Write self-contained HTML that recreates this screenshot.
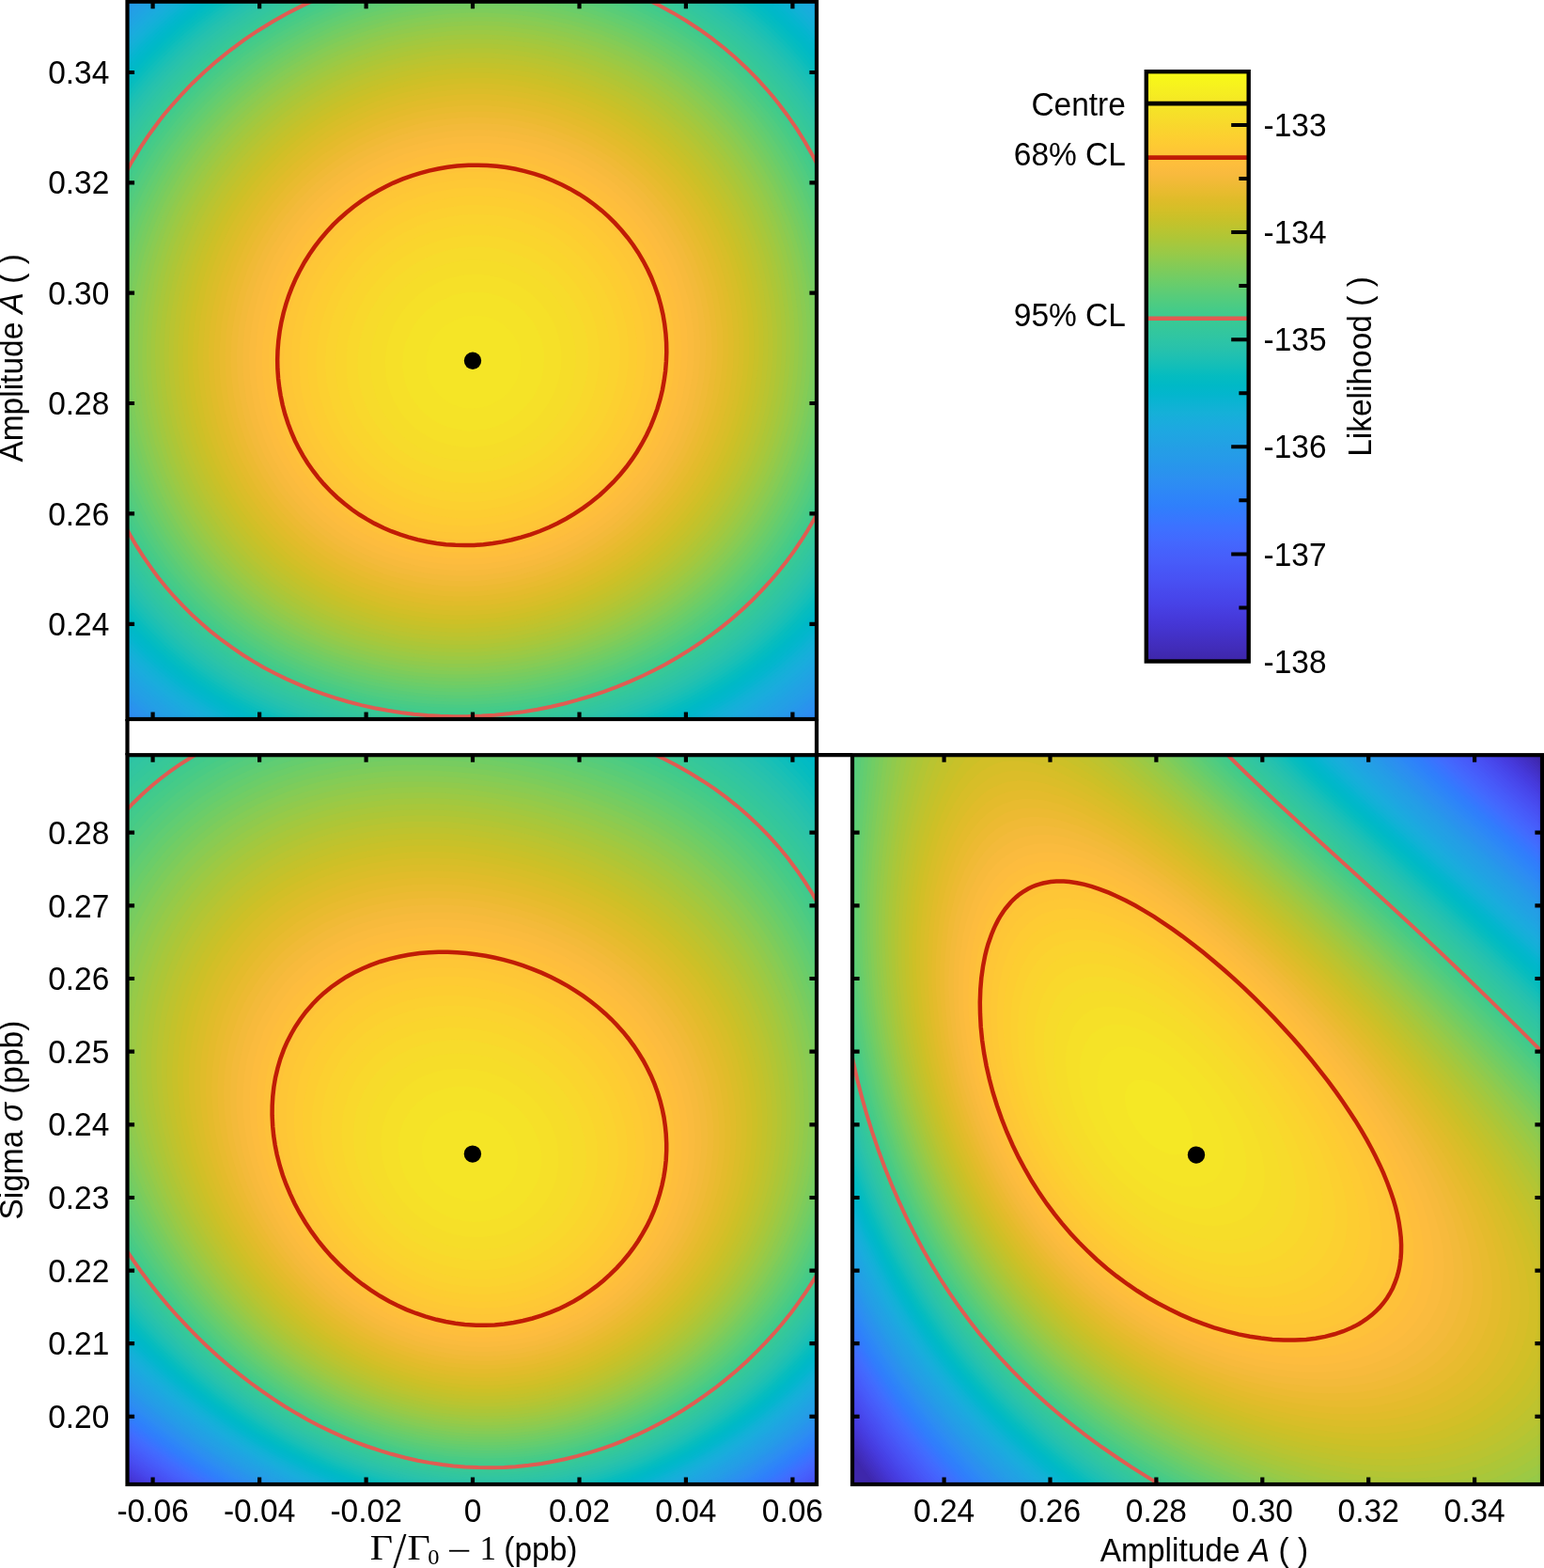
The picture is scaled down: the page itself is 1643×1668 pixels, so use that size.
<!DOCTYPE html>
<html lang="en"><head><meta charset="utf-8"><title>Likelihood contours</title>
<style>html,body{margin:0;padding:0;background:#fff}body{width:1643px;height:1668px;overflow:hidden}svg{display:block}text{font-family:"Liberation Sans",Arial,sans-serif;font-size:33.5px;fill:#000}.m{font-family:"Liberation Serif","DejaVu Serif",serif}.i{font-style:italic}</style></head><body>
<svg width="1643" height="1668" viewBox="0 0 1643 1668">
<rect width="1643" height="1668" fill="#fff"/>
<defs><clipPath id="c1"><rect x="135.5" y="1.7" width="733.5" height="763.3"/></clipPath><clipPath id="c2"><rect x="135.5" y="803.2" width="733.5" height="775.8"/></clipPath><clipPath id="c3"><rect x="907" y="803.2" width="734" height="775.8"/></clipPath><linearGradient id="cb" x1="0" y1="0" x2="0" y2="1"><stop offset="0.0000" stop-color="#f9fb15"/><stop offset="0.0156" stop-color="#f7f51b"/><stop offset="0.0312" stop-color="#f6ef20"/><stop offset="0.0469" stop-color="#f5e924"/><stop offset="0.0625" stop-color="#f5e327"/><stop offset="0.0781" stop-color="#f7dd2a"/><stop offset="0.0938" stop-color="#f9d62d"/><stop offset="0.1094" stop-color="#fcd030"/><stop offset="0.1250" stop-color="#feca33"/><stop offset="0.1406" stop-color="#fec437"/><stop offset="0.1562" stop-color="#febe3c"/><stop offset="0.1719" stop-color="#f9ba3e"/><stop offset="0.1875" stop-color="#f1ba37"/><stop offset="0.2031" stop-color="#e8bb2f"/><stop offset="0.2188" stop-color="#debc29"/><stop offset="0.2344" stop-color="#d4bf27"/><stop offset="0.2500" stop-color="#c8c129"/><stop offset="0.2656" stop-color="#bcc42f"/><stop offset="0.2812" stop-color="#afc636"/><stop offset="0.2969" stop-color="#a2c840"/><stop offset="0.3125" stop-color="#94ca4a"/><stop offset="0.3281" stop-color="#85cb55"/><stop offset="0.3438" stop-color="#77cc60"/><stop offset="0.3594" stop-color="#69cd6b"/><stop offset="0.3750" stop-color="#5ccc76"/><stop offset="0.3906" stop-color="#4fcc80"/><stop offset="0.4062" stop-color="#43cb8a"/><stop offset="0.4219" stop-color="#3ac993"/><stop offset="0.4375" stop-color="#34c79c"/><stop offset="0.4531" stop-color="#2ec5a4"/><stop offset="0.4688" stop-color="#28c2ab"/><stop offset="0.4844" stop-color="#1ec0b2"/><stop offset="0.5000" stop-color="#12beb9"/><stop offset="0.5156" stop-color="#05bcc0"/><stop offset="0.5312" stop-color="#00b9c6"/><stop offset="0.5469" stop-color="#03b6cd"/><stop offset="0.5625" stop-color="#0cb3d3"/><stop offset="0.5781" stop-color="#15b0d8"/><stop offset="0.5938" stop-color="#1aacdd"/><stop offset="0.6094" stop-color="#1ea7e1"/><stop offset="0.6250" stop-color="#21a3e3"/><stop offset="0.6406" stop-color="#249ee6"/><stop offset="0.6562" stop-color="#269ae9"/><stop offset="0.6719" stop-color="#2895ec"/><stop offset="0.6875" stop-color="#2c90f0"/><stop offset="0.7031" stop-color="#2d8bf4"/><stop offset="0.7188" stop-color="#2e85f8"/><stop offset="0.7344" stop-color="#2f80fb"/><stop offset="0.7500" stop-color="#347afd"/><stop offset="0.7656" stop-color="#3a74ff"/><stop offset="0.7812" stop-color="#3f6eff"/><stop offset="0.7969" stop-color="#4368fe"/><stop offset="0.8125" stop-color="#4562fc"/><stop offset="0.8281" stop-color="#475dfa"/><stop offset="0.8438" stop-color="#4757f7"/><stop offset="0.8594" stop-color="#4852f4"/><stop offset="0.8750" stop-color="#484cef"/><stop offset="0.8906" stop-color="#4746eb"/><stop offset="0.9062" stop-color="#4741e5"/><stop offset="0.9219" stop-color="#463bdd"/><stop offset="0.9375" stop-color="#4536d5"/><stop offset="0.9531" stop-color="#4332ca"/><stop offset="0.9688" stop-color="#422ebf"/><stop offset="0.9844" stop-color="#402ab4"/><stop offset="1.0000" stop-color="#3e26a8"/></linearGradient></defs>
<g clip-path="url(#c1)">
<g shape-rendering="geometricPrecision"><rect x="132.5" y="-1.3" width="740" height="770" fill="#2f81fa"/>
<path fill="#2e84f9" d="M132.5-1.5l740 0 0 770-0.5 0-739 0-0.5 0z"/>
<path fill="#2e86f7" d="M132.5-1.5l740 0 0 766.5-5.5 3.5-730 0-4.5-3.5z"/>
<path fill="#2d88f6" d="M132.5-1.5l740 0 0 762.5-10 7.5-721.5 0-8.5-6.5z"/>
<path fill="#2d8bf4" d="M132.5-1.5l740 0 0 759-15 11-712.5 0-12.5-9.5z"/>
<path fill="#2d8df2" d="M132.5-1.5l740 0 0 755.5-19.5 14.5-704 0-16.5-13z"/>
<path fill="#2c8ff0" d="M132.5-1.5l740 0 0 752-12 9-12.5 9-695 0-20.5-16z"/>
<path fill="#2b91ef" d="M132.5-1.5l740 0 0 748-14 11-15.5 11-686 0-12.5-9.5-12-10z"/>
<path fill="#2a93ed" d="M133.5-1.5l739 0 0 744.5-17.5 13.5-17 12-676.5 0-15-11-14-12 0-746z"/>
<path fill="#2895ec" d="M135 0.5l2-2 735.5 0 0 740.5-20 15.5-19.5 14-667.5 0-17-13-16-13 0-739.5z"/>
<path fill="#2798ea" d="M138.5 0.5l2-2 732 0 0 737-22 17-23 16-657.5 0-19.5-14.5-18-15 0-733z"/>
<path fill="#269ae9" d="M142 0.5l2-2 728.5 0 0 733-12 10-12 9-14 10-12 8-648 0-21.5-16-20.5-17 0-726z"/>
<path fill="#259ce7" d="M145.5 0.5l2-2 725 0 0 729-13.5 11-13 10-14 10-14.5 10-638.5 0-12.5-8.5-12-9.5-12-9.5-10-9 0-719.5z"/>
<path fill="#249ee6" d="M149 0.5l2.5-2 721 0 0 725.5-14 11.5-14.5 11-15.5 11.5-16.5 10.5-628.5 0-14-10-13-9.5-12.5-10.5-11.5-10 0-712.5z"/>
<path fill="#23a0e5" d="M153 0.5l2-2 717.5 0 0 721.5-15.5 12.5-16.5 13-16 11.5-18 11.5-618.5 0-15.5-10.5-14-11-12.5-10.5-13.5-11.5 0-705.5z"/>
<path fill="#22a1e4" d="M156.5 0.5l2.5-2 713.5 0 0 717.5-16 13.5-18 14-18.5 13-19 12-608.5 0-16-11-14.5-11-14.5-12-15-13 0-698.5 12-11.5z"/>
<path fill="#21a3e3" d="M160.5 0.5l2-2 710 0 0 0.5 0 713-17.5 14.5-18.5 15-20 14-21 13-598 0-17-11.5-16.5-12.5-15.5-12.5-16-14.5 0-691 14-13.5z"/>
<path fill="#1fa5e2" d="M164 0.5l2.5-2 701.5 0 0.5 0.5 4 4 0 704.5-19.5 17-20.5 16-20 14-22.5 14-587.5 0-18-12-19-14-17-14-16-14.5 0-684 16-15.5z"/>
<path fill="#1ea7e1" d="M168 0.5l2.5-2 693 0 3 3 6 6 0 696-20 17.5-22 17.5-22 15-24 15-577 0-21-13.5-18-13.5-18-15-18-16.5 0-676 17.5-17.5z"/>
<path fill="#1ca9df" d="M172 0.5l2.5-2 684.5 0 5.5 5.5 8 8 0 687.5-10.5 9-11.5 10-10 8.5-12 9-12 8.5-12 8.5-12.5 7.5-13.5 8-566 0-21.5-14-20.5-15-20-16.5-18-17 0-668.5 19.5-19z"/>
<path fill="#1babde" d="M176.5 0.5l2-2 676.5 0 7.5 7.5 10 10.5 0 678.5-10.5 9.5-11.5 10.5-12 9.5-13 10-13 9.5-13.5 8.5-12.5 8-14 8-555 0-11-7-12-7.5-10-7.5-12-9-10-8-10.5-9-9.5-8.5-9.5-9.5-0.5 0 0-661 10.5-11 10.5-10 11-10z"/>
<path fill="#19addc" d="M180.5 0.5l2.5-2 667 0 10.5 10 12 12.5 0 669.5-12 11.5-12 10.5-12.5 10-13 10-12.5 9-14 9.5-14 8.5-15.5 9-544 0-12.5-7.5-12-8-12-8-10-7.5-11-9-11-9.5-10-9-9.5-9.5-2.5-2 0-653.5 12-12 10.5-10.5 13.5-11.5z"/>
<path fill="#17aeda" d="M184.5 0.5l2.5-2 658.5 0 12.5 12 14.5 15 0 661-12 11.5-12.5 10.5-13.5 11.5-14 11-14 9.5-15 10-15 9.5-16 8.5-532 0-13.5-8-12.5-8-11.5-8-11-8-11.5-9-10.5-9-11-10-10-10-4.5-4 0-645.5 12-12.5 12.5-12 13.5-12z"/>
<path fill="#14b0d8" d="M189 0.5l2.5-2 649.5 0 15.5 15 16 17 0 651.5-1 0.5-12 12-13.5 12-13.5 11-14.5 11-15.5 11.5-16 10-16 10-16 8.5-520.5 0-13.5-7.5-13-8.5-13-9-12-8.5-12-9.5-10.5-9-11-10-10-10-6.5-6 0-637.5 12-12.5 14.5-14 15.5-14z"/>
<path fill="#11b1d6" d="M193.5 0.5l2.5-2 640 0 10.5 9.5 10 10 16 17 0 642.5-6 6-14 13-14 12-14 11.5-14 10.5-15 10-15.5 10-15.5 9.5-16.5 8.5-508.5 0-14-8-13-8-14-9.5-12-8.5-12.5-10-12-10-11.5-10.5-11.5-11.5-6.5-6.5 0-629 14-14.5 14-14 16-14z"/>
<path fill="#0db3d3" d="M198 0.5l2.5-2 631 0 13 12 12 12 16 17.5 0 633-12 11.5-12.5 12-14 12-15.5 12-13.5 10-15 10-15.5 10-16 9.5-16.5 8.5-496.5 0-15-8-14-9-14-9-14-10-12.5-10-13.5-11.5-12-11-11.5-11.5-6.5-6.5 0-620.5 14-15 16-16 18-15.5z"/>
<path fill="#08b4d1" d="M202.5 0.5l2.5-2 621.5 0 15.5 14 14.5 15 16 17.5 0 623-16.5 16.5-13 12-14 12-14.5 11.5-15 10.5-15 10.5-16 9.5-16 9-17.5 9-483.5 0-15-8-16-9.5-15.5-10.5-14-10-13-10-14-12-13-12-12-12-6.5-7 0-612 15.5-17 16.5-16 18-16z"/>
<path fill="#04b6ce" d="M207 0.5l2.5-2 612 0 17.5 16 18 18 15.5 17.5 0 613.5-11 11-11 11-12.5 11-14 12-15.5 12-14.5 10-15.5 10.5-16 9.5-18 10-16 8-471 0-15-8-17-10-15.5-10-15.5-11-14-11-14.5-12-13.5-12.5-13-13.5-7-7 0-603.5 17.5-19.5 18.5-17.5 18.5-16.5z"/>
<path fill="#02b7cb" d="M211.5 0.5l3-2 601.5 0 12 10 10.5 10 10 10 9.5 10 14.5 16.5 0 603.5-13.5 14-14.5 14-13.5 12-14.5 12-14 10.5-16 11-16 10.5-16 9-16 9-17 8-457.5 0-17.5-9-18-10.5-16.5-10.5-15.5-11-16-12.5-14.5-12.5-13.5-12.5-14-14.5-6-6.5 0-594.5 18-20 20-19.5 20-17.5z"/>
<path fill="#00b8c9" d="M216.5 0.5l3-2 591.5 0 12 10 11.5 11 11.5 11 11.5 12 15 17.5 0 593.5-16 17-16.5 16-14 12-15 12-14.5 11-16 11-16 10-16 9-17.5 9-16.5 8-444 0-19.5-10-17.5-10-19-12-16-11-16.5-13-15.5-13.5-14-13-14-15-6-6.5 0-585.5 10-11.5 10-11 10-10 10-9.5 21-18.5 11-8.5z"/>
<path fill="#00b9c6" d="M221.5 0.5l3-2 581 0 14.5 12 13 12 13.5 13.5 12 12.5 14 17 0 583-9 10-9.5 10-9.5 9.5-10 9-14 12-14.5 11.5-15.5 11.5-16 10.5-16 10-16 9-18 9-17.5 8-430 0-20-10-18.5-10-19-12-17-12-18-13.5-16-14-15-14.5-15-16-6-7 0-576 10-11.5 10-11.5 10-10 12-11.5 11.5-10.5 12-10 12.5-9.5z"/>
<path fill="#02bbc3" d="M226.5 0.5l3-2 570.5 0 15 12 15.5 14.5 14 13.5 14 15.5 14 17 0 572.5-10 11.5-11 11.5-11 11-12.5 11-14.5 12-15 12-14.5 10-15.5 10-16.5 10-17.5 9.5-17 8.5-18 8-415.5 0-20.5-10-21-11-20-12.5-18-12.5-18-14-16-14-16-15-15.5-17-6.5-7.5 0-567 10-11.5 10.5-12 11.5-11.5 12-11.5 12-11 12-10 12.5-10z"/>
<path fill="#05bcc0" d="M231.5 0.5l3-2 560 0 17.5 14 16.5 15 15 15 15 16.5 14 17.5 0 562-12 14-12 12-12 12-14 12.5-14 11.5-16 12-16 11.5-16 10-16 9.5-17.5 9-17 8-18 8-400.5 0-23-10.5-21-11.5-21-12.5-19.5-13.5-18.5-14-18-16-16-16-16-17-6-7.5 0-557 10-12.5 12-13 12-12.5 12-11.5 12-11 14-11.5 13.5-10.5z"/>
<path fill="#09bdbd" d="M237 0.5l3-2 549 0 19.5 16 18 16 16 16 16 18 14 17.5 0 551-13.5 15.5-13 14-14.5 14-16 14-15 12.5-16 11.5-15 10-16 10-17 9.5-16.5 8.5-17.5 8.5-18.5 7.5-385 0-22.5-10-12-6-12-6.5-22-13-20-13.5-19-15-19-16-18-18-16-18-6-7.5 0-547 11-13.5 12-14 12-12 13-12.5 12.5-11.5 14.5-12 15-11.5z"/>
<path fill="#0fbebb" d="M242.5 0.5l3-2 537.5 0 10.5 8 11 9 19.5 17 10 10 8.5 9 16.5 19 13.5 17.5 0 540-14 16.5-15 16-17 16-16 14-15 12-15 11-17 11-16.5 10-16.5 9.5-18 9-18 8-19 7.5-368.5 0-24.5-10.5-12-5.5-12-6.5-12-6.5-11-7-21-14-10.5-8-10.5-8-9.5-8-9.5-8.5-9.5-9.5-10-10-8.5-9.5-8-9.5-6-7.5 0-537 11.5-14.5 12-14 13.5-14 13-12.5 15-13.5 15-12 14-10.5z"/>
<path fill="#15bfb8" d="M248 0.5l3-2 526 0 11.5 8.5 12 9.5 10 8.5 10.5 9.5 10 10 9.5 10 10 11 9 11 13 17 0 529-15 18-17 18.5-18 17-19.5 16.5-14.5 11.5-16 11-16 10.5-18 10.5-16.5 8.5-17.5 8.5-18 8-19.5 7.5-352 0-14.5-5.5-12-5.5-12-5.5-12-6-12-6.5-12-7.5-12-7.5-11.5-8-10.5-7.5-10.5-8.5-9.5-8-11-10-10-10-9-9-9.5-11-8.5-10-6-7.5 0-527 12-15 12.5-14.5 13-14 14.5-14 15.5-14 15-12 15.5-12z"/>
<path fill="#1ac0b5" d="M253.5 0.5l3.5-2 514 0 11.5 8.5 12.5 9.5 12 10 11.5 11 11.5 11 10.5 11 10 11.5 9.5 11.5 12.5 17 0 517-8 10-8 10-9 10-9.5 10-9.5 9.5-10 9-11 9.5-11 9-16 12-16 11-16.5 10-17.5 10-18 9.5-18 8.5-18 7.5-18.5 6.5-334.5 0-15-5.5-14-6-14-6.5-12-6-12-6.5-12.5-7.5-12.5-8-12-8-11-8-12-9.5-10-8.5-10.5-10-10-10-9.5-10-10-11-8.5-11-5.5-6.5 0-516.5 13-17 13-15 14-15 14.5-14 15.5-13.5 16-13.5 17.5-13z"/>
<path fill="#1fc0b2" d="M259.5 0.5l3.5-2 502 0 13.5 10 13.5 10 12.5 11 12 11 12 11.5 11.5 12.5 10.5 12 10 12.5 12 16.5 0 505.5-9 11.5-9 11-10 11-10 11-10 9.5-12 11-12 10-11 8.5-15 11.5-16.5 10.5-17.5 11-18 10-18 9-18 8-20 8-18 6-316 0-16-5.5-14-6-14-6-14-7-14-7-12-7-14-9-12-8-12-9-12-9.5-11.5-10-10.5-9.5-10-10.5-10-10.5-10-11.5-9.5-12-4.5-6 0-506 12-16 14-16 14.5-16 16.5-16 15.5-14 17.5-14 18-13z"/>
<path fill="#24c1af" d="M265.5 0.5l3.5-2 489.5 0 14.5 10 15.5 12 14 12 12 11 12 11.5 12.5 13.5 11.5 14 11 14 11 15.5 0 493-10 13.5-10 12-10.5 12-11.5 12-12 11.5-12 10.5-12 10-13 10-17 12-16 10.5-18 10.5-17.5 9-18.5 9-18 7.5-20 7.5-18.5 6-295.5 0-16-5-14-5.5-16-6.5-14-7-15.5-8-14.5-8-13-8-13-8.5-12.5-9.5-13-10-11.5-10-11-10-11.5-12-10.5-11.5-10-11.5-10-13-4-5.5 0-494.5 13-18 15-17.5 15-16.5 16.5-16 18-16 17.5-14 19-13.5z"/>
<path fill="#27c2ac" d="M272 0.5l3-2 476.5 0 15 10 16 12 16 13 14 13 14 14 12 13 12 14.5 11 14.5 11 16 0 480.5-10 13.5-11 14-11 12.5-12 12.5-13.5 13-12.5 11.5-13.5 10.5-14.5 11-16 11-18 11.5-18 10-18 9.5-18 8-20 8-20 7-19 6-275 0-16-5-16-5.5-16-6.5-16-7.5-15-7.5-15-8-14-8.5-14-9.5-14-10-12.5-10-12-10-12.5-12-12-12-10.5-12-10.5-12.5-10-13-4-6 0-483 14-19 15-18.5 16.5-18 16.5-15.5 18-16 18-14.5 20-14z"/>
<path fill="#2bc3a9" d="M278.5 0.5l3-2 463.5 0 17.5 12 16 11.5 16 13 15 13.5 15 15 13.5 15 12.5 15.5 12 16 10 15 0 468-11.5 15.5-11 14-12 14-13.5 14-14 13.5-14 12.5-14 11-15 11-17 11.5-18 11-18 9.5-20 10-19 8-19 7.5-20 6.5-21 6-251.5 0-17.5-5-16-5.5-18-6.5-16-7-16-7.5-16-8.5-16-9.5-14-9.5-14-10-14-11-14-12-12-11.5-12-12-10.5-12.5-11.5-14-10-13.5-4-5.5 0-471.5 14-19.5 16-20 16.5-18 17.5-17 19-17 20.5-16 20.5-14z"/>
<path fill="#2dc4a5" d="M285 0.5l3.5-2 449.5 0 18.5 12 18 13 18 14.5 16 14.5 15.5 16 14.5 16 12.5 16 13 18 8.5 13.5 0 454.5-11.5 16-12 16-14 16-13.5 14-14.5 14-16 14-15.5 12-17 12-18 12-18 10-19 10-19 9-20 8-20 7.5-20 6-21.5 5.5-226.5 0-18-4.5-18-5.5-18-6.5-18-7.5-17-8-17-8.5-16-9.5-16-10-14-10-15.5-12-13.5-12-13-12-12-12.5-12-13.5-12-15.5-10.5-14.5-3.5-5 0-459.5 14-20 16-20 17-19.5 19-18.5 20-17.5 20.5-16 11.5-8 11.5-8z"/>
<path fill="#30c5a2" d="M292 0.5l3.5-2 435 0 20 12.5 19 13.5 18 14 17.5 16 16 16 16 18 14 18 13.5 19.5 8 13 0 441-12 17.5-13 17-13.5 16-15 16-16.5 15.5-16 14-18 13.5-18 12.5-18 11-20 11.5-20 9.5-19.5 8.5-20.5 8-20 7-22 6-22 5-198 0-20-4.5-20-5.5-20-7-18-7-18-8-18-9-18-10-16-10-15-11-15.5-12-14-12-14.5-14-13.5-14-12-14-12-16-11-16-2.5-3.5 0-446.5 8-12 7-10 9-12 8-9.5 9-10.5 9-10 18-18 11.5-10 10.5-9 11.5-9 10.5-8 12-8 11.5-8z"/>
<path fill="#32c69f" d="M299 0.5l3.5-2 420.5 0 21.5 13 20 14 19.5 15 18.5 17 9.5 9 8.5 9 16 18.5 8 10 7.5 10.5 13.5 20 7 11.5 0 427-13 19.5-13.5 18-15 18-15 16-17.5 16.5-18.5 15.5-19.5 14.5-20 13.5-18 10.5-20 11-20 9-20 8.5-20 7-22 7-20 5.5-22 4.5-7 1-165 0-4-0.5-22-4.5-20-5.5-20-6.5-20-7-18-8-20-9.5-18-10-18-11-16-11.5-16-12-16-14-14.5-14-13.5-14.5-13-15.5-12-16-11-16.5-2-3.5 0-433.5 8-12.5 8-11.5 8-10.5 9.5-12 8.5-10 10-11 10-10 10-9.5 10-9.5 12-10 12-9 12-9 12-8 12-7.5 12-7.5z"/>
<path fill="#34c79b" d="M306.5 0.5l3.5-2 405 0 11.5 6.5 12 7.5 10 6.5 11 7.5 11 8 10 8.5 10 8.5 10 9 10 10 8 8.5 8.5 9.5 9.5 11.5 8 10.5 7.5 10 6.5 10 7.5 12 6.5 11 0 412.5-13 20.5-7 10-8 10-15 18-17 18.5-10 9.5-9 8-19 16-20 14.5-22 14.5-19.5 11-18.5 9.5-20 9-20 8-22 7.5-20 6-20 5-22 4-20 3-123 0-15-2-16-3-21.5-5-20.5-5.5-18.5-6.5-19.5-7-19.5-9-18.5-9-18-10.5-16-10.5-16.5-12-15.5-12-15.5-14-14-14-14.5-16-12-15-12-16.5-10.5-16.5-1.5-2.5 0-420 8-13 8.5-12.5 8.5-12 9-11 10-12 10-11 9.5-10 10.5-10 11-10 12-10 13-10 11-8 12-8 13-8 14-8.5z"/>
<path fill="#37c898" d="M314 0.5l4-2 389 0 11.5 6.5 13.5 7.5 10.5 7 12 8 12 9 10 8 10 8.5 10.5 9.5 10 10 9.5 10 9 10 9 11 8.5 11 8.5 12 7.5 12 7.5 12 6 11 0 397-6 10.5-7.5 11.5-8.5 12-7.5 10-8 10-8.5 10-9 10-9 9.5-10 9.5-10 9-20 16.5-10.5 7.5-12 8-11.5 7.5-12 7.5-18 10-20 9.5-20 8.5-20 7.5-20 6.5-22 6-22 5-20 3.5-22 3-21 1.5-57.5 0-17.5-1-18-2.5-18-3-17.5-3.5-20.5-5-20-6-20-7-19-8-19-8.5-18-10-18-10.5-15.5-11-16-12-14.5-12-15-14-13.5-14-12-14-12.5-16-11-16-11-18-1-1.5 0-406 8-13.5 8-12 9-13 9-12 10-12 11-12 11-11 11-11 11-10 12-10 13-10 13-9 13.5-9 12.5-8 14-8z"/>
<path fill="#39c994" d="M322 0.5l4.5-2 372 0 14 7.5 12 7 13 7.5 11.5 8 11.5 8.5 12.5 9.5 11.5 10 11 10 11 11 10 10.5 10 12 8.5 10.5 9 12 8 12 8.5 13.5 7.5 12.5 4.5 9 0 381.5-6.5 11.5-7.5 12-8 12-9 12-9 12-9 10-9 10-10 10-10.5 10-11 10-10.5 8.5-12 9.5-11.5 8-12 8-12.5 8-12 6.5-18.5 9.5-19.5 9.5-20 8-20 7-20 6-22 5.5-20 4.5-22 3.5-22 2-20 1.5-22 0.5-20-0.5-20-1.5-22-2.5-20-3.5-22-4.5-20-5.5-20-6.5-20-7.5-18-7.5-18-9-16.5-9.5-17.5-10.5-16-11.5-15.5-12-14.5-12.5-14-13.5-14-15-12.5-15-12-16-10.5-16-10.5-18-0.5-0.5 0-392 8-13.5 8.5-14 9.5-13 9.5-13 10-12 10.5-12 11.5-12 12.5-11.5 12-11 14-11.5 13-10 13-9 14-9 14-8 14-8z"/>
<path fill="#3dc990" d="M330.5 0.5l4.5-2 354.5 0 13 6.5 14 7.5 14 8.5 14 9 12 8.5 13 10 11.5 10 11.5 10.5 11.5 11.5 10.5 11.5 10 11.5 10 13 9 12 9 14 8.5 14 7.5 13.5 4 8 0 365-7.5 13.5-7 12-8 12-8.5 12-9 12-10 12-10 11-11 11-11 10.5-12 10.5-12 10-12 9-12 8.5-14 9-12 7-14 7.5-18 9-20 9-20 7.5-20 6.5-21 6-21 5-20 3.5-22 3-22 2-20 1-22 0-20-1-22-2-20-3-20-4-20-4.5-20-6-18-6-19.5-8-18.5-8-18-9.5-17.5-10.5-16.5-11-15-11-15-12-15-14-13.5-14-12.5-14-11-14-12-16.5-10-16-10-17.5 0-376.5 8.5-15.5 8.5-14 9-13 10-13.5 11-13.5 11-12.5 12-12.5 12-11.5 12.5-11.5 13.5-11 14-10.5 15-10.5 15-9.5 14.5-8.5 15.5-8z"/>
<path fill="#41ca8c" d="M339.5 0.5l4.5-2 336 0 16.5 8 14 7.5 14 8 14 9 14 9.5 13 10 13 11 12 11 12 12 11 12 11 13 10 13.5 9.5 13.5 9 14 8 14 8.5 16 3 6.5 0 347.5-7.5 14-8 14-8.5 14-8.5 12-9.5 12.5-10 12-10.5 11.5-11.5 12-12 11.5-12.5 10.5-12.5 10-13.5 10-13.5 9.5-14 8.5-14 8-16 8.5-18 8.5-20 8-20 7-20 6.5-20 5-20 4-20 3.5-22 2.5-20 1.5-22 0.5-22-0.5-20-1.5-20-2.5-20-3-20-4.5-20-5-19.5-6.5-18.5-6.5-18-8-18-8.5-18-10-16-10-16-11-15.5-12-14.5-12.5-14-13.5-13-14-12-14-11-14.5-10.5-15.5-9.5-16-10-18 0-360.5 8-15.5 9.5-16 9.5-14 10-14 11.5-14 11.5-13.5 12-12.5 12.5-12 13.5-12 14-11.5 14-10.5 16-10.5 16-10 16-9 16-8.5z"/>
<path fill="#45cb88" d="M349 0.5l5-2 316 0 16.5 7.5 16 8 16 9 15.5 9.5 14.5 10 14 11 13.5 11 13 12 12 12 12.5 14 11.5 14 10.5 14 9.5 14 9.5 16 8.5 16 8 16 1.5 3.5 0 330-7.5 14.5-8.5 16-9 14-9.5 14-10.5 14-11 13.5-11.5 12.5-12 12-13 12-13.5 12-13.5 10-14 10-15.5 10-15 9-16 8.5-16 8-18 7.5-20 7.5-20 6.5-18.5 5-19.5 4.5-20 4-20 2.5-22 2-22 1-20 0-20-1-20-2-20-3-20-3.5-20-5-18.5-5.5-19.5-6.5-18-7-18-8.5-16-8-16.5-10-15.5-10-16-11.5-15.5-12.5-14.5-13-12.5-13-13-14-11-14-11.5-15.5-10-15.5-9.5-17-8.5-16.5 0-343.5 8-16 9-16 10.5-16 10.5-14.5 12-15.5 12-14 12-12.5 13.5-13.5 13.5-12 15-12 16-11.5 16-10.5 16-10 18-10 16.5-8z"/>
<path fill="#4acb84" d="M359 0.5l5.5-2 294.5 0 3.5 1.5 18 7.5 16 8 17 9 16 10 15 10.5 16 12 14 11.5 14 13.5 12.5 12.5 12.5 14 11 14 11.5 16 10.5 16 9 16 9 17.5 7.5 16.5 0.5 1.5 0 310.5-7.5 16-8.5 16-9.5 16-9.5 14-11 15.5-12 14.5-12 13.5-12.5 12.5-13.5 12.5-14 12-15.5 11.5-16.5 11.5-16 10-16 9-18 9-18 8-18 7.5-20 6.5-18 5.5-20 5-20 4-20 3-20 2-20 1.5-20 0-20-0.5-20-1.5-20-2-20-3.5-20-4.5-20-5-18-6-18-6.5-18-8-16-7.5-16.5-9.5-16.5-10-15-10-15-12-14-12-13-12-13-14-12-14-11-14-11-16-10-16-8.5-16-8.5-17 0-326 8-17 10-17.5 10-16.5 11-16 12.5-16 12-14 13-14 14.5-14 15-13 16-12.5 16-11.5 16.5-11 17.5-10 18-9.5 18-8.5z"/>
<path fill="#50cc80" d="M370 0.5l6-2 271.5 0 23 9 18 8.5 16 8.5 16 9 16 10.5 14.5 10.5 15 12 13.5 12 13 13 12 13 12 14.5 12 15.5 10 15 10 16.5 9 16.5 7.5 16 7.5 18 0 290-4.5 10-8.5 18-8.5 16-10 16-10.5 16-12 15.5-12 14-12 13-14 13.5-14 12.5-15 11.5-15 11-17 11-17 10.5-18 9-18 8.5-18 7.5-18.5 6.5-19.5 6.5-18 4.5-20 4.5-18 3-20 2.5-20 1.5-20 1-20-0.5-20-1-18.5-2-19.5-2.5-20-4-18-4.5-20-6-18-6-17-7-17.5-8-17.5-9-16-9.5-14.5-9.5-15.5-11-14-11.5-14-13-12.5-12.5-12.5-14-11.5-14-10-14-10.5-16-9-15.5-8.5-16.5-7.5-16.5 0-307 3.5-8.5 9-18 9.5-17 10.5-17 11.5-16 12-15.5 12.5-14.5 13.5-14 14.5-14 15.5-13 16-12.5 16-11 18-11.5 18-10 19-10 19-8z"/>
<path fill="#55cc7c" d="M382 0.5l6.5-2 246.5 0 21.5 8 22 9.5 16 7.5 16.5 9 16 10 15.5 11 14 10.5 14 12 13.5 12.5 12.5 13.5 12 13.5 12 15 10 14.5 10 15.5 9 16 8.5 16 8 18 6.5 17 0 268.5-6 15-7 15.5-8.5 16-9.5 16-10.5 16-10.5 15-12.5 15-12.5 14-13 13-14.5 13-14.5 12-16 12-17 11.5-16 9.5-17 9-17 8.5-18 7.5-20 7.5-20 6.5-18 5-18 4-20 3.5-18 2.5-20 2-20 1-20 0-20-1-18-1.5-20-3-18-3.5-18-4-18-5-18-6-18-6.5-16-7.5-16.5-8-15.5-8.5-16-10-14-9.5-15-12-14-12-13-12.5-12.5-13.5-11.5-13-11-15-9.5-14-10-16-8.5-16-8-16-7-16.5 0-286.5 5.5-13 5.5-12 9-17.5 9.5-16.5 10.5-16 12-16 13-16 13-14.5 14-14 15-13.5 17-13.5 16-11.5 16-11 18-10.5 18-9.5 20-9.5 18-7.5z"/>
<path fill="#5acc77" d="M395 0.5l7-2 218.5 0 18 6 16 5.5 16 6.5 17 8 15 8 16 9.5 16 10.5 14 10.5 14 11.5 13.5 12 12.5 13 12 13 11.5 14 10.5 14 11 16 9.5 16 8.5 16 7.5 16 7.5 18 6 17.5 0 244-4.5 12.5-5.5 14-6 13-6.5 13-9 16-10.5 16-11.5 16-11 14-12.5 14-13.5 14-15 14-14.5 12-16 12-14.5 10-17.5 11-17 9-17 8.5-18 8-18 6.5-20 7-18 5-20 4.5-18 3.5-20 2.5-18 2-20 1-20 0-18-1-18-1.5-20-2.5-18-3-18-4-18-5-18-5.5-18-7-16-7-16-7.5-16-9-15.5-9.5-14.5-10-14-10.5-13.5-11.5-12.5-11.5-12-12.5-12-14-10-12.5-10-14-10-15.5-8-14-8-16-7-16-7-17.5 0-264.5 8.5-22 5.5-11.5 5.5-10.5 10-18 10-16 10.5-15 12-15.5 13.5-15.5 13.5-14 15-14 14-12 16-12 16.5-12 17.5-10.5 18-10 18.5-9.5 19.5-8.5 20-7.5z"/>
<path fill="#60cd73" d="M410 0.5l8.5-2 185.5 0 12.5 3.5 12 3.5 12 4 12 4.5 22 9 11.5 5.5 10.5 5.5 16 9.5 14.5 9 15.5 11.5 14 11 13 11.5 13 12.5 12 13 12 14 11 14.5 9.5 14 10 16 8.5 16 8 16 7 16.5 6.5 17.5 5.5 17 0 217.5-6.5 19.5-8 20-9.5 20-10 18-10 16-10 14.5-12 15.5-12.5 14-13.5 14-14 13.5-15 12.5-15 11.5-16 11-16 10-18 10-18 9-18 8-18 6.5-18 6-20 5.5-18 4.5-18 3.5-20 2.5-18 2-18 1-20 0-18-0.5-18-1.5-18-2.5-18-3-18-3.5-18-5-16-5-18-6.5-16-6.5-16-7.5-16-8.5-14.5-9-15-10-13.5-10-13-10.5-12.5-11.5-12-12-11.5-12-11-14-10.5-14-9.5-14-9-15.5-7.5-14.5-7.5-16-7-16-6-17.5 0-240.5 5.5-16 6.5-16 7.5-16 8.5-16 10-16.5 11.5-17.5 12.5-16 11.5-14 13-14 14.5-14 15-13 16-13 17-12 17-11 18-10 17-9 19-8.5 19-7.5 19-6z"/>
<path fill="#65cd6e" d="M428 0.5l10-2 146 0 16.5 3.5 16 4.5 16 4.5 16 6 14.5 5.5 15.5 7 16 8.5 14 8 16 10 14 10 14 11 13 11.5 13 12.5 12 13 11 12.5 11 14 10 15 9.5 15 8.5 15 8 16 7.5 17 6 16 6 18 4.5 16.5 0 187-4 14.5-4.5 14-5.5 14-5 12-6.5 14-6.5 12.5-8 13.5-7.5 12-10.5 15.5-11.5 14.5-12.5 14.5-13.5 13.5-14.5 14-14 11.5-16 12.5-16 11-16 9.5-18 10-18 9-18 7.5-19 7-19 6-18 5-20 4.5-18 3-18 2.5-18 1.5-18 1-18 0-18-1-18-1.5-18-2-16-3-18-4-18-4.5-16.5-5.5-15.5-5.5-16-6.5-16-7.5-16-8.5-14-8.5-14-9.5-14-10-14-11.5-12-11-12-12-12-13.5-10-12-9-12-9-14-8.5-14-9-16-6.5-14-7-16-5.5-16-5.5-16.5 0-214 3.5-11.5 4-12 9-22 5.5-11.5 5.5-10.5 6.5-12 6-10 10.5-16 11.5-16 12-14 14-15.5 14-14 14-12.5 16-12.5 16-12 17.5-11.5 16.5-9.5 18-9.5 18-8 18-7.5 20-7 20-5.5z"/>
<path fill="#6bcd69" d="M451 0.5l15-2 90 0 18.5 3 18 3 16.5 4 17.5 5 18 6.5 16 6.5 16 7 16 8.5 15.5 8.5 14.5 9.5 14 10 14 11 13 11.5 12.5 12 12.5 13.5 11 12.5 10.5 14 9.5 14 9 14.5 9 15.5 8 16 7 16 6 16 5 16 5 17.5 4 17.5 0 151-1 4-4.5 18-5.5 18-6.5 18-7.5 18-8 16-9 16-10 16-11.5 16-12.5 15.5-12 13.5-14 14.5-14 12.5-16 13-16 12-17 11-17 10-18 9.5-18 8-18 7.5-20 7-18 5.5-20 4.5-20 4-20 3-18 1.5-18 1-18 0.5-16-0.5-17.5-1.5-16.5-1.5-16-2.5-18-3.5-16-4-16-4.5-16-5.5-16-6.5-16-7-14-7-14-8-14-8.5-14-9.5-12-9-12-10-12-11-12-12-10.5-12-10-12-10.5-14-9-13.5-8-13.5-8-15-6.5-14-6-14-6-16-5-16-4.5-16 0-182.5 4-15.5 5.5-16 5.5-16 6-14 7-14 8-15 8-13.5 8.5-13.5 11.5-15.5 12-14.5 14-15.5 14-14 14-12.5 16-13 16-12 17-11 17-10 18-9 18.5-9 19.5-7.5 20-7 19.5-5.5 18.5-4z"/>
<path fill="#71cd64" d="M494 0.5l20.5 0 20 0.5 20 2 20 2.5 20 4 20 5 19.5 6 18.5 7 18 8 18 9 17.5 10 16.5 11 15.5 11 14.5 12 15.5 14 13.5 14 13 15 12 15.5 12 17.5 9.5 16 9.5 18 8.5 18 7 18 7 20 4 14 3 14 3 14 2.5 15.5 0 102.5-2.5 16-3.5 16-4 16-5 16-6 16-6 14-7 15-8 15-8.5 14-9.5 14-10 14-10 12.5-12 13-12 12.5-12 11-13.5 11-13 10-14 10-15.5 10-14.5 8-15.5 8.5-16 7-16 7-16 5.5-18 6-16.5 4-17.5 4-18 3.5-18 2.5-16 1.5-18 0.5-18 0.5-20-1-20-2-20-2.5-20-4-20-5-19.5-6-18.5-6.5-18-8-18-8.5-16-9-16-10-16-12-15-12-15-13.5-14-14-12-14.5-12.5-16-11-16-9.5-16-9-17-8.5-19-7-18-6.5-20-5-18-3-15 0-144.5 3.5-16.5 4-14 4-14 5-14 5.5-14 6.5-14 7-14 8-14 8.5-13.5 8.5-12.5 9-12 10-12 10.5-11.5 10-10.5 12-11.5 12-10.5 12.5-10 13.5-10 14-9 14-8.5 14-8 14-7 16-7.5 14-5.5 16-6 14-4.5 16-4 16-4 16-3 16-2 16-2z"/>
<path fill="#77cc60" d="M504.5 4.5l20 0.5 18 1 18 2 18 3 18 3.5 18 4.5 18 6 18 6.5 16.5 7 17.5 9 16 9 16 10 14 10 15.5 12 13.5 12 12 12 13 14 11.5 14 10.5 14 10 15 9 15 8.5 16 7.5 16 7 18 6.5 18 5 18 4 18 3.5 18 2.5 18 1.5 18 0.5 20-0.5 18-1.5 18-2 18-3 18-4.5 18-5 18-5.5 16-6.5 16-7 16-8.5 16-9.5 16-9.5 14-10 14-11.5 14-13 14-12 12-14 12.5-14 11.5-14 10.5-16 10.5-16 9.5-16 8.5-18 8.5-18 7.5-18 6.5-18 5.5-18 5-20 4-18 3-18 2-20 1.5-20 0-18-0.5-20-1.5-18-2-18-3-18-4-18-5-18-6-17-6.5-17-7.5-16-8-16-9-14.5-9.5-15.5-11-13.5-11-13-12-12-12-13-14-11-14-10-14-9.5-14.5-8.5-15.5-8.5-16-7-16.5-6.5-17.5-6-18-3.5-14-3-14-3-14-2-15 0-92 2.5-17 3-16 4-16 4.5-16 5.5-16 5.5-14 7-15 7.5-15 8-14 8.5-14 10-14 9-12 10-12 11-12 12-12 13-12 13-10.5 14-10.5 14-10 14-8.5 14.5-8.5 15.5-8 16-7.5 16-6.5 16-5.5 16-5 16-4.5 18-3.5 18-3.5 16-2 18-1z"/>
<path fill="#7dcc5b" d="M474.5 10.5l20-1 18-0.5 18 0.5 18 1.5 18 2 18 3.5 18 4 18 5 18 6 16 6.5 16 7.5 16 8 16 9.5 15 9.5 15 11 13.5 11 13.5 12 12 12 12.5 14 10.5 13.5 10 13.5 10 15 9.5 16 8 16 7 16 7.5 18 5 16 5 18 4 18 3.5 18 2 18 1.5 18 0 18-0.5 18-1.5 18-2 18-3 16-4 18-5.5 18-5.5 16-6.5 16-7.5 16-8.5 16-8.5 14.5-10 15-10 13.5-11 13-12.5 14-12.5 12.5-13 11.5-15 12-14 10.5-16 10.5-15.5 9-16.5 9-16 7.5-18 7.5-18 6-18 6-18 4.5-18 3.5-18 3-18 2-20 1.5-18 0.5-18-0.5-18-1-18-2-18-3-18-4-16.5-4.5-17.5-5.5-16-5.5-16-7-16-7.5-15-8.5-15-9-14-9.5-14-10.5-12-10.5-13-12.5-11.5-12-11.5-13-10-13-9.5-14-9-14-7.5-14-8-15.5-7-16.5-6-16-5-16-4.5-16-3.5-17-3-17-2-18-1-18-0.5-18 0.5-18 1-18 2-16 3-16.5 4-17.5 4-16 6-18 6-16 7-16 8-16 8-14 9-14 10-14 10.5-14 11.5-13 12-13 12.5-12 13.5-12 14-11 15-11 15-9.5 14-8.5 16-8 16-8 18-7 18-6.5 16-5 16-4.5 18-3.5 18-3z"/>
<path fill="#84cc56" d="M479.5 14.5l19-1 18 0 18 1 18 1.5 18 2.5 18 3.5 18 4 16 5 16.5 5.5 17.5 7.5 16 7.5 16 8.5 15 8.5 15 10.5 14 10.5 14 11.5 14 13 12 12.5 10.5 12 11 14 10.5 15 9.5 15 8.5 15 8 16.5 7.5 16.5 6 16 5 16 4.5 18 4 18 3 18 1.5 18 1 18 0.5 18-1 18-1.5 18-2.5 16-3.5 18-4 16-5.5 18-6 16-7 16-6.5 14-9 16-8.5 14.5-9.5 13.5-10.5 14-12 14-12 13-12 11.5-14 12-14.5 11.5-15.5 11-16 10-16 9-16 8.5-16 7-16.5 6.5-17.5 6.5-18 5-18 4.5-18 3.5-18 2.5-20 2-18 1-18 0-18-0.5-18-1.5-16-2-16-3-18-4-18-5-16-5-16-6-17.5-8-16-8-14-8-14.5-9-14-10-13.5-11-11.5-10-12.5-12-11-12-10-12-10.5-14-9.5-14-8.5-14-7.5-14-7.5-16-7-16-5.5-16-5.5-18-4-16-3-16-2.5-18-1.5-16-1-18-0.5-18 1-18 1.5-16 2.5-18 3.5-18 4-16 4.5-16 5.5-15.5 6-15 7-15.5 8.5-16 8-14 9-14 10-14 11.5-14 10.5-12 11.5-12 12.5-12 13.5-11 14-11 14-10 15.5-10 14.5-8 16-8.5 16.5-7.5 17.5-7 16-5.5 18-5.5 16.5-4 17.5-3.5 18-2.5z"/>
<path fill="#8acb52" d="M486 18.5l18.5-0.5 18 0 18 1 18 2 18 3 18 4 18 4.5 16 5.5 16 6 16 6.5 16 8 16 9 15 9 14 10 13 10.5 14 12 12 11.5 12 13 11.5 13 10.5 14.5 10 14.5 9 15 8.5 16 7.5 16 7 17 6 17 4.5 16 4.5 18 3 16.5 2.5 17.5 1.5 18 0.5 18-0.5 18-1 18-2 18-3 16-4 18-4.5 16-5.5 16-6 16-7.5 16-7 14-9.5 16-9 14-10 14-11 13.5-11.5 12.5-11.5 12-13.5 12-13.5 11.5-14 10.5-15 10-15 9.5-16 8.5-16.5 8-17.5 7.5-18 6.5-16 5.5-18 4.5-18 4-18 3-18 2.5-18 1.5-18 0.5-18-0.5-18-1-17.5-2-16.5-2.5-17.5-3.5-16.5-4-16-4.5-16-6-16-6.5-15-7-15-8-14-8-14-9.5-14-10-12.5-10.5-11.5-10.5-11.5-11.5-11-12-9.5-12-10.5-14-9-14-8-14-7.5-14-7-16-6.5-16-5.5-16-4.5-16-4-18-3.5-18-2-16-1.5-18-0.5-16 0-18 1-16 2-18 2.5-16 4-18 4-16 5-16 5.5-15 6-15 8-16 7.5-14 8.5-14 9.5-14 10-14 10.5-12.5 12-13 12.5-12.5 13-12 12.5-10 14-10.5 14-9.5 16-9.5 15-8.5 15-7.5 16-6.5 16-6.5 16.5-5.5 17.5-5 16-3.5 18-3.5 18-2.5z"/>
<path fill="#90ca4d" d="M497 22.5l17.5 0 18 0.5 18 2 18 2.5 17.5 3 16.5 4 18 5.5 16 5.5 16 6.5 16 7.5 16 8.5 14.5 8.5 14.5 10 13.5 10 13.5 11.5 13.5 12.5 12.5 13 11.5 13 10.5 14 10 14 8.5 14 9 16 7 14 7 16 6.5 18 5 16 4 16 4 18 2 16 2 18 1 18 0 18-1 18-1.5 16-2.5 18-3.5 16-4 16-5 16-6 16-7 16-7.5 16-8 14-8.5 14-10 14-11 14-10.5 12.5-13 13.5-12.5 12-14.5 12-13 10-15 11-15 9-15 8.5-16 8-17 7.5-17 6.5-16.5 5.5-17.5 5-18 4.5-18 3-18 2.5-18 2-18 0.5-18 0-18-1-16-1.5-18-2.5-16-3-16-4-16-4.5-16-5.5-16-6-16-7.5-14-7-14-8-14-9-13.5-10-12.5-10-12-10.5-12-11.5-11-12-11-13.5-9-12.5-9.5-14-8.5-14-7-14-7.5-16-6.5-16-5.5-16-4.5-16-4-16-3-16-2-16-2-18-0.5-18 0-16 1-18 1.5-16 2.5-16 3-16 4-16 4.5-16 6-16 6.5-16 6.5-14 8.5-16 8-14 9.5-14 10-13.5 10-12 11-12.5 11-11.5 12-11 13.5-11.5 13-10 13.5-9.5 14-8.5 16-9.5 14-7 16-7.5 16-6 16-6 16-4.5 18-4.5 16-3.5 18-2.5 18-2z"/>
<path fill="#96ca48" d="M475 28.5l17.5-1 18-0.5 18 0.5 18 1.5 18 2.5 16 3 18 4 16 4.5 16 5.5 16 6 16 7.5 16 8 14.5 8.5 15.5 10 13.5 10 12 10 12.5 11.5 12 12 11.5 12.5 10.5 13 10 13.5 10 15.5 8.5 14 7.5 15 7 15 6 16 5.5 16 5 18 3.5 16 3 18 2 16 1.5 18 0 18-0.5 16-1 16-2.5 18-3 18-4 16-4.5 16-6 16-6 15.5-7 14.5-8.5 16-8.5 14-9.5 14-10.5 14-10 12-11 12-12 12-13 11.5-13 10.5-13.5 10-15.5 10-14 8.5-16 8.5-16 8-18 7-16 6-16 5-18 4.5-16 3.5-18 3-18 2-18 1.5-18 0-16 0-17.5-1.5-16.5-1.5-18-3-16-3.5-16-4-16-5-16-6-14-6-15-7-15-8-14-8.5-14-9.5-13-10-13-10.5-12-11.5-11.5-12-10-12-9.5-12-10-14-8.5-14-7.5-14-7-14-6-14-6-16-5.5-16-4-16-3.5-16-2.5-16-2.5-18-1-16 0-18 0.5-16 1-18 2-16 3-16 3.5-16 4.5-16 5-16 5.5-14 7-16 7-14 8-14 8.5-14 10-14 9.5-12 11.5-14 11.5-12 11-10.5 13-11.5 13-10.5 14-10 14-9 14-8.5 16-8.5 16-7.5 16-6.5 16-6 16-5 17.5-4.5 16.5-3 16-3z"/>
<path fill="#9cc944" d="M483.5 32.5l17-0.5 18 0 16 0.5 18 2 16 2.5 18 3.5 17 4 17 5.5 16 5.5 16 7 16 7.5 14 8 14 8.5 14 9.5 14 10.5 12 10.5 12.5 11.5 11.5 12 10 12 11 14 10 14 8.5 14 8.5 15.5 7 14.5 7 16 5.5 16 5 16 4 16 3.5 16.5 2.5 17.5 2 16 0.5 18 0 18-1 16-1.5 16-2.5 16-3 16-4 16-5 16-6 16-7 16-7 14.5-9 15.5-8.5 14-10 14-9.5 12-11 13-12 12.5-12 11-13.5 11.5-13 10-14.5 10-15 9.5-15.5 8.5-14.5 7.5-16 7-16 6.5-18 6-18 5-16 4-16 3-18 2.5-18 1.5-18 0.5-18 0-16-0.5-18-2-16-2-16-3.5-16-3.5-16-4.5-15-5.5-15-5.5-14-6.5-15-8-14-8-13-8-13.5-10-12.5-10-12-10.5-11.5-11.5-10.5-11-10-12-9.5-13-8.5-12.5-8-13.5-8-15-7-15-5.5-14-5.5-16-5-16-4-16-3-16-2-16-2-18-0.5-16 0-18 1-16 1.5-16 2.5-16 3-16 4-16 4.5-15.5 5-14.5 6.5-16 6.5-14 7.5-14 8.5-14 9-14 9-12 11-14 10.5-12 12-12 12.5-11.5 12.5-10.5 13-10 14.5-9.5 14-9 14-7.5 15.5-8 14.5-6.5 16-6 16-5.5 16-4.5 16-4 18-3.5 16-2z"/>
<path fill="#a2c83f" d="M498 36.5l16.5 0 18 1 16 1.5 18 2.5 17.5 3 16.5 4.5 16 4.5 16 6 16 6.5 14.5 6.5 14.5 8 15 9 14 9.5 12.5 9.5 13.5 11.5 12 11 11 11.5 11 12.5 10.5 13.5 10 14 9.5 15.5 8 14.5 7 14 6.5 16 6 16 5 16 4 16 3 16 2.5 16 2 18 0.5 18 0 16-1 18-2 16-2.5 16-3 16-4.5 16-5 16-6 16-6.5 14-7 14-8 14-8.5 14-10 14-9.5 12-11 12.5-12 12.5-12 11.5-12 10-14 11-14 9.5-14.5 9-14 8-16 8-17.5 8-16 6-18 6-16 4.5-16.5 3.5-17.5 3.5-18 2-16 1.5-18 1-16-0.5-18-1-16-1.5-16-2.5-16-3-16-4-16-4.5-14-5-16-6-14-6.5-14-7.5-14-8-14-9-12-9-12-10-12-10.5-11.5-11.5-11-12-9.5-12-9-12-9-14-8-14-7.5-14-6-14-6-14-4.5-14-5-16-3.5-16-3-16-2.5-16-1.5-16-0.5-16 0-18 1-16 1.5-16 2.5-16 3-16 4-15 4.5-15 5.5-15.5 6-14.5 6.5-14 7.5-14 8-14 9.5-14 8.5-12 10-12 10.5-12 11.5-12 12-11 12-10 12-9 14-10 14-9 16-9 14-7 15-7 15-5.5 16-5.5 16-5 16-3.5 16-3.5 16-2 16-2z"/>
<path fill="#a8c73b" d="M478 42.5l16.5-1 16 0 18 0.5 16 1 18 2.5 16 3 16 3.5 16 5 16 5.5 16 6 14 6.5 15 7.5 15 9 14 9 13.5 10 12 10 12.5 11.5 10.5 10.5 11 12 10.5 13.5 9.5 12.5 9 14 8 14 7.5 14.5 6 13.5 6.5 16 5 16 4.5 16 4 16 2.5 16 2 16 1.5 18 0 18-0.5 16-1.5 16-2 16-3 16-4 16-4.5 16-5 14-6.5 16-7 14-7.5 14-8.5 14-9.5 14-9 12-9.5 12-12 13-12 12-13 11-13 10.5-13 9.5-15 10-14 8-15.5 8-14.5 7-16 6.5-16 5.5-16 5-16 4-18 4-16 2.5-16 1.5-18 1.5-18 0-16-0.5-16-1-16-2-16-2.5-16-3.5-14.5-4-15.5-4.5-14-5.5-16-6.5-14-7-14-7.5-14-8.5-12-8.5-13-10-11.5-10-11.5-10.5-11-11.5-10-12-9.5-12-8.5-12-8.5-14-8-14-6.5-14-6-14-6-16-4.5-14-4-16-3.5-16-2.5-16-1.5-16-1-16-0.5-16 0.5-16 1.5-16 2-16 3-16 3.5-16 4.5-16 4.5-14 6-14.5 7-15.5 7-14 8-14 8-12.5 9.5-13.5 9.5-12 10.5-12 10.5-11 11.5-11 11.5-10 13-10.5 14-10 14-9 14-8 14-7 15.5-7.5 14.5-6 16-5.5 14-4.5 16-4 16-3 16-3z"/>
<path fill="#adc637" d="M491 46.5l17.5 0 16 0 18 1.5 16 2 16 2.5 16 4 16 4.5 16 5 16 6.5 14 6 14 7 14 8 14 9 14 10 12 10 12 10.5 11.5 11.5 10.5 11.5 10.5 12.5 9.5 13 8.5 13 8.5 14 7.5 14 7 16 6.5 16 5 14 4.5 16 3.5 16 3 16 2 16 1 16 0.5 18-0.5 16-1.5 16-2 16-3 16-3.5 16-4.5 14-4.5 14-6.5 16-6.5 14-7.5 14-8 14-9.5 14-10 13.5-10 12-11.5 12.5-10.5 10.5-12 11-13.5 10.5-12.5 9.5-14 9.5-16 9-14 7.5-14 7-16 6.5-16 6-16 5-16 4-16 3.5-17.5 2.5-16.5 2-18 1.5-16 0-16-0.5-16-1-16-2-16-2.5-16-3.5-15-4-15-4.5-14.5-5.5-15.5-6.5-14-6.5-12-7-14-8.5-12-8-12.5-9.5-12-10-11.5-11-10.5-11-10.5-12-9.5-12-8-12-7.5-12-8-14-7-14-6-14-5.5-14-5-16-4.5-16-3-14-2.5-16-2-16-1-16 0-16 0-16 1.5-16 2-16 2.5-14 3.5-16 3.5-14 5.5-16 5-14 6.5-14 6.5-14 8-14 8-12.5 9-13.5 9.5-12 10-12 11-12 12.5-11.5 11.5-10.5 12.5-10 12-8.5 14-9 14-8.5 14-7.5 14-6.5 14-6 16-5.5 14-4.5 16-4.5 16-3.5 16-2.5 16-2z"/>
<path fill="#b3c534" d="M476.5 52.5l18-1 16-0.5 16 0.5 16 1.5 16 2 16 3 16 3.5 16 4.5 14 4.5 16 6.5 16 7 14 7.5 14 8 14 9 12 9 12 10 12 10.5 10.5 10.5 11 12 10 12 8.5 12 9.5 14 8 14 7.5 14 7 16 5.5 14 5 14 4.5 16 3.5 16 3 16 1.5 16 1.5 16 0 16-0.5 16-1 16-2 16-3 15-3.5 15-4.5 15.5-5 14.5-5.5 14-6.5 14-7.5 14-8.5 14-9 14-9 12-10 12-11 12-12 12-11 10-12.5 10-13.5 10-13 9-14 8.5-14 7.5-16 7.5-14 6-16 6-16 5-16 4-16 3.5-16 3-18 2-16 1-16 0.5-16-0.5-16-1-16-2-14-2-16-3.5-16-4-14.5-4.5-13.5-4.5-14-6-14-6.5-14-7.5-12-7.5-14-9-12-9-12-10-10.5-10-11.5-11.5-10-11.5-8.5-11-9.5-13-8-13-7-12-7-14-6-14-5.5-14-4.5-14-4.5-16-3.5-16-2.5-14-2-16-1-16-0.5-16 0.5-16 1-16 2-14 2.5-16 3-14 4-16 5-14.5 5.5-15.5 6.5-14 6.5-14 7.5-13 8-12.5 8.5-12.5 9.5-12.5 10-12 10.5-11.5 11.5-11 12-10.5 12-9.5 12-9 14-9 14-8.5 14-7.5 14.5-7 15.5-6 16-6 14-4 14-4 16-3.5 16-2.5z"/>
<path fill="#b9c431" d="M491 56.5l17.5 0 16 0 16 1.5 16 2 16 2.5 16 3.5 16 4.5 14 5 16 6 14 6.5 14 7 13.5 7.5 12.5 8.5 13.5 9.5 12.5 10 11.5 10 10.5 10.5 10.5 11.5 10 12 9.5 13 9 13 8 14 7.5 14 6 14 6 14 5.5 16 4 15 3.5 15 3 16 2 16 1 16 0.5 16-0.5 16-1.5 16-2 15.5-2.5 14.5-3.5 14.5-4.5 15.5-5 14-5.5 14-6.5 14-7 14-7.5 12.5-9 13.5-9 12.5-10 12.5-10.5 11-11.5 12-13.5 12-12.5 10-12 9-14 9-14 8.5-14 7.5-14 6.5-16 7-14 5-16 5-16 4-16 3.5-16 3-16 1.5-16 1.5-18 0-16-0.5-16-1-14-1.5-16-2.5-14.5-3.5-15.5-4-16-5-14-5-14-6-14-7-12-7-14-8.5-12-8-12-9.5-11.5-10-10.5-9.5-10-11-10-11.5-9-12-8.5-12-7.5-12-7-12.5-6.5-13.5-6-14-5.5-14-4-14-4-14-3.5-16-2.5-15-1.5-15-1.5-16 0-16 0.5-16 1-14 1.5-14 3-16 3-14 4.5-16 4.5-14 5.5-14 6-14 7-14 6.5-12 8-12.5 9-13.5 9-11.5 10-12 10-10.5 10-10 12-10.5 12-10 13-9.5 13-8.5 14-8.5 14-7.5 14-6.5 14-6 16-5.5 16-5 14-3.5 14-3 16-3 16-1.5z"/>
<path fill="#bec32e" d="M478.5 62.5l16-1 16 0 16 0.5 16 1.5 16 2 16 3 16 3.5 14 4 16 5.5 14 6 14 6 13.5 7 13.5 8 13 8.5 12 9 12 9.5 12 11 10 10 11 12 9.5 12 9 12 8.5 13.5 7.5 12.5 7 14 6.5 14 5.5 14 5.5 16 3.5 14 3.5 14 2.5 16 2 16 1 16 0.5 16-0.5 16-1.5 16-2 14-3 16-3.5 14-4 14-5 14-5.5 14-6.5 14-7.5 14-8 13.5-8.5 12.5-9 12-10 12-10.5 11.5-11 10.5-11 10.5-12 9.5-14 10.5-14 9-14 8.5-14 7-14 6.5-16 6.5-14 5.5-16 4.5-14 3.5-16 3.5-16 2.5-16 2-16 1-16 0.5-16-0.5-16-1.5-14-1.5-16-2.5-14-3-14-4-14-4.5-15-5.5-14-6-13-6-14-8-13-8-11.5-8-11.5-8.5-11-9.5-10.5-10-9.5-10-10.5-12-8.5-11-9-13-7.5-12-7.5-13.5-6-12.5-6-14-5.5-14-4.5-14-3.5-14-3-14-2.5-16-1.5-14-1.5-16 0-16 0.5-16 1.5-16 1.5-14 2.5-14 4-16 3.5-14 5-14 5.5-14 6-14 6-12 8-14 7.5-12 8.5-12 9-12 10.5-12 10.5-11 11.5-11 11.5-10 11-8.5 12-8.5 13.5-9 12.5-7 14-7.5 14-6.5 14-6 14-5 16-5 14-3.5 16-3 14-2.5z"/>
<path fill="#c3c22b" d="M501.5 66.5l15 0.5 16 0.5 16 1.5 16 2.5 14.5 3 15.5 4 16 5 14 5.5 14 6 14 6.5 13 7 13 8.5 12 8 12.5 9.5 12 10 11.5 11.5 10.5 10.5 9.5 11.5 9.5 12.5 8.5 12.5 8.5 13.5 7.5 14 6.5 14 5.5 13.5 5 14.5 4.5 14 3.5 14 3 16 2 15 1.5 15 0.5 16-0.5 16-1 16-1.5 14-3 16-3 14-4 14-4.5 14-5.5 14-6 14-7.5 14-7.5 13.5-8.5 12.5-8.5 12-9 11.5-10 11-11 11.5-11 10-12 10-12 9.5-13 8.5-13 8.5-14 7.5-14 7-14 6-16 6-15.5 5-14.5 4-16 4-16 2.5-16 2-16 1.5-16 0.5-16-0.5-16-1-14-1.5-16-2.5-14-3-14-3.5-14-4.5-14-5-14-5.5-14-6.5-12-7-13.5-8-11.5-8-11-8-12-10-10-9-10-10.5-10-11.5-8.5-11-8.5-12-8-12-7-12.5-6.5-13.5-5.5-12-5.5-14-4.5-14-4-14-3-14-2.5-14-2-14-1-16-0.5-14 0-16 1-14 2-16 2-14 3-14 3.5-14 4.5-14 5-14 6-14 7-14 7-13 8-13 8-12 9-12 9-10.5 10-11 10-10 11.5-10.5 10.5-8.5 12-9 12.5-8.5 13-8 12.5-6.5 14-7 14-6 14-5.5 14-4.5 15-4.5 15-3.5 14-2.5 16-2 14-1z"/>
<path fill="#c8c129" d="M485.5 72.5l15-0.5 16 0 14 1 16 1.5 15.5 2 14.5 3 16 4 14 4.5 14 5 14 6 14 6.5 13 7 13 8 12 8 12 9.5 12 10 11.5 10.5 9.5 10 10.5 12 8.5 11.5 9 12.5 7.5 12 7.5 14 6 12.5 6 13.5 5 14 5 16 3.5 14 3 14 2.5 16 1 14 1 16 0 16-1 14-2 16-2 14-3 14-4 14-4.5 14-5 14-5.5 13-6.5 13-7.5 13.5-8 12.5-8.5 12-9.5 12-10 12-10 10.5-10.5 9.5-11.5 10-13 10-13 9.5-14 8.5-12 7-14 7-14 6-15.5 6-14.5 5-14 4-16 4-16 3-14 2-16 1-16 1-16 0-14-1-14-1-16-2.5-16-3-14-3.5-14-4.5-13-4.5-13-5-14-6.5-12-6.5-13.5-8-12.5-8-10.5-8-11.5-9-9.5-9-10-10-9-10-9.5-11-8-11-8-12-7-12-7-13.5-6-13-5.5-13.5-4.5-14-4-14-3.5-14-2.5-14-2-14-1-14-1-16 0.5-16 0.5-14 1.5-14 2-14 3-14 3.5-14 4-14 5-14 6-14 6-12.5 7-13.5 7.5-12 7.5-12 9-12 9-10.5 10-11.5 10-10 10.5-10 11.5-9.5 11-8.5 12-8 13-8 14-8 12-6 14-6 14-5.5 14-4.5 14-4 15.5-4 14.5-2.5 14-2z"/>
<path fill="#cdc027" d="M478.5 78.5l14-1 16 0 16 0.5 14 1 14.5 1.5 15.5 3 14 3 15 4 13 4.5 14.5 5.5 13.5 6 14 7.5 12 6.5 12.5 8 11.5 8.5 12 9.5 11.5 10 10 10 10.5 11.5 9 10.5 8.5 12 8 12 7.5 12 7 14 6.5 14 5.5 14 5 14 4 14 3 14 2.5 14 2 14 1 16 0.5 16-0.5 14-1.5 16-2 14-2.5 14-3.5 14-4 14-5 14-5 13-6 13-7.5 14-7.5 12-8 12-8.5 12-10 12-9.5 10-10 10-11 10.5-12 9.5-12 9-14 9-12 7.5-14 7.5-14 6.5-14 6-14 5-14 4-16 4.5-16 3-14 2.5-16 1.5-14 1-16 0.5-14-0.5-14-1-16-2-14-2.5-14-3-14-3.5-14-4.5-12-4.5-14-6-12-6-14-7.5-10-6.5-12-8-10.5-8-11.5-9.5-10-9.5-10-10.5-9-10.5-8-10-7-10-8-12.5-7.5-13.5-6-12-5-12-5.5-14-4.5-14-4-14-3-14-2-14-2-14-1-14 0-14 0-16 1-14 2-14 2.5-14 3-14 3.5-14 4.5-14 5.5-14 5.5-12 6.5-14 7-12 7.5-12 8.5-12 9-12 8.5-9.5 10-11 10-9.5 11-10 11-8.5 12-9 12-8 12-7 14-7.5 12.5-6 13.5-5.5 14-5 14-4.5 14-3.5 14-3 14-2.5z"/>
<path fill="#d2bf27" d="M473.5 84.5l15-1 14-0.5 16 0 14 1 16 1.5 14 2.5 14 3 15 3.5 15 5 13.5 5 14 6 12 6 12.5 7 12 7.5 12 8.5 12 9 11.5 10 10.5 10 9.5 10 8.5 10.5 9 11.5 8 12 7.5 12 7.5 14 6 12.5 5.5 13.5 5 14 4.5 14 3 14 3 14 2 14 1 14 0.5 16 0 14-1 14-1.5 14-2.5 14-3 14-4 14-4.5 14-5.5 14-5.5 12-7 14-7 12-7.5 12-9 12-8.5 11-10 11-9.5 10-11 10-11.5 10-10.5 8-12 8-13.5 9-13.5 7-12.5 6.5-14 6-14 5.5-14 4.5-14 4-15.5 3.5-14.5 3-14 2-16 1-16 1-14-0.5-14-0.5-14-1.5-14-2-14-3-14-3-14-4.5-12-4-14-5.5-12-5.5-12.5-7-11.5-6.5-12-8-12-8.5-10.5-9-9.5-8.5-10-10-8.5-9.5-9.5-11.5-8-11-7.5-11.5-7-12-6-12-5.5-12-6-14-4-12-4-14-3-14-3-14-1.5-14-1.5-14-0.5-14 0.5-14 0.5-14 1.5-14 2-14 3-14 3.5-14 4.5-14 5-14 5-12 6-12 6-12 7.5-12 8-12 8.5-11.5 8.5-10.5 9.5-10.5 10-10 10-9.5 12-10 10.5-8 12-8 13-8 12.5-6.5 12-6 14-6 13.5-5.5 12.5-4 14-4 14-3 14-3z"/>
<path fill="#d7be28" d="M495.5 88.5l15 0 14 0.5 16 1.5 14 1.5 14 3 14 3 14 4 14 5 14 5.5 13 6 13 7 12 7 12 8 11 8 11 9 10 9.5 10 10 10 11 8.5 10.5 9 12 7.5 12 7 12 6 12 6 14 5 12 4.5 14 4 14 3 14 2 14 1.5 14 1 16 0 14-0.5 14-1 14-2.5 14-2.5 14-3.5 14-4.5 14-4.5 12.5-5.5 13.5-6 12-6.5 12-7.5 12-8.5 12.5-9 11.5-9 11-10 10.5-10 9.5-10 9-12 9.5-12 8.5-12.5 8-13.5 8-12 6-14 6.5-14 5.5-14 5-14 4-14 3.5-16 3-14 2.5-14 1-16 1-14 0-14-0.5-14-1.5-14-2-14-2.5-14-3-12-3.5-14-5-12-4.5-12-5.5-12-6-12-6.5-12-8-10.5-7.5-11.5-9-10-9-10-9.5-9.5-10.5-8.5-10-8-11-7.5-11-7-12-6.5-12-5.5-12-5-12-4.5-13-4-13-3-12-2.5-14-2-14-1.5-14-1-14 0-14 1-14 1-14 2-13.5 2.5-12.5 3-14 3.5-12 5-14 4.5-12 5.5-12 6-12 7-12 7.5-12 7.5-10.5 9-11.5 9-10.5 10-10.5 10-9.5 10-8.5 11-9 11.5-8 11.5-7.5 12-7 12-6 14-6.5 12-5 14-5 14-4 14-3.5 14-3 14-2 14-1.5z"/>
<path fill="#dbbd29" d="M490 94.5l14.5-0.5 14 0.5 14 1 14 1.5 14 2 14 3 14 3.5 14 4.5 12 4.5 14 6 12 6 14 8 12 7.5 10 7 12 9.5 10 8.5 10 9.5 9.5 10 8.5 10.5 9 11.5 8 12 7 11.5 7 12.5 5.5 12 5.5 13.5 4.5 12.5 4 14 3.5 14 2.5 14 2 14 1 14 0.5 14-0.5 14-1 14-1.5 14-2.5 14-3.5 14-3.5 12-4.5 14-5 12.5-6 13-6.5 12.5-7.5 12-8 12-8 11.5-9 10.5-9 10.5-10 9.5-10 9.5-10.5 8.5-11.5 8.5-12 8.5-12 7-14 8-13.5 6-12.5 5.5-14 5-14 4.5-14 4-14 3-14 2-14 2-14 1-14 0-14 0-14-1-14-1.5-14-2.5-14-2.5-12-3.5-12.5-4-13.5-4.5-12.5-5.5-12.5-6-11-6-12-7-12-8.5-10-7.5-10-8.5-9-8.5-9-9-8-9-8-10-8.5-12-6.5-10-6.5-12-6.5-12-5-12-5-12.5-4.5-13.5-3.5-12.5-3-13.5-2-12-2-14-1-14-0.5-14 0.5-14 1-14 1-12 2.5-14 3-14 3-12 4.5-14 4.5-12 5-12 6-12 6.5-12 7-12 8-11.5 8-10.5 8-10 9-10 9-8.5 10-9.5 10-8 12-9 12-8.5 10.5-6.5 13.5-7 12-6 12-5 14-5.5 13-4.5 13-3.5 14-3 14-2.5 14-1.5z"/>
<path fill="#e0bc2a" d="M487.5 100.5l15-0.5 14 0 14 1 14 1.5 14 2 14 3 12 3 14 4.5 14 5 12 5.5 12 5.5 12 6.5 12 7.5 11 7.5 11 8.5 10 8.5 10 9.5 9.5 9.5 8.5 10 8 10.5 8 11.5 7.5 12 7 12 5.5 12 6 14 4.5 12 3.5 12 3.5 14 2.5 12 2.5 14 1 14 1 14-0.5 14-0.5 14-1.5 13-2 13-3 14-3.5 12-3.5 12-5.5 14-5 12-6 12-6.5 12-7.5 12-7.5 10.5-9 11.5-9 10.5-10 10.5-10 9.5-11.5 9.5-10.5 8.5-12 8.5-12 7.5-12 6.5-14 7-12 5.5-12.5 4.5-13.5 4.5-14 4-14 3.5-14 2.5-14 2-14 1-14 0.5-14 0-14-0.5-12.5-1.5-13.5-2-12-2-14-3.5-14-4-12-4.5-12-4.5-12-5.5-12-6.5-12-7-10-6.5-10.5-8-10-8-9.5-8.5-9.5-9.5-8.5-9.5-8.5-10.5-7-10-7-10-7-12-5-10-6-12-4.5-12-4.5-12-3.5-12-3.5-14-2.5-12-2-14-1-14-0.5-14 0-14 0.5-14 1.5-14 2-12 2.5-12 3.5-14 3.5-12 4.5-12 5-12 5.5-12 6-12 7.5-12 6.5-10 8.5-12 8-10 9-10 8.5-8.5 10-9.5 10-8 12-9.5 10-7 12-7.5 12-6.5 12-6 12-5.5 14-5.5 13.5-4.5 12.5-3.5 12-2.5 14-2.5 14-2z"/>
<path fill="#e4bb2c" d="M487 106.5l13.5-0.5 14 0 14 1 14 1 14 2.5 14 2.5 13.5 3.5 12.5 4 12 4.5 13.5 5.5 12.5 6 10.5 6 11.5 7 10.5 7 10.5 8 11 9.5 10 9.5 9 9 8.5 10 8 10 7 10 7.5 12 7 12 5.5 12 5.5 12 4.5 12 3.5 12 4 14 2.5 12 2 14 1.5 14 0.5 14 0 14-1 14-1.5 14-2 12-2.5 12-3.5 14-4 12-4.5 12-5 12-6 12-6.5 12-8 12-8 12-8 10-9 10-9 9.5-10 9.5-10 8.5-11 8.5-11.5 8-11.5 7.5-12 7-12 6-13 5.5-13 5.5-14 4.5-14 4-12 3-14 2.5-14 2-14 1-14 0.5-14 0-14-0.5-14-1.5-12-2-14-3-12-3-12-3.5-12-4-12-5-12-5.5-12-6.5-10-6-10-6.5-11-8-9.5-8-9.5-8-9.5-10-8.5-9-8-10-8-11-6.5-10-6.5-12-5.5-10-5.5-12-4.5-12-4-12-3.5-12-3-12-2.5-14-2-12-1-12-0.5-14 0-12 1-14 1.5-14 1.5-12 3-14 3-12 3.5-12 4.5-12 5-12 5.5-12 6.5-12 6-10 7.5-12 7.5-10 8-10 9-10 10-10 8.5-8 9.5-8 10.5-8 11.5-8 10-6 12-7 12-6 12-5.5 12-4.5 14-4.5 12-3.5 12-3 14-2.5 14-2z"/>
<path fill="#e8bb2f" d="M488 112.5l12.5-0.5 14 0 14 1 14 1.5 14 2 12 2.5 14 3.5 12 4 12 4.5 12 5 12 5.5 12 6.5 10.5 6.5 11.5 8 10 7.5 10 8.5 10 9.5 8.5 8.5 8.5 10 9 11.5 7.5 10.5 6.5 11 6 11 6 12 5 12 4.5 12 4.5 14 3 12 2 12 2 14 1.5 12 0.5 14 0 14-1 12-1.5 14-2 12-2.5 12-4 14-4 12-4.5 12-5 12-6.5 12-6 11-7 11-7 10-8 10-8.5 10-9.5 10-10 9.5-10 8.5-10.5 8-11.5 8.5-12 7.5-11.5 6-11.5 6-13 6-12 4.5-14 5-12 3-14 3.5-12 2-14 2-14 1.5-14 0.5-14 0-12-0.5-12-1.5-14-2-14-2.5-12-3-12-4-12-4-12-5-11.5-5.5-10.5-5.5-11-6.5-9-6-11-8-10-8-8.5-8-8.5-8-9-10-8-10-7-9.5-7-10.5-5.5-10-6.5-12-5-10.5-4.5-11.5-4-12-3.5-12-3.5-14-2-12-2-12-1-12-0.5-14 0-12 1-14 1-12 2-12 2.5-14 3-12 4-12 4-12 5-12 5.5-12 6.5-12 6-10 7-10 7.5-10.5 8-9.5 8.5-10 9.5-9.5 9-8.5 9.5-8 10.5-8 11-7 10.5-7 11.5-6 12-6 12-5.5 12-4.5 12-4 12-3.5 12-3 14-2.5 12-1.5z"/>
<path fill="#ecba32" d="M492 118.5l12.5 0 14 0 14 1 12 1.5 12 2 14 3 14 3.5 12 4 12 5 12 5 10 5 12 7 11.5 7 10.5 7.5 10 8 10 8.5 8 8 9.5 10 8 10 7.5 10 7 10.5 7 11.5 5.5 10 5.5 12 5 12 4 12 3.5 12 3.5 14 2 12 1.5 12 1 12 0.5 14-0.5 14-0.5 12-2 12-2 13-3 13-3.5 12-4 12-5 12-4.5 10-6 12-7.5 12-6.5 10.5-8 11-8 9.5-8 9-10 10-10 9.5-10 8-10 7.5-10.5 7-11.5 7-12 6.5-12 6-12 5-12 4.5-14 4.5-12 3.5-14 3-14 2-12 1.5-12 1-14 0.5-14-0.5-12-1-12-1.5-12-1.5-12-2.5-12-3.5-12-3.5-12-4.5-12-5-11-5.5-11-5.5-10-6.5-10-6.5-10-7.5-9-8-9-8-8-8.5-8.5-9.5-7.5-10-7.5-10-6-10-6-10-6-12-4.5-10.5-4.5-11.5-4-12-3-12-3-12-2-12-1.5-12-0.5-12-0.5-14 0.5-14 0.5-12 1.5-12 2.5-12 2.5-12 3-12 4-12 4.5-11.5 4.5-10.5 5.5-12 6-10.5 7-11.5 7-10 7.5-10 8.5-10 7.5-8 8.5-8.5 10-9 10-8 10-7.5 10-6.5 10-6.5 12-6.5 11.5-5.5 12.5-5 12-4.5 12-4 12-3 12-2.5 12-2 12-1.5z"/>
<path fill="#f0ba36" d="M502 124.5l12.5 0.5 12 0.5 13 1 13 2 14 3 12 3 12 4 12 4.5 12 5 12 5.5 12 7 10 6 10 7 10 8 8.5 7 9.5 9 8.5 9 8.5 10 8 10 6.5 10 6.5 10.5 6 11 5.5 10.5 5 12 4 12 4 12 3 14 2.5 12 1.5 12 1 12 0.5 12 0 14-1 12-2 14-2 12-2.5 12-3.5 12-4 12-4 10-5.5 12-6 12-6 10-6.5 10-8 11-8 10-8 9-10 10-8.5 8-9.5 8-11 8-11 8-10.5 6-11.5 6.5-12 6-12 5-12 4.5-12 4-12 3-13.5 3-12.5 2.5-14 1.5-12 1-14 0.5-12-0.5-12-0.5-12-1.5-12-2-12-2.5-12-3-12-3.5-10-4-12-5-10.5-5-11-6-10.5-6-10-7-9-7-10-8-8.5-8-7.5-8-7.5-8-8-10-7-10-6.5-10-5.5-10-5-10-5.5-11.5-4-10.5-4-12-3.5-12-2.5-12-2-11-1.5-13-1-12-0.5-12 0.5-12 0.5-12 1.5-12 2-12 2.5-12 3-12 4-12 4-12 4.5-10 6-12 5-10 6-10 7-10 7.5-10 7-8.5 8-9 8-8.5 9-8 9.5-8 9.5-7 10-7 10-6.5 12-6.5 10-5 12-5.5 12-4.5 12-4 12-3.5 12-3 12-2 12-1.5 12-1z"/>
<path fill="#f3ba3a" d="M478.5 132.5l14-1 12-0.5 12 0.5 12 0.5 14 1.5 12 2 12 2.5 12 3.5 12 4 12 4.5 11.5 4.5 10.5 5.5 12 6.5 9.5 6 8.5 6.5 10 7.5 9.5 8 8.5 8 8 8.5 8 9.5 8 10 6 9 6 10 6.5 11 5.5 12 4.5 10 4 12 4 12 3 12 2 12 2 12 1 12 0.5 12-0.5 12-0.5 12-1.5 12-2 12-2.5 12-3 12-4 12-5 12-4 10-6 11.5-6 10.5-6.5 10-7.5 11-7.5 9-8.5 10-8 8-8.5 8-9.5 8.5-10 7.5-10 7-11 7-11 6.5-12 6-12 5-12 4.5-12 4-12 3.5-12 3-12 2-12.5 1.5-13.5 1.5-12 0.5-12-0.5-12-0.5-12-1-12-2-12-2.5-12-2.5-10-3-10.5-4-11.5-4.5-11.5-5.5-10.5-5.5-10-5.5-10-7-8-6-10-8-9-8-8-8-7-8-8-9.5-6-8.5-6.5-10-6-10-5.5-10-4.5-10-5-12-3.5-10-3.5-12-2.5-12-2.5-12-1.5-12-1-12-0.5-12 0-12 1-12 1-12 2-12 2.5-12 3-12 3.5-10 3.5-10 5-12 5-11 6-11 6-10 6.5-10 7.5-10 6.5-8 9-10 8-8 8.5-8 10-8 10-7.5 9.5-6.5 10.5-6.5 10-5.5 12-5.5 10-4.5 10-4 12-4 12-3.5 12-2.5 12-2z"/>
<path fill="#f7ba3c" d="M486 138.5l12.5-0.5 12 0 12 0.5 12 1 12 1.5 12 2.5 12 2.5 12 3.5 12 4.5 10 4 10.5 4.5 11.5 6 10 6 10 7 10 7 10 8 8 7.5 8.5 8.5 7.5 9 7.5 9 7.5 10 6 10 6 10 5 10 4.5 10 4.5 12 4 12 3 11 2.5 11 2 12 1 12 1 12 0 12-0.5 12-1 12-2 12-2.5 12-3 12-3.5 11.5-4 10.5-4 10-6 12-5.5 10-6 10-7 10-7.5 10-8 9.5-8 8.5-8.5 8-9 8-8.5 7-10 7-10 6.5-12 7-10 5.5-12 5.5-12 5-12 4-12 3.5-12 3-12 2.5-12 1.5-12 1.5-12 0.5-12 0-12-0.5-12-1-12-1.5-12-2.5-10-2-12-3.5-10-3.5-12-4.5-10-4.5-10-5.5-10-5.5-10-6.5-9.5-7-8.5-6.5-8-7.5-8-8-7.5-8-7-8-7.5-10-6-9-6-10-6-11-4-8.5-4.5-11.5-3.5-10-4-12-2-10-2.5-10-1.5-12-1.5-12-0.5-12 0-12 0.5-12 1-12 1.5-10 2.5-12 3-12 3.5-12 3.5-10 4.5-11 5-11 5-10 6-9.5 6-9.5 6.5-9 7.5-9.5 7.5-8.5 7.5-8 9-8.5 8.5-7.5 9.5-7 10-7 10-6.5 10-6 10-5 10-4.5 12-5 10-3.5 12-3.5 10-2.5 12-2 12-2z"/>
<path fill="#fabb3e" d="M475.5 146.5l11-1 12-0.5 12-0.5 12 0.5 12 1.5 12 1.5 12 2.5 12 2.5 11.5 3.5 10.5 4 10.5 4 11.5 5.5 10 5.5 10 6 10 6.5 8.5 6.5 9.5 8 8 7.5 8 8 7.5 8.5 6.5 8 7.5 10 6 10 6 10 5 10 4.5 10 4 10 3.5 12 3.5 12 2 10 2 12 1.5 12 0.5 12 0 12-0.5 10-1 12-2 12-2 10-2.5 10.5-3.5 11.5-4.5 12-4 10-5 10-5.5 10-6 10-7 10-6.5 9-7.5 9-8.5 9.5-8 7.5-8 7.5-10 7.5-10 7.5-10 6.5-10 6-10 5.5-10 4.5-12 5-10 4-12 3.5-12 3-12 2.5-12 2-12 1.5-12 0.5-12 0.5-12-0.5-10-1-10-1-12-2-12-3-11-3-11-3.5-10-3.5-10-4.5-10-5-10-5.5-10-6.5-10-7-8-6.5-8-7-8-7.5-7-7.5-7-8-6-8-7-10-6-10-5.5-10-5-10-4-10-3.5-10-3.5-10-2.5-10-2.5-12-1.5-10-1.5-12-0.5-10-0.5-12 0.5-12 1-12 1.5-12 2-10 2.5-11 3-11 4-12 4-10 4.5-10 5-10 6-10 6.5-10 7-10 6-7.5 7-8.5 7.5-8 8.5-8 9-7.5 8-6.5 10-7.5 10-6 10-6 10-5 10-5 11-4.5 11-3.5 10-3 12-3 12-2.5z"/>
<path fill="#fdbc3e" d="M485.5 152.5l11-0.5 12 0 12 0 12 1 11.5 1.5 10.5 2 10 2.5 12 3.5 12 4 10 4 10 4.5 10 5 10 6 10 6.5 8.5 6 9.5 8 8 7.5 8 8 8 8.5 6.5 8 6 8 6.5 10 5.5 10 5.5 10 4.5 10 4 10 3.5 11.5 3 10.5 2.5 12 1.5 10 1.5 10 0.5 12 0.5 10-0.5 12-1 12-1.5 10-2 12-2.5 10-3.5 12-4 10-4 10-4.5 10-5.5 10-6 10-6.5 10-6 8-8 9.5-8 8.5-8 8.5-9 7.5-9 7.5-9 6.5-9 6-10 6-11 6-11 5.5-12 4.5-10 4-10 3-12 3-12 2.5-12 1.5-10 1.5-12 0.5-12 0-10 0-12-1-10-1.5-10-1.5-12-2.5-10-3-10-3-10-4-10-4-10-5-10-5.5-10-6.5-8-5.5-8-6.5-8-6.5-8-8-7.5-8-7-8-6-8-5.5-8-6.5-10-5.5-10-5-10-4-10-4-10-3-10-2.5-10-2-10-2-12-1.5-12-0.5-10 0-10 0.5-12 1-12 1.5-10 1.5-10 3-12 3-10 3-10 4-10 4.5-10 5-10 5.5-9.5 6-9.5 6-9 6.5-8 7.5-8.5 6.5-7.5 8.5-8 9-8 8-6 8-6 10-6.5 10-6 10-5.5 10-4.5 10-4 10-4 12-3.5 10-2.5 12-2.5 10-1.5z"/>
<path fill="#febe3c" d="M479 160.5l11.5-1 10-0.5 12 0 10 0.5 12 1 10 1.5 12 2.5 10 2.5 12 3.5 10 3.5 10 4.5 10 4.5 10 5.5 10 6 9 6 8 6 7 6 8.5 8 8 8 7.5 8.5 6 8 7 9.5 5 8 6 10.5 5 9.5 4 10 4 10 3 10 2.5 10 2.5 12 2 10 1 12 0.5 10 0 12-0.5 10-1.5 12-2 12-2 10-3 10-3 10-4 10-4 10-5 10-5.5 10-6 9.5-6 8.5-6.5 8-7.5 9-7 7-8 8-9 8-8 6.5-8 5.5-10 6.5-10 6-11 5.5-11 5-10 4-10 3.5-12 3.5-10 2.5-12 2.5-10 1-12 1.5-12 0.5-10 0-10-0.5-10-1-12-1.5-10-2-10-2-10-3-10-3.5-10-4-10-4.5-10-5-8.5-5-9-6-8.5-6-8-6.5-8-7-6.5-6.5-7.5-8-6.5-8-6-8-7-10-4.5-8-5.5-10-4.5-10-3.5-8-3.5-10-3-10-2.5-10-2-10-1.5-11.5-1-10.5-0.5-10 0-10 0.5-12 1-10 2-12 2-10 2.5-10 3-10 3.5-10 4-10 4.5-10 4.5-8.5 5.5-9.5 6.5-10 6-8 6-8 7-8 8-8 7-6.5 8.5-7.5 7.5-6 10-6.5 8-5.5 10-5.5 10-5 10-4.5 10-4 10-3.5 10-3 10-2.5 12-2.5z"/>
<path fill="#fec13a" d="M497.5 166.5l11 0 10 0.5 12 1 10 1 10 2 12 2.5 10 3 10 3.5 10 4 10 4.5 10 5 8.5 5 9 6 8.5 6.5 8 6.5 8 7 8 8 7.5 8 6 8 6 8 6.5 10 4.5 8 5 10 4.5 10 4 10 3 10 3 10 2 10 1.5 10 1 10 1 10 0 12-0.5 12-1 10-1.5 10-2.5 10-2.5 10-3 10-3.5 10-4.5 10-4.5 10-4.5 8-5.5 9-6 9-6 8-7 8-7 8-8.5 8-7.5 7-9 7-8 6-9 6-10 6-10 5.5-10 4.5-10 4-10 4-10 3-12 3-10 2-12 1.5-10 1.5-12 0.5-10 0-12-0.5-10-1-10-1.5-10-1.5-10-2.5-10-3-10-3.5-8-3-10-4.5-8.5-4.5-9.5-5-8-5.5-8-5.5-8-6.5-8-7-6.5-6.5-6-6-6.5-8-6.5-8-5.5-8-5-8-5.5-10-4.5-9.5-3.5-8.5-3.5-10-3.5-10-2.5-10-2-10-1.5-10-1-10-0.5-10 0-10 0-10 1-10 1.5-10 1.5-10 2.5-10 2.5-10 3.5-10 4-10 3.5-8 5-10 5-9 6-9.5 6-8.5 6-7.5 6-7.5 8-8.5 8-7.5 8-7 8-6 8-6 8-5 9.5-6 8.5-4.5 10-4.5 10-4 10-3.5 10-3 10-3 10-2 10-1.5 10-1z"/>
<path fill="#fec338" d="M493 174.5l11.5 0 10 0 10 0.5 10 1 10 1.5 10 2 10 2.5 10 3.5 10 3.5 10 4.5 10 4.5 8 4.5 10 6 8 6 8 6 7 6 7 7 7 7 7 8 6 8 5.5 8 5 8 5.5 9.5 4 8.5 4.5 10 3.5 10 3 10 2.5 10 2 10 1.5 10 0.5 10 0.5 10 0 10-0.5 10-1.5 10-1.5 10-2 10-3 10-3 10-4 10-4.5 10-4 8-6 10-5 8-6 8-7 9-6 7-8 8-8 8-7.5 6-8.5 6.5-8 5.5-9.5 6-8.5 5-10 5-10 4-10 4-10 3.5-10 2.5-10 2.5-10 1.5-10 1.5-10 1-12 0.5-10-0.5-10-0.5-10-1-10-1.5-10-2-10-2.5-8.5-3-9.5-3-10-4.5-8-3.5-8-4.5-8-4.5-8-5.5-8-6-8-6.5-6.5-6-7.5-7.5-6-6.5-6-8-6-7.5-5.5-8.5-4.5-8-4-8-4.5-10-3.5-8-3.5-10-2.5-9-2-9-2-10-1.5-10-1-10 0-10 0-10 0.5-10 1-10 1.5-10 2.5-10 2.5-10 2.5-8 3.5-10 4-10 4-8 4.5-8.5 5.5-9.5 5.5-8 6-8 6.5-8 6.5-7 6.5-7 7.5-6.5 8-7 8-6 8-5.5 8-5 10-5.5 8.5-4.5 9.5-4 10-4 8-2.5 10-3 10-2 10-2 10-1.5z"/>
<path fill="#fec636" d="M493.5 182.5l11 0 10 0 10 0.5 10 1 10 2 10 2 10 2.5 8 2.5 9.5 3.5 8.5 3.5 9 4.5 9 5 8.5 5 8.5 6 8 6 7 6.5 8 7.5 6 6 6 7.5 6 7.5 6 9 5 8 5 9 4 8.5 3.5 8.5 3.5 10 3 9.5 2 8.5 2 10 1.5 10 0.5 10 0.5 10 0 10-1 10-1 10-1.5 8-2.5 10-2.5 10-3 8-3.5 10-4.5 10-4.5 8-4.5 8-6 9.5-6 8.5-6 7-6 7-8 8-8 7.5-8 6.5-8 6-8 5.5-8 5-10 5.5-8.5 4-9 4-8.5 3.5-10 3-10 3-10 2-10 2-10 1-10 1-10 0.5-10-0.5-10-0.5-8-1-10-1.5-10-2-9.5-2.5-8.5-2.5-9.5-3.5-8.5-3.5-8-4-8-4-8-5-8-5-8-6-7.5-6.5-6.5-6-6-6-7-8-5-6-5.5-8-5.5-8-4.5-8-4-8-4-8-3-8-3.5-10-2.5-8-2-10-1.5-8-1.5-10-1-10-0.5-10 0.5-10 0.5-10 1-10 1.5-8 2-10 2.5-10 3-9 3-9 4.5-10 4-8 4-8 5-8 5.5-8 6-8 6-7 6-7 6-6 8-7.5 8-6.5 8-6 8-5.5 7.5-4.5 8.5-4.5 8-4 8-3.5 10-4 8-2.5 10-3 10-2.5 10-1.5 10-1.5z"/>
<path fill="#fec835" d="M500 190.5l8.5 0 10 0.5 10 1 10 1 8.5 1.5 9.5 2.5 10 3 8 2.5 10 4 8 4 8 4 8 4.5 8 5.5 8 6 8 6 6.5 6 6 6 7 8 5 6 6 8 5 8 4.5 8 4.5 8 4.5 10 3 8.5 3 9.5 3 10 1.5 8 1.5 8 1 10 0.5 10 0 10-0.5 10-1 10-1.5 8-2 10-2 8-3 10-4 10-3.5 8-4 8-4 8-5 8-6 8.5-6 7.5-6 7.5-6.5 6.5-7.5 7.5-7.5 6.5-6.5 5-8 6-8 5-10 6-8 4-9 4-9 3.5-8 3-10 3-10 2.5-10 2-10 1.5-10 0.5-18 0.5-8-0.5-10-0.5-10-1.5-9-2-9-2-8-2.5-10-3.5-8-3-8-3.5-8-4.5-8-4.5-6.5-4.5-13.5-10-6.5-6-7.5-7-6-6.5-5.5-6.5-6-8-4.5-6.5-4.5-7.5-4-8-4-8-3.5-8-3.5-10-2.5-8-2-8-2-10-1.5-10-0.5-8-0.5-8 0-10 0.5-10 0.5-8 1.5-10 1.5-8 2.5-10 2.5-8 3-10 3.5-8 3.5-8 4.5-8 4.5-8 5-8 6-8 5.5-7 6-7 6-6 6-6 8-7 6.5-5 8-6 7.5-4.5 9-5.5 8-4 8.5-4 16.5-6 8-2.5 10-2.5 8-1.5 10-1.5 10-1.5z"/>
<path fill="#fecb33" d="M483.5 200.5l9-0.5 10-0.5 10 0 8 0.5 9.5 0.5 8.5 1.5 10 2 8 2 9 2.5 9 3.5 8 3.5 8 3.5 8 4.5 8 4.5 6.5 4.5 7.5 5.5 8 6.5 6 6 6 6 6 7 10 13 5 8 5 8 4 8 3.5 8 3 8 3 10 4 16 1 8 1.5 10 0.5 8 0 10-0.5 8-1 10-1 8-2 10-2 8-3.5 10-3 8-3 8-4 8-4.5 8-5 8-5 7.5-6 8-6 6.5-6 7-6 5.5-6 5.5-8 6.5-8 6-8 5-8 5-8 4-8 4-10 4-8 2.5-10 3-8 2-10 2-10 1.5-8 1-10 0.5-8 0-10-0.5-8-0.5-10-1.5-8-1.5-16-4-8-3-8-3-8-3.5-8-4-8-4.5-7-5-7-4.5-6.5-5.5-7-6-6-6-10.5-12-6-7.5-4-6.5-5-8-4.5-8-3.5-8-3.5-8-3-8-2.5-8-3.5-16-1-8-1-10-0.5-8 0-10 0-8 1-10 1.5-8 1.5-8.5 2-9.5 2.5-8 6-16 4-8 4-8 4.5-8 5-7.5 10-13 6-7 6-6.5 6-6 7-6 7-5 8-6 14.5-9 8-4 8.5-4 9-3.5 8-2.5 8-2.5 10-2.5z"/>
<path fill="#fdcd31" d="M495 208.5l9.5 0 8 0 8 0.5 10 1 8 1 10 2.5 16 4.5 8 3 8 3.5 8 3.5 8 4.5 6.5 4 7.5 5.5 6 4.5 7 6 6.5 6 5.5 6 5.5 6 6 8 5.5 8 4 7 4 7 3.5 8 3.5 8 3 8 2 8 2 8 2.5 16 1 8 0 10 0 8-0.5 10-2.5 16-2 8-2.5 9.5-3 8.5-3 7.5-4 8.5-4 8-9 14-5 7.5-5.5 6.5-11.5 12-6 6-7 6-14 10-8 5-8 4.5-8 4-8 3.5-16 6-8 2-10 2.5-8 1.5-10 1-10 1-8 0-10 0-8-1-16-2-16-4-8-2.5-8-3-14-6.5-14-8-6-4-8-6-12-10.5-10.5-11.5-5.5-6.5-5-7.5-5-7.5-3.5-6.5-7-14-3-8-2.5-8-2.5-8-1.5-8-2.5-16-1-16 0-8 1-10 2-16 4-16 2.5-8 3-8 3.5-8 3.5-7 4-7.5 4.5-7.5 9.5-13 11-13 6-6 6.5-6 12.5-10 14-9 8-4.5 8-4 8-3.5 8-3 16-4.5 16-3.5z"/>
<path fill="#fcd030" d="M489.5 218.5l9-0.5 8 0 16 0.5 16 2.5 8 1.5 8 2 8 3 8 3 14 6.5 7 3.5 7 4.5 8 5.5 6 5 6 5.5 6 5.5 5.5 6 5 6 5.5 7.5 4.5 6.5 3.5 6 4.5 8 6 14 3 8 2 8 2 8 1.5 8 1 8 0.5 8 0 8 0 8-0.5 8-1.5 8-1 8-2 8-2.5 8-2.5 8-3.5 8-3.5 8-8 14-9.5 13.5-5.5 6.5-5.5 6-6 6-6.5 6-12.5 10-14 9-14 7.5-8 3-8 3-16 5-16 3-10 1.5-8 0.5-16 0-16-1.5-14.5-3-15.5-4-14-6-8-3.5-7.5-4.5-12.5-8-6-4.5-6.5-5.5-6-6-5.5-5.5-5.5-6.5-4.5-5.5-8-12.5-4-7-3.5-7-5.5-14-2.5-8-2.5-8-2.5-14-1.5-16 0-16 2-16 1.5-8 1.5-8 4.5-14 3-8 3.5-8 7.5-14 8.5-12.5 10-12.5 6-6.5 6-6 12-10 12-8.5 14-8 14-6 8-3 8-3 16-3.5z"/>
<path fill="#fbd32f" d="M490.5 228.5l16-0.5 16 0.5 8 1 8 1.5 14 3.5 14 5 14 6.5 8 4.5 6 4 12 9 6 5.5 6 5.5 10 12 8.5 12 7.5 13.5 6 14 2.5 6.5 2 8 3 14 1 8 0.5 8 0 8-0.5 8-1.5 14-3 15-2 7-3 8-6 14-4.5 8-3.5 6-8.5 12-10 12-10.5 10-12.5 10-13.5 9-14 7.5-14.5 5.5-15.5 5-8 1.5-8 1.5-16 1.5-16 0-14-1.5-8-1-8-2-14-4-14-6-13-7-12-8-11-9-5-5-6-6-9-11-8-12.5-6.5-12.5-5.5-14-4-14-3-14-1-14 0-14 0.5-8 1-8 3-14 4-14 5.5-14 7.5-14 8-12 9.5-12 9.5-10 11.5-10 12-8.5 6-3.5 8-4.5 14-6.5 14-5 14-3.5z"/>
<path fill="#fad52d" d="M500.5 238.5l14 0.5 8 0.5 8 1 14 3 14 4.5 7 2.5 7 3.5 12 6.5 11.5 8 10.5 9.5 10 10.5 8 10.5 4 6 4 6.5 6 13 5 14 3.5 14 2 14 0 14-1 14-2 14-4 14-5.5 14-6.5 12-7.5 12-9.5 12-10.5 11-11 9-13 9-13 7-13 6-14 4.5-14 3-8 1.5-8 0.5-14 0.5-14-1-14-2-14-4-12-4.5-12-5.5-12-7.5-10-7.5-11-10-9-10-8-11.5-7-12.5-5.5-12-4-12-3-14-2-14 0-14 1-14 2.5-14 3.5-14 5-12 5.5-12 7.5-12 8.5-11.5 9.5-10.5 10.5-9.5 11.5-8.5 12.5-7.5 12-6 12-4.5 14-4 14-2.5z"/>
<path fill="#f9d82c" d="M493 250.5l13.5-0.5 14 0.5 13 2 13 3.5 12 4.5 12 5.5 11 6.5 11 8.5 10 9 9 10.5 7 10 7 12 5 12 3.5 12 2.5 12 1.5 14 0 12-1.5 14-3 14-4 12-5 12-7 12-8.5 12-8.5 10-10 9.5-10 8-12 7.5-12 6-12.5 5-13.5 4-12 2.5-14 1-14 0-12-1-12-2.5-12-3.5-12-4.5-11-6-11-7-10-8-9-9-8.5-10-6.5-10-6-10.5-4.5-11.5-4-12-2.5-12-1-14 0-14 1-12 3-14 4-12 5-12 6.5-12 6.5-10 8-9.5 10-10.5 9.5-8 10.5-7 12-7 12-5 12-4 12-3z"/>
<path fill="#f7db2b" d="M499.5 262.5l13 0 12 1.5 12 2 12 4 11.5 4.5 10.5 6 10 6.5 9 7.5 7.5 8 8 10 6.5 10 5 10.5 4.5 11.5 3 12 1.5 12 0.5 12-0.5 12-2 12-3 11-4 11-6 12-6 9.5-8 10-8 8.5-10 9-10 7-11 6-11 5.5-12 4-12 3-12 1.5-12 0.5-12-0.5-12-2-12-3-10-3.5-10-4.5-10-6-9.5-7-8.5-7.5-8-8.5-7-10-6-10-4.5-10-3.5-10-3-12-1.5-10-0.5-12 0.5-12 2-12 3-12 3.5-10 4.5-10 6-10 7-10 7.5-8.5 8-7.5 10-8 10-6.5 10-5.5 10-4 12-4 12-2.5z"/>
<path fill="#f6dd29" d="M496.5 276.5l12 0 10 0.5 10 1.5 10 2.5 10 3.5 10 5 9 5 9 7 7.5 7 7 8 5.5 8 6 10.5 4 9.5 3 10 2 10 1.5 12-0.5 11.5-1.5 10.5-2 10-3.5 10-4.5 10-4.5 8-7 10-7 8-8 8-8 6-10 6.5-10 5-11.5 4.5-10.5 3-10 2-12 1-10-0.5-10-1-10-2-10-3-10-4-9.5-5.5-8.5-5.5-7.5-6.5-6.5-6.5-6-7.5-6-8.5-5-9.5-4-10-2.5-10-2-10-1-10 0.5-10 1-10 2-10 3-10 4-10 5.5-10 6.5-9.5 6-7.5 8-8 8-6.5 9.5-6.5 8.5-4.5 10-4.5 10-3 10-2.5z"/>
<path fill="#f6e028" d="M494 292.5l8.5-0.5 10 0 8 1 10 2 10 3.5 8 3.5 8 4.5 8 5.5 7 6.5 5.5 6 6 8 5 8 3.5 8 2.5 8 2.5 10 1 8 0 8-0.5 10-2 10-2.5 8-4 10-4 7.5-4.5 6.5-6 8-7.5 7.5-8 6.5-8 5.5-8 4-8 3.5-10 3.5-9.5 1.5-8.5 1-10 0.5-8-1-10-1.5-8-2.5-8-3-8-4-8-5-6-4.5-6-6-6-6.5-5-7.5-4.5-8-3.5-8-2.5-8-2.5-10-0.5-8-0.5-8 1-10 1.5-8 2.5-9 3.5-9 4-8 4.5-7 5.5-7 5.5-6 7-6.5 8-6 8-4.5 8-4 8-3 8-2z"/>
<path fill="#f5e327" d="M502.5 310.5l8 0.5 8 0.5 6 1.5 8 2.5 7.5 3 6.5 4 6 4 4.5 4 5.5 6 4 5 4 6.5 3 6.5 3 8 1.5 6 1 8 0 8-0.5 7.5-1 6.5-2.5 8-2.5 6-4 8-4 6-5.5 6-4.5 5-6 5-6 4-7.5 4-6.5 3-6 2-8 1.5-8 1-8 0.5-8-1-6-1-7-2-7-2.5-6-3-6-4-6-4.5-4-4-5.5-6-4-6-3.5-6-2.5-6-2.5-8-1-6-1-6 0-8 0.5-6 1-8 2.5-8 2.5-6 3-6 3.5-6 4.5-6 4.5-4.5 5.5-5.5 5.5-4 6-4 7-3 6.5-3 7.5-2 6-1z"/>
<path fill="#f5e526" d="M494.5 336.5l4-0.5 6-0.5 6 0.5 6 0.5 6 2 4 1.5 4 2 4 2.5 4 3.5 3 2.5 3.5 4 2.5 4 2 4 2 4 1.5 4 1 6 0.5 4 0 6-0.5 4-1.5 6-3 8-2 4-3 5-2.5 3-4 4-3.5 3-4.5 3-3.5 2-6 3-4 1-6 1.5-6 0.5-4 0-8-0.5-4.5-1.5-5.5-1.5-4-2-4-2.5-4-3-3-3-3.5-4-3-4-2.5-4-2-4.5-1.5-5.5-1-4-0.5-4 0-6 1-8.5 1.5-5.5 1.5-4 2-4 3-4.5 2.5-3.5 3.5-4 4-3.5 4-2.5 8-4.5 4-1.5z"/></g>
<path d="M337.5 -1.3 L320.5 6.6 L304.7 14.7 L290.5 22.7 L274.3 32.7 L259.5 42.7 L244.5 53.8 L230.5 65.1 L217.2 76.7 L204.6 88.7 L192.5 101.3 L180.6 114.7 L174.5 122.1 L169.3 128.7 L159.0 142.7 L149.6 156.7 L140.5 171.6 L132.5 186.1 M872.5 180.4 L864.5 164.9 L856.4 150.7 L847.6 136.7 L837.9 122.7 L828.5 110.2 L822.5 102.8 L817.4 96.7 L806.5 84.6 L794.7 72.7 L782.5 61.3 L770.5 51.0 L757.3 40.7 L744.5 31.5 L730.5 22.3 L716.5 13.9 L702.5 6.3 L686.9 -1.3 M132.5 558.1 L138.5 569.2 L145.2 580.7 L152.9 592.7 L160.5 603.7 L168.5 614.4 L176.8 624.7 L185.5 634.7 L194.9 644.7 L204.5 654.2 L214.5 663.3 L224.5 671.9 L235.7 680.7 L246.7 688.7 L258.5 696.7 L268.5 702.9 L280.5 709.9 L292.5 716.3 L304.5 722.1 L318.5 728.4 L330.5 733.3 L344.5 738.4 L356.5 742.3 L370.5 746.5 L384.5 750.1 L398.5 753.2 L412.5 755.8 L426.5 758.0 L440.5 759.7 L454.5 761.0 L468.5 761.8 L482.5 762.2 L498.5 762.1 L512.5 761.6 L526.5 760.7 L542.5 759.1 L556.5 757.2 L571.7 754.7 L586.5 751.7 L600.5 748.5 L614.5 744.7 L628.5 740.5 L642.5 735.8 L656.5 730.6 L670.5 724.9 L684.2 718.7 L696.5 712.7 L708.5 706.4 L721.9 698.7 L734.5 690.9 L746.5 682.9 L758.0 674.7 L768.5 666.6 L778.5 658.5 L789.6 648.7 L800.2 638.7 L810.1 628.7 L819.2 618.7 L827.8 608.7 L836.5 597.7 L844.7 586.7 L852.5 575.2 L859.1 564.7 L866.1 552.7 L872.5 540.8" fill="none" stroke="#e05c52" stroke-width="4"/>
<path d="M486.5 176.6 L476.5 177.8 L466.5 179.5 L456.5 181.6 L446.5 184.3 L438.5 186.8 L428.5 190.4 L418.5 194.6 L410.5 198.5 L402.5 202.7 L392.5 208.6 L384.5 213.9 L376.5 219.8 L368.5 226.2 L361.2 232.7 L354.5 239.2 L347.5 246.7 L340.8 254.7 L334.7 262.7 L329.1 270.7 L324.1 278.7 L318.6 288.7 L314.6 296.7 L310.5 306.2 L307.2 314.7 L304.5 322.9 L301.7 332.7 L299.4 342.7 L297.6 352.7 L296.3 362.7 L295.5 372.7 L295.2 382.7 L295.4 392.7 L296.1 402.7 L297.3 412.7 L298.6 420.7 L300.7 430.7 L303.3 440.7 L306.6 450.7 L310.4 460.7 L313.9 468.7 L317.9 476.7 L322.5 484.9 L327.4 492.7 L333.0 500.7 L338.5 507.9 L344.5 514.9 L351.9 522.7 L358.5 529.0 L366.5 535.8 L374.5 542.0 L382.5 547.5 L390.5 552.4 L398.5 556.9 L408.5 561.7 L416.5 565.2 L426.0 568.7 L434.5 571.4 L444.5 574.1 L454.5 576.3 L464.5 578.0 L474.5 579.2 L484.5 579.8 L494.5 580.1 L504.5 579.9 L514.5 579.2 L524.5 578.0 L534.5 576.4 L544.5 574.3 L554.5 571.7 L564.5 568.6 L574.5 565.0 L584.7 560.7 L593.1 556.7 L602.5 551.7 L611.0 546.7 L620.5 540.4 L628.5 534.5 L638.1 526.7 L644.7 520.7 L652.8 512.7 L660.0 504.7 L666.5 496.8 L672.5 488.7 L677.8 480.7 L682.6 472.7 L688.0 462.7 L692.5 453.1 L695.9 444.7 L699.5 434.7 L702.5 424.7 L704.9 414.7 L706.7 404.7 L708.1 394.7 L708.9 384.7 L709.3 374.7 L709.1 364.7 L708.4 354.7 L707.2 344.7 L705.5 334.7 L703.2 324.7 L700.4 314.7 L696.9 304.7 L692.9 294.7 L689.2 286.7 L684.5 277.8 L679.1 268.7 L673.8 260.7 L667.8 252.7 L661.2 244.7 L654.5 237.4 L647.7 230.7 L640.5 224.2 L632.5 217.8 L624.5 211.9 L616.5 206.7 L606.5 200.9 L598.4 196.7 L588.5 192.2 L578.5 188.2 L568.5 184.9 L558.5 182.1 L548.5 179.8 L538.5 178.1 L528.5 176.8 L518.5 176.0 L508.5 175.7 L498.5 175.8Z" fill="none" stroke="#c01c06" stroke-width="4.5"/>
<circle cx="503.0" cy="383.8" r="9.2" fill="#000"/>
</g>
<g clip-path="url(#c2)">
<g shape-rendering="geometricPrecision"><rect x="132.5" y="800.2" width="740" height="782" fill="#402ab5"/>
<path fill="#412cba" d="M132.5 800l740 0 0 782-738 0-2-1.5z"/>
<path fill="#422ebe" d="M132.5 800l740 0 0 782-735 0-5-3z"/>
<path fill="#4230c3" d="M132.5 800l740 0 0 782-732 0-8-5z"/>
<path fill="#4331c8" d="M132.5 800l740 0 0 782-729.5 0-10.5-7z"/>
<path fill="#4433cc" d="M132.5 800l740 0 0 782-726.5 0-13.5-8.5z"/>
<path fill="#4435d1" d="M132.5 800l740 0 0 782-723.5 0-16.5-10.5z"/>
<path fill="#4537d5" d="M132.5 800l740 0 0 782-721 0-19-12.5z"/>
<path fill="#4639d9" d="M132.5 800l740 0 0 782-718 0-22-14.5z"/>
<path fill="#463bdd" d="M132.5 800l740 0 0 782-715 0-25-16.5z"/>
<path fill="#463de0" d="M132.5 800l740 0 0 782-712 0-28-18.5z"/>
<path fill="#473fe3" d="M132.5 800l740 0 0 782-709 0-31-20.5z"/>
<path fill="#4742e6" d="M132.5 800l740 0 0 782-706 0-34-22.5z"/>
<path fill="#4744e8" d="M132.5 800l740 0 0 782-703.5 0-18-12-18.5-12.5z"/>
<path fill="#4747eb" d="M132.5 800l740 0 0 782-700.5 0-19.5-12.5-20-14z"/>
<path fill="#4849ed" d="M132.5 800l740 0 0 781-2 1-695.5 0-21-14-21.5-14.5z"/>
<path fill="#484bef" d="M132.5 800l740 0 0 778.5-5 3.5-689.5 0-21.5-14-24-16.5z"/>
<path fill="#484ef1" d="M132.5 800l740 0 0 776.5-8 5.5-683.5 0-24.5-16-24-16.5z"/>
<path fill="#4850f3" d="M132.5 800l740 0 0 774.5-11 7.5-677.5 0-24.5-16-27-18.5z"/>
<path fill="#4852f4" d="M132.5 800l740 0 0 772.5-14.5 9.5-670.5 0-28-18-27-19z"/>
<path fill="#4855f6" d="M132.5 800l740 0 0 770.5-17.5 11.5-664.5 0-28-18-30-21z"/>
<path fill="#4757f7" d="M132.5 800l740 0 0 768-20.5 14-658.5 0-31-20-30-21z"/>
<path fill="#475af9" d="M132.5 800l740 0 0 766-24 16-652 0-30.5-20-33.5-23z"/>
<path fill="#475cfa" d="M132.5 800l740 0 0 763.5-27 18.5-646 0-15.5-10-18-12-33.5-23.5z"/>
<path fill="#465efb" d="M132.5 800l740 0 0 761.5-15 10.5-15 10-639.5 0-16.5-10-18-12-17-12-19-13.5z"/>
<path fill="#4661fc" d="M132.5 800l740 0 0 759.5-16 11-17.5 11.5-633 0-19-12-18-12-17.5-12-19-14z"/>
<path fill="#4563fd" d="M132.5 800l740 0 0 757-18.5 13-18 12-626.5 0-19.5-12-18-12-20-14-19.5-14z"/>
<path fill="#4466fd" d="M132.5 800l740 0 0 755-19 13-21 14-620 0-19-12-21.5-14-20-14-19.5-14.5z"/>
<path fill="#4368fe" d="M132.5 800l740 0 0 752.5-22 15.5-21.5 14-613 0-19.5-12-21-14-21-14.5-22-16z"/>
<path fill="#426bfe" d="M132.5 800l740 0 0 750-22.5 16-24 16-607 0-22.5-14-21-14-23-16-20-15z"/>
<path fill="#406dfe" d="M132.5 800l740 0 0 748-25.5 18-24.5 16-600 0-22.5-14-21.5-14-22.5-16-23.5-17z"/>
<path fill="#3e70ff" d="M132.5 800l740 0 0 745.5-26 18.5-27.5 18-593.5 0-22.5-14-24-16-23-16-23.5-17.5z"/>
<path fill="#3b72ff" d="M132.5 800l740 0 0 743-14 10.5-14 10-14 9.5-15 9-586.5 0-22.5-14-24.5-16-25.5-18-24-18z"/>
<path fill="#3975fe" d="M132.5 800l740 0 0 740.5-15.5 11.5-14 10-15 10-16 10-579.5 0-26-15.5-24.5-16.5-25-18-24.5-18z"/>
<path fill="#3677fe" d="M132.5 800l740 0 0 738.5-16 11.5-16 11.5-16 10.5-16 10-572.5 0-26.5-16-25-16.5-26-18.5-26-19.5z"/>
<path fill="#347afd" d="M132.5 800l740 0 0 736-16.5 12-16.5 12-17 11.5-17.5 10.5-565.5 0-26.5-16-27.5-18-25-18-28-21z"/>
<path fill="#317dfc" d="M132.5 800l740 0 0 733.5-17 12.5-17 12.5-18 12-19 11.5-558.5 0-26.5-16-28-18-27.5-20-28.5-21.5z"/>
<path fill="#307ffb" d="M132.5 800l740 0 0 731-18 13.5-19 13.5-18 12-19.5 12-551.5 0-30-18-27.5-18-27.5-20-29-22z"/>
<path fill="#2f81fa" d="M132.5 800l740 0 0 728.5-18 14-20 14-20 13.5-20.5 12-544 0-29.5-17.5-28-18.5-30.5-22-29.5-22.5z"/>
<path fill="#2e84f9" d="M132.5 800l740 0 0 726-20 15.5-20 14-22 14.5-20 12-537 0-15-8.5-15-9.5-16-10-14.5-10-30.5-22-30-23z"/>
<path fill="#2e86f7" d="M132.5 800l740 0 0 723.5-20 15.5-21.5 15-21 14-23 14-529.5 0-15-8.5-16-9.5-15.5-10-16.5-11-15.5-11-16-12-30.5-23.5z"/>
<path fill="#2d88f6" d="M132.5 800l740 0 0 720.5-22 17.5-22 15.5-22 14.5-23.5 14-522 0-16.5-9-16-10-16-10-16-11-17-12-16-12-15.5-12-15.5-12z"/>
<path fill="#2d8bf4" d="M132.5 800l740 0 0 718-23 18-22.5 16-24 16-24 14-514 0-18-10-16.5-10-15.5-10-16.5-10.5-15.5-11.5-16.5-12-18-14-16-13z"/>
<path fill="#2d8df2" d="M132.5 800l740 0 0 715.5-22 17.5-24 17.5-24 15.5-27.5 16-506.5 0-17.5-10-17-10-16-10-17.5-12-17-12-16.5-12-18-14-16.5-13.5z"/>
<path fill="#2c8ff0" d="M132.5 800l740 0 0 712.5-24.5 19.5-25 18-24.5 16.5-13 7.5-14 8-499 0-18-10-18-10.5-18-11.5-17.5-12-17-12-17.5-13-16.5-13-17.5-14z"/>
<path fill="#2b91ef" d="M132.5 800l740 0 0 710-12.5 10-12.5 10-25 18-14 9.5-13.5 8.5-13.5 8-14 8-491 0-18.5-10-17.5-10-18.5-12-18-12-17.5-12.5-18-13.5-18-14-18-15z"/>
<path fill="#2a93ed" d="M132.5 800l740 0 0 707-13 11-13 10-13.5 10-14 10-14.5 10-13.5 8-13.5 8-14 8-483 0-18.5-10-20.5-12-19-12-18-12-16.5-12-19-14-17.5-14-19-15.5z"/>
<path fill="#2895ec" d="M132.5 800l740 0 0 704.5-14 11.5-12.5 10-13.5 10-14 10-15 10-15 9.5-15 8.5-14.5 8-474.5 0-20-10.5-19.5-11.5-19-12-18-12-19.5-14-18.5-14-17.5-14-20-16.5z"/>
<path fill="#2798ea" d="M132.5 800l740 0 0 701.5-14 12-14 11-15.5 11.5-14 10-15.5 10-15 9.5-15 8.5-14.5 8-466.5 0-20-10.5-20-11.5-20-12.5-20-13.5-19.5-14-18.5-14-20-16-18-15.5z"/>
<path fill="#269ae9" d="M132.5 800l740 0 0 698.5-13.5 11.5-15 12-15.5 12-14.5 10-15 10-16 10-16.5 9.5-15.5 8.5-458.5 0-20-10.5-20-11.5-20-12-20.5-14-19.5-14-21-16-20-16-19-16z"/>
<path fill="#259ce7" d="M132.5 800l740 0 0 696-14.5 12-14.5 12-16 12-15 11-17 11-16.5 10-16.5 9.5-16 8.5-449.5 0-22.5-11.5-20-11.5-21-13-21-14-19.5-14-21-16-19.5-16-20-17z"/>
<path fill="#249ee6" d="M132.5 800l740 0 0 693-15.5 13-14.5 12-16 12-16.5 12-15.5 10.5-18 11-16 9-18.5 9.5-441 0-20.5-10.5-22-12.5-21-13-21.5-14-22-16-21-16-19.5-16-21-18z"/>
<path fill="#23a0e5" d="M132.5 800l740 0 0 690-16 14-15 12-15.5 12-17.5 12.5-17.5 11.5-16.5 10-18 10.5-19 9.5-432 0-23-11.5-22-12.5-22-13.5-21.5-14.5-22.5-16-21-16-21-17.5-20-17.5z"/>
<path fill="#22a1e4" d="M132.5 800l740 0 0 687-15 13-17 14.5-18 13.5-17 12-17 11.5-18 10.5-18 10.5-19.5 9.5-423 0-23.5-11.5-22-12.5-22-13-22-15-22.5-16-21.5-16.5-21.5-17.5-22.5-20z"/>
<path fill="#21a3e3" d="M132.5 800l740 0 0 684-16 14-17 14-17 13.5-18 12.5-18 12-20 12-18 10-20 10-414 0-24-11.5-22-12.5-23-14-24.5-16-22.5-16-23-18-21.5-18-21.5-19z"/>
<path fill="#1fa5e2" d="M132.5 800l740 0 0 681-17 15-17 14.5-18 13.5-19.5 14-18.5 12-20 12-18.5 10-20.5 10-404.5 0-24.5-12-22-12-23.5-14-22.5-14.5-22-15.5-23-18-22-18-22.5-20-4.5-4z"/>
<path fill="#1ea7e1" d="M132.5 800l740 0 0 677.5-18 16.5-17 14-18 14-19.5 14-19.5 13-20 12-21 11-20.5 10-395 0-23.5-11-24-13-23.5-14-22.5-14.5-22-15.5-23.5-18-22-18-22.5-20-8-7z"/>
<path fill="#1ca9df" d="M132.5 800l740 0 0 674.5-17 15.5-19 16.5-20 15.5-20 14-20 13-20 11.5-21.5 11.5-21 10-385.5 0-24-11-24-13-23.5-14-22-14-23-16-21.5-16-22-18-22.5-20-13.5-12.5z"/>
<path fill="#1babde" d="M132.5 800l740 0 0 671-18 17-19 16-20.5 16-20 14-20.5 13.5-21.5 12.5-22.5 12-21.5 10-375.5 0-25-11.5-23.5-12.5-24.5-14-22-14-23-16-21-16-22.5-18-22.5-20-17-15.5z"/>
<path fill="#19addc" d="M132.5 800l740 0 0 668-19.5 18-18.5 16-20.5 16-21.5 15.5-22 14-22 12.5-22 11.5-23 10.5-365 0-22-10-24-12-24-13.5-23-14.5-23-15.5-22-16.5-22.5-18-23-20-22.5-21z"/>
<path fill="#17aeda" d="M132.5 800l740 0 0 664.5-18.5 17.5-20.5 18-21 16.5-22 15.5-22 14.5-24 13.5-24 12-22 10-354.5 0-23.5-10-24-12-24-13.5-23-14.5-23-15.5-22.5-16.5-22.5-18-23-20-26-24z"/>
<path fill="#14b0d8" d="M132.5 800l740 0 0 661-19.5 19-21 18-21.5 17-22 16-24 15-22 12.5-24 12.5-25.5 11-343.5 0-23.5-10-24.5-12-23-12.5-24-14.5-22-15-24-17-23.5-19-21-18-15-14-16.5-15.5z"/>
<path fill="#11b1d6" d="M132.5 800l740 0 0 657.5-20 19.5-21.5 19-22.5 18-23 16-25 16-24 13.5-24 12-25.5 10.5-332 0-24.5-10-24-11.5-22.5-12.5-23.5-14-24-15.5-22.5-16.5-23-18-23.5-20-17.5-16-17.5-17z"/>
<path fill="#0db3d3" d="M132.5 800l740 0 0 654-20 20-22 19.5-12 10-11.5 8.5-22.5 16-12.5 8-13 8-25 14-25.5 13-14 6-13 5-321 0-24-9.5-24-11.5-24.5-13-23.5-14-24-15.5-23-16.5-23-18-23.5-20-19.5-18-19-18.5z"/>
<path fill="#08b4d1" d="M132.5 800l740 0 0 650.5-11.5 11.5-10 10-11 10-11.5 10-22.5 18-13.5 10-12 8-12.5 8-13 8-25.5 14-13 6.5-14 6.5-14 6-13 5-309 0-25-10-25-11.5-24-12.5-24-14-24-15.5-23-16.5-23-17.5-21.5-18.5-22-20-22.5-22z"/>
<path fill="#04b6ce" d="M132.5 800l740 0 0 647-10.5 11-10.5 10-11 10.5-12 10.5-12 10-12 9.5-13.5 9.5-12.5 8.5-12 8-14 8.5-14 8-14 7-14 7-14 6.5-14 5.5-13.5 5-296.5 0-24-9-24-11-24-12-26-14.5-24-15.5-24-17-22-17-24-20-24-22-24-23.5z"/>
<path fill="#02b7cb" d="M132.5 800l739 0 1 1 0 642.5-10.5 10.5-12 12-11.5 11-12 10.5-13 10.5-13 10-12 9-13.5 9-12.5 8.5-14 8-14 8-15 7.5-15 7.5-14 6-14 5.5-14 5-283.5 0-24.5-9-25-11-24-12-25-14-26-16-23-16-23.5-18-24-20-13.5-12-13-12-12-12-13-13.5z"/>
<path fill="#00b8c9" d="M132.5 800l732.5 0 7.5 9 0 630.5-12 12.5-12 12-12 11.5-12 10.5-12 10-13 10-14 10-13 9-14 9-14 8.5-14 7.5-16 8-14 7-16 6.5-14 5.5-15 5-269.5 0-25.5-9-26-11-24.5-12-25.5-14-24-14.5-24-16.5-24-18-22.5-19-13.5-12-15-14-14.5-14-14.5-15z"/>
<path fill="#00b9c6" d="M132.5 800l725 0 15 17 0 618.5-11.5 12.5-12 12-12.5 12-12 11-13.5 11-13 10-13.5 10-14.5 10-15.5 10-14 8-15 8-15 7.5-14 6.5-16 7-16 6-16 5-255.5 0-12.5-4-14-5-26-10.5-25.5-12.5-24.5-13-24.5-15-24-16-24-18-24.5-20-16-14-14.5-14-16.5-16-14-15z"/>
<path fill="#02bbc3" d="M132.5 800l718 0 11.5 12 10.5 12.5 0 607-11.5 12.5-12.5 13.5-13.5 12.5-12.5 11.5-14 11.5-14 11-14 10-15 10-15 9.5-15 8.5-15 8-16 8-16 7-16 6.5-16 6-15.5 4.5-240.5 0-26-8.5-26-10-26-12-26-13.5-26-15.5-24.5-16.5-24-18-25-20-15.5-14-17-16-16-16-16-16.5z"/>
<path fill="#05bcc0" d="M132.5 800l710.5 0 15.5 16 14 16.5 0 595-12 13.5-12.5 13-13.5 13.5-14 12.5-14 11.5-14 11-14 10-16 11-16 9.5-15.5 9-16.5 8.5-16 7.5-16 7-16 6.5-16 5.5-17.5 5-224.5 0-26-8-14-5-14-5.5-26-11.5-14-7-13-7-14-8-13-7.5-24.5-16.5-24.5-18-24.5-20-18-16-17-16-18-18-15.5-16.5z"/>
<path fill="#09bdbd" d="M132.5 800l703 0 9 9 10 10.5 9.5 10.5 8.5 10.5 0 583-0.5 0.5-12.5 14-13 14-14 13.5-14 12.5-14 12-15.5 12-14.5 10.5-16 10.5-16 10-16.5 9-16 8-17.5 8.5-18 7.5-16 6-18 5.5-16.5 4.5-207 0-6.5-1.5-14-4-12-4-12.5-4.5-13.5-5-12-5-14-6.5-14-7-12-6.5-26-14.5-14-9-12-8.5-25-18-25-20-18-16-19-18-17.5-18-17.5-18.5z"/>
<path fill="#0fbebb" d="M132.5 800l695 0 11 10.5 12 12.5 12 13 10 12.5 0 571-4 4.5-12.5 14-13.5 14-14 14-13.5 12-14.5 12-16 12-16 11.5-16 10.5-17 10-17 9.5-18 8.5-16 7.5-17 6.5-17.5 6-17.5 5.5-17.5 4.5-189 0-19.5-5-14-4-12-4-12.5-5-13.5-5-14-6.5-12-5.5-25-13-23.5-14-25.5-16.5-24-17.5-24-19.5-18.5-16.5-19-18-19.5-20-17-19z"/>
<path fill="#15bfb8" d="M132.5 800l687 0 13 12 14 14 14 15.5 12 15 0 558.5-7.5 9-12.5 14-14 14.5-14 13.5-16 14-14.5 12-16 12-17.5 12-16 10-17.5 10-16.5 9-16 7.5-18 7.5-18 7-18 6-18 5-18 4-168 0-17-4-17-4.5-24-8-14-5-12-5-24.5-11.5-25.5-13-24.5-15-24-16-23.5-17-23-19-20-18-19-18-19-20-17-19z"/>
<path fill="#1ac0b5" d="M132.5 800l678.5 0 5.5 5 16 14.5 14 14 14 16 12 15 0 546-11 13.5-13 14.5-14 14.5-14 13.5-16 13.5-16 13-16 12-16.5 11-17.5 11-18 10-18 9-18 8.5-18 7-19 6.5-19 6-18 4.5-18 3.5-144 0-12-2-14-3.5-14-3.5-12-3.5-24-8.5-24-9.5-24-11.5-24-13-24-14.5-22-15-23.5-17.5-22-18-20-18-20.5-19.5-19-20.5-17-19.5z"/>
<path fill="#1fc0b2" d="M132.5 800l670 0 12 10 15.5 14 14.5 15 14 16 14 18 0 533-15 18-14 16-14 14-15 14-16.5 14-15.5 12.5-18 13-18 11.5-18 11-18 9.5-18 8.5-19 8-19 7.5-20 6.5-18 4.5-20 4.5-18.5 3-115.5 0-18-3-18-3.5-18-5-18-5.5-24-8.5-22-9.5-22.5-11-23.5-13-22-13.5-23-15.5-21-16-22-18-20-18-20.5-20-18.5-20-19-22z"/>
<path fill="#24c1af" d="M132.5 800l661 0 10 8 9.5 8 15.5 14 16 16.5 14 16.5 14 18 0 520.5-8.5 10.5-10 12-14.5 16-15 15.5-16 14.5-17 14-18.5 14-17 12-19 12-18.5 10.5-19 9.5-19 9-20 7.5-20 7-20 5.5-20 5-20 3.5-21.5 2.5-77 0-13.5-1.5-22-3.5-22-4.5-22-6-22-7.5-22-8.5-22-10-20.5-10.5-21.5-12-22-14-20-14-21-16-19.5-16-22-20-20-20-18.5-20-19-22.5z"/>
<path fill="#27c2ac" d="M132.5 800l651.5 0 14.5 11 13.5 11 16.5 15.5 16 16.5 14 17 14 18.5 0 507-10.5 13.5-11.5 14-14.5 16-16.5 16-17.5 16-17.5 14.5-18.5 13.5-19.5 13.5-20 12-20 10.5-20 9.5-21 8.5-21 7.5-20 6-20 5-22 4-22 3-20 1.5-20 0.5-22-0.5-20-1.5-22-3-22-4-20-5-22-6.5-20-7.5-22-9-20-9.5-20-10.5-20-11.5-19.5-13-20-14-18.5-14-19-16-21.5-20-20-20-20-22-19.5-23z"/>
<path fill="#2bc3a9" d="M133 800l641.5 0 18 13 18 15 16 15 16.5 17 15.5 19 14 19 0 494-12.5 16-13.5 16-14.5 16-16 16-17.5 15.5-18 14.5-18 13.5-19 12.5-19 11.5-20 11-20 9-20.5 8.5-21.5 8-20 5.5-20 5-22 4-22 3-20 1.5-20 0.5-22-1-22-2-20-2.5-20-4-22-5.5-20-6-20-7.5-21.5-9-20.5-9.5-20-10.5-19.5-12-18.5-12-20-14-18-14-19-16-22-20-21.5-22-20-22-19.5-24 0-565.5z"/>
<path fill="#2dc4a5" d="M140.5 802l2.5-2 621.5 0 12 8.5 12 8.5 11.5 9 10.5 9 16 15.5 8 8 8.5 9.5 15.5 19 14 19.5 0 480-14.5 19.5-17 20-15 16-16.5 16-15.5 14-17.5 14-19.5 14-18.5 12-20 12-19.5 10-20.5 9.5-20 8-20 7-20 6-20 4.5-22 4-20 2-22 1.5-20 0.5-20-1-20.5-2-21.5-3-20-4-20-5-20-6.5-22-8-20-8-20-10-20-10.5-20-12-19.5-13-19.5-14-18-14-19-16-21-20-21.5-22-19.5-22-10-12-10-12.5 0-552.5z"/>
<path fill="#30c5a2" d="M151 802l2.5-2 600.5 0 15.5 10 15 11 14 11 14 12 16.5 16 15.5 17.5 14.5 18.5 13.5 19.5 0 466-9 12.5-9.5 12-9.5 12-11 12-15 16-17.5 16-16.5 14.5-18 13.5-17 12-19 12-20 11.5-20 10-20 9-21 7.5-21 7-20 5-20 4.5-20 3-22 2-20 1-22-0.5-20-1-20-2.5-20-3.5-21.5-5-20.5-5.5-20-7-19-7.5-21-9-20-10-19-11-19-12-20-13.5-18-13.5-18.5-15-18-16-21-20-20.5-21.5-19-22.5-17-21.5 0-539 8.5-7.5z"/>
<path fill="#32c69f" d="M161 802l3-2 579.5 0 19 12 18 12.5 18 14.5 16 14.5 16 16 14.5 16.5 14 18 13.5 20.5 0 451.5-10 14.5-12 15.5-12 14.5-14 15.5-16 16-16 14-17 14-19 14-18 12-20 12-18.5 10-19.5 9.5-20 8-20 7-20 6-20 5-20 3.5-22 3-20 1.5-20 0.5-20-0.5-20-1.5-22-3-20-4-20-5-20-6-20-7-21-9-21-10-19-10-20-12-18.5-12-19.5-14-18-14-17-14-18-16.5-19.5-19.5-18-20-18.5-22-16-21 0-525 14-12.5z"/>
<path fill="#34c79b" d="M172 802l3-2 557 0 10.5 6 12 7.5 12 8 10 7 10 7.5 10 8.5 10 8.5 10 9.5 16 17 14 16.5 13.5 18 12.5 19.5 0 437-12 17.5-14 18-15 18-15 16-16 15.5-17 14.5-17 13.5-17.5 12.5-18.5 12-18 10.5-20 10.5-20 9-20 8-20 6.5-20 5.5-20 4.5-20 3.5-20 2-22 1.5-20 0-20-1-21.5-2.5-20.5-3-20-4.5-20-5.5-20-6.5-20-7.5-20-8.5-20-10-20-11.5-18-11-20-13.5-19.5-14.5-17-14-18.5-16-16.5-16-17.5-18-17.5-20-16.5-20-15-20.5 0-511 9-8.5 9.5-8 10-8z"/>
<path fill="#37c898" d="M183 802l3-2 534.5 0 14 8 12 7 14 9 12 8.5 12 9 12 10 12 10.5 10 10.5 14.5 15.5 15 18 12.5 18 12 19 0 421.5-7.5 11.5-7 10-15 20-8.5 10-9 10-17.5 18-15 14-16.5 14.5-18 13.5-18 12.5-18 11.5-18.5 10-19.5 10-20 8.5-20 7.5-20 6-20 5.5-20 4-20 3-20 2-22 0.5-20-0.5-20-1-20-3-20-3.5-21-5-21-6-20-7-20-8-19-9-19-10-20-11.5-18-11.5-18.5-13-18-14-19.5-16-17.5-16-16-16-17-18-15.5-18-15.5-20-14.5-20 0-496.5 12-11.5 12-10.5 12-9.5z"/>
<path fill="#39c994" d="M194 802l3.5-2 510.5 0 16.5 8.5 16 9.5 16 10 14 10 14 10.5 13.5 11.5 12.5 11.5 12 12.5 14 16 12.5 16 12.5 18 11 18.5 0 406-7.5 11.5-8 12-8.5 12-9.5 12-10 12-9 10-11.5 12-10.5 10-16 14-17.5 14-18 13.5-18 11.5-19 11-19 10-18 8.5-20 8-20 6.5-20 6-20 4.5-20 3.5-20 2-20 1.5-20 0-20-1-20-2-20-3-20-4-20-5.5-20-6.5-20-7.5-20-8.5-20-10-19-10.5-19.5-12-18-12-19-14-17-14-18.5-16-16.5-16-15.5-16-14.5-16-15-18-13.5-18-14-19.5 0-482 14-14 14.5-12.5 15.5-12z"/>
<path fill="#3dc990" d="M206 802l3.5-2 485.5 0 19.5 9.5 18 10 18 11 16 11 16 12.5 14.5 12 13.5 13.5 14 14.5 13.5 16 12.5 17 11.5 17 10.5 18 0 390-8.5 14-9.5 14-10 14-9.5 12-10.5 12.5-12 13-12 12-12 11.5-16 13.5-18 13.5-17 12-17 11-18 10-18.5 9-19.5 9-20 7.5-20 6.5-20 5-20 4-20 3-20 2-20 1-20-0.5-20-1-20-2.5-20-3.5-20-5-20-5.5-20-7-20-8-19.5-9-19-10-19.5-11-18-11.5-19-13.5-18-14-17-14-17.5-16-16-16-16.5-18-14-16-14-17.5-12-16.5-12-17.5 0-467 8-8.5 8-7.5 8-7.5 10-8.5 10-7.5 10-7.5 9.5-6.5z"/>
<path fill="#41ca8c" d="M218.5 802l3.5-2 459.5 0 21.5 10 21.5 11.5 20 12 18 12 18 14 16 14 15.5 14.5 14.5 16.5 13 15.5 11.5 16 11.5 18 10 18 0 373.5-8.5 14.5-10.5 16-11 15.5-11.5 14.5-12 14-13 14-13.5 13-14.5 13-17.5 14-16.5 12-17.5 12-18 10.5-18 9.5-20 9.5-18 7-20 7-20 6-20 4.5-20 3.5-18 2-20 1.5-20 0.5-20-1-20-2-20-3-20-4-20-5-20-6.5-20-7.5-19-8.5-19-9-19.5-11-19.5-12-18-12-18.5-14-16.5-13-17-15-16.5-16-15.5-16-16-18-13-16-12.5-16-11-16-10.5-15.5 0-451.5 10-11 10-10 10-9 10-8.5 11-8.5 11-7.5 12-7.5z"/>
<path fill="#45cb88" d="M231 802l4-2 431.5 0 24 10.5 24 12 22 12.5 11.5 7 10.5 7.5 10 7.5 10 8 18 15.5 10 9.5 8 9 8 8.5 8 10 11.5 14.5 11 16 9.5 16 10 18.5 0 356-10 17.5-11.5 18-11.5 16-13 17-14 16-15 15-15 14.5-16.5 13.5-15.5 12-18 12.5-18 11.5-18.5 10-19.5 10-18 7.5-18 6.5-20 6.5-20 5-18 4-20 2.5-20 2-20 1-20-0.5-20-1.5-20-2.5-20-4-18.5-4.5-19.5-5.5-20-7-18-7.5-20-9-20-10.5-18-10.5-18.5-12-19.5-14-17.5-14-16.5-13.5-17.5-16.5-15.5-16-14.5-16-15.5-18-11-14-10-14-10-14.5-10-15.5 0-435.5 10-11.5 10.5-11 11.5-10.5 12-10 12-9.5 14-9.5 14-8.5z"/>
<path fill="#4acb84" d="M245 802l4-2 402 0 15.5 6 14 6 13.5 6 12.5 6.5 14 7.5 12 7 12 7.5 11 7.5 11 8.5 12 9.5 10 8.5 10 9.5 10 10 8 9 9.5 11 8 10 10.5 15 10 15 9 16 9 17 0 338-10.5 19-12 20-14 20-14.5 18-16 18-16.5 16-17.5 16-17.5 14-17 12-16.5 11-18 10.5-18 9.5-20 9-18 7-20 7-18 5-18 4-20 3.5-20 2.5-20 1-20 0-20-1-20-2-18-3-20-4.5-20-5.5-18.5-6-19.5-7-20-9-19.5-10-18.5-10.5-18-11-18-12.5-18-13.5-17-14.5-16-14-16-16-15.5-16-15.5-18-14.5-18-9.5-13-9-13-9-14-8-13 0-418.5 12-14.5 11-12 13-12 14-11.5 14-10.5 16-10.5 16-9z"/>
<path fill="#50cc80" d="M259.5 802l4.5-2 370.5 0 16 6 16 6 16 7 15 7 15 8 14 8 13 8 13 9 12 9 12 9.5 12 10.5 10.5 10 9.5 10 11 12 9 11.5 9.5 12.5 9.5 14 9 15.5 8 14.5 8 16.5 0 319-11 20.5-6.5 12-6.5 10.5-8 11.5-7.5 10-7.5 10-8 10-9 10-9.5 10-18.5 18-18.5 16-10.5 8-11 8-17.5 12-16.5 10-18 10-18 8.5-18.5 7.5-19.5 7-18 5.5-20 5-18 3.5-20 2.5-20 1.5-20 0.5-20-1-20-1.5-18.5-3-19.5-3.5-18-4.5-20-6.5-20-7-19-8.5-19-9-18-10-18-11-18-12-16.5-12-17.5-14-18-15.5-16-15.5-16-16.5-14.5-16.5-14.5-18-13.5-18-15-22-14.5-24 0-401.5 12-15 14-15.5 15-14 15-12.5 16-11.5 18-11.5 18-9.5z"/>
<path fill="#55cc7c" d="M275 802l5.5-2 335.5 0 18.5 6 18 6.5 18 7.5 16 7 16 8 16 9 16 9.5 14 9.5 14 10.5 12 9.5 12.5 11 12.5 12 11 12 10 12 11 14 10 14 8.5 14 8 14 7 14 7.5 16 0 299-6 12.5-6 12-7.5 12.5-6.5 11-7.5 11-8.5 12-8 11-9.5 11-10.5 12-9.5 10-10.5 10-10 9.5-10.5 8.5-11.5 9.5-12 8.5-11.5 8-18.5 11.5-18 10-18 9-18 7.5-18 7-20 6-20 5-18 3.5-18 3-20 1.5-18 0.5-20 0-20-1.5-20-3-18-3-19.5-5-20-6-18.5-6.5-18.5-7.5-19.5-9-18-9.5-19-11.5-18-12-17-12-17.5-14-16.5-14-17-16-15.5-16-14-16-15-18-13.5-18-12.5-18-11.5-18-11-19 0-384 6.5-9 7.5-9.5 7.5-8.5 7.5-8 15-14.5 8.5-7.5 9.5-7 18-13 10-6 10-6 20-10 12-5.5z"/>
<path fill="#5acc77" d="M292.5 802l6-2 297 0 23 7 20 6.5 18 6.5 18 8 16 7.5 16 8 16 9 16 10.5 14 9.5 14 11 14 12 12 11.5 12 12.5 11 12.5 11 14 10 14 9 14 7 12.5 7.5 13.5 6.5 14 6 14.5 0 277-6.5 14.5-7 14-6.5 12.5-8 13.5-8 12-8.5 12-9 12-10.5 12.5-10.5 11.5-11.5 12-10.5 10-11.5 10-12 10-13.5 10-14.5 10-12.5 8-17.5 10.5-18 9-18 8-18 7-18 6-20 5.5-20 4-18 3-18 2-20 1-18 0-20-1.5-20-2-18-3-20-4.5-18-5-18-6.5-20-7.5-18-8-19-10-17.5-10-19-12-17-12-18-14-16.5-14-17.5-16-15.5-16-15-16-13-16-14-18-13-18-12.5-20-8.5-14-8-15 0-365 6.5-10 7.5-10 8-9 8-9 9.5-10 8.5-8 10-8 10-8 11-8 11-7 11.5-7 10.5-5.5 12-6 12-5 12-5z"/>
<path fill="#60cd73" d="M312.5 802l7-2 252.5 0 16.5 4 16 4.5 16 5 16 5 18 7 18 7.5 16 7.5 16 8.5 16 9 14 9 14 10 15 11 13 11.5 12 11 12 12.5 11.5 13 10.5 13.5 10 14 9.5 14.5 8 14 6.5 12 5.5 12 5 12 5.5 14 0 254-6 14.5-7 15.5-8.5 16-8 14-9 14-10 14-11 14-10 12-12.5 13.5-12 12-12 11-14 11.5-14 11-14 9.5-15 9.5-15 9-18 9-17.5 8-18.5 7.5-18 6-18 5-20 4.5-20 3-18 2-18 1-20 0-18-1-20-2-20-3.5-18-4-18-5-18-6-19-7.5-18-8-19-9.5-18-10.5-19-12-17-12-18-13.5-16-13.5-16-15-16-16-14.5-16-13.5-16-14-18-12.5-18-11.5-18-12-20-10-19 0-346 8-12 8-11 8-10 10-11.5 10-10 10-9 10-8.5 11.5-9 10.5-7 12-7.5 12.5-7.5 13.5-6.5 14-6.5 14-5.5 14-5z"/>
<path fill="#65cd6e" d="M336 802l9.5-2 198.5 0 28.5 6 28 7 28 9 26 9.5 18 8 16 7.5 16 8.5 15 8.5 15 10 14 10 13.5 10 12.5 11 12 11.5 12 12.5 10 11.5 11 13.5 10 14 9 14 8 14.5 8 15.5 10 22 8 22 0 228.5-2.5 7.5-6.5 16-7 16-8.5 16-9.5 16.5-10 15.5-12 16-11 14-12.5 14-12.5 13-14 13-14 12-15.5 12-14.5 10.5-16 10-16 9.5-16.5 8-17.5 8-18 7-18 6-18.5 5-18.5 4-19 3.5-18 1.5-20 1.5-18.5-0.5-19.5-1-20-2.5-18-3-18-4-19-5.5-19-6-18-7.5-18.5-8.5-19.5-10-18-10.5-18-11.5-16.5-12-17.5-13.5-16-13.5-15.5-15-16-16-14.5-16-13-16-13.5-18-12.5-18-11.5-18-10-18-10.5-20-3-6 0-325 8-13 8-12 10-13 10-11.5 11-11.5 11-10 12-10 13-10 13-8.5 14-8 14-7.5 16-7.5 14-5.5 16-5.5 16-5z"/>
<path fill="#6bcd69" d="M367 802l14.5-2 124 0 19 2.5 20 3.5 20 4 20 4.5 20 5.5 20 6.5 18 6.5 18 7 18 8.5 16 8 16 9 14.5 8.5 14.5 10 13.5 10 13.5 11.5 12 11 12 11.5 10.5 12 11.5 14 10 13.5 8.5 12.5 9.5 16 7.5 14 7 14 6.5 16 6 16 5 16 0 200-7.5 22-8.5 21-7.5 15-8.5 16.5-9.5 15.5-10.5 15.5-11 14.5-12 14-12.5 14-12.5 12.5-14 12.5-14 11.5-15.5 11.5-15 10-15.5 10-16 8.5-16 8-18 7.5-18 7-18 5.5-18 4.5-18 3.5-18 2.5-18 2-18 0.5-20-0.5-18-1-18-2.5-18-3-18-4.5-18-5-18-6.5-18-7-18-8-17.5-9.5-17.5-10-18.5-12-16.5-11.5-16-12.5-16-14-16-14.5-15-15.5-14.5-16-13.5-16-12-16-12.5-18-11.5-18-10.5-18-9.5-18-9-19.5 0-303 8.5-15.5 9.5-14 10.5-14 11.5-14 12-12 14-12.5 14-11.5 14-9.5 16-10 16-8.5 16.5-8 17.5-7 18-6 18-5 18-4z"/>
<path fill="#71cd64" d="M398.5 804l18-1 20-0.5 20 0 20 1 20 1.5 20 2.5 20 3 20 3.5 20 4.5 18 4.5 20 6 18 6.5 18 6.5 18 8 16 7.5 16 8.5 14 8.5 15 9.5 14 10 13 10.5 13.5 11.5 12.5 12 11.5 12 10 12 10.5 13.5 9 12.5 9 14 8 14.5 8 15.5 6 14 6.5 16 5.5 16.5 6 21.5 0 167.5-6 20.5-7 20-8.5 20-10 20-9.5 16-9 14.5-11.5 15.5-11 14-12 14-13.5 14-13 12-14 12-15 12-15 10-15.5 10-15.5 9-16 8-16 7.5-16 6.5-18 6-18 5-18 4-16 3-18 2-16 1-18 0.5-18-0.5-18-1.5-18-2.5-18-3.5-17.5-4.5-16.5-5-18-6-16.5-7-17-8-16.5-8.5-16.5-9.5-15.5-10-17.5-12-15.5-12-16.5-14-14.5-13-14.5-15-13.5-14-13.5-16-12.5-16-11.5-16-11.5-18-11-18-9.5-18-8.5-18-8-18 0-279 5.5-11 6.5-11.5 9-14.5 11-14.5 11-13.5 13-13 14-13 14-11 14-10 16-9.5 16-8.5 18-8.5 18-7 18-6 20-5.5 20-4 20-3.5z"/>
<path fill="#77cc60" d="M428 808l18.5 0 20 0.5 20 1 20 2 20 3 20 3.5 20 4 18 4.5 20 5.5 18 6 17.5 6 16.5 7 18 8 16 8.5 16 8.5 14 9 14 9.5 12.5 9.5 13.5 11 12 11 12 12 11 12 11 14 9 12 9.5 14 8.5 14 7.5 14 7.5 16 6 15 5.5 15 5 16 4 16 3.5 16 0 126.5-3.5 15.5-4 16-4.5 14-6 16.5-7 15.5-6.5 14-8.5 15.5-9 14.5-11 16-10 13.5-12 14.5-11 12-13 13-14 12.5-14 11.5-14 10.5-15.5 10.5-14.5 9-16 9-16 7.5-16 7-16 6-18 5.5-16 4.5-18 3.5-16 2.5-16 2-18 1-16 0-18-0.5-18-2-16-2.5-18-3.5-16-4-16-5-18-6-18-7.5-16-7.5-16-8.5-16-9.5-16-10.5-16-11-14.5-11.5-15.5-13-14-13-14-14-14-14.5-13-15.5-12.5-16-11.5-16-10.5-16-10-16-8.5-16-9-18-8-18-7-17.5 0-253 6-13 6-11.5 6-11 8-12 10-14 12-14 13.5-14 13.5-12 15-11.5 14-10 16-9.5 17-9 18-8 19-7 18-5.5 20-5 20-4 20-3 22-2z"/>
<path fill="#7dcc5b" d="M422.5 814l18-0.5 20 0.5 18 1 20 1.5 20 2.5 20 3 20 4 18 4 18 5 18 5.5 18 6.5 18 7 18 8 16 7.5 15.5 8.5 14.5 9 14 9 14 10 12 10 12 10.5 12 11.5 11.5 12 10.5 12.5 10 13 9 12.5 8.5 14 8 14 7 14 6 14 6.5 16 5.5 16 4.5 16 3 14 2.5 12 2 14 1.5 13.5 0 63-2.5 19.5-3.5 18-3.5 16-4.5 16-6 16-6 15.5-7 14.5-8 16-8.5 14-10.5 16-10 14-11.5 14-10.5 12-12 12.5-14 13-14 12-14 10.5-14 10-16 10-14 8-16 8.5-16 7-17 6.5-17 6-16 4.5-17 3.5-17 3-18 2.5-18 1-18 0-16-0.5-18-1.5-18-3-17-3.5-17-4-18-5.5-17-6.5-17-7-18-8.5-16-8.5-16-10-16-10.5-16-11.5-16-12.5-15-13.5-14.5-14-14-14-12.5-14-13-16-12-16-11-16-10-16-10.5-18-9.5-18-8-18-7.5-18-6.5-18.5 0-224.5 6-15 8-16 9-16 9-14 10.5-14 11.5-13 12.5-13 13.5-12 14-11 14-9.5 15.5-9.5 15.5-8 17-7.5 16-6.5 18.5-6 19.5-5 18-4 20-3 20-2.5z"/>
<path fill="#84cc56" d="M419 820l19.5-0.5 18 0 18 1 20 1.5 20 2 18 3 20 3.5 18 4 18 5 18 5 18 6.5 18 6.5 18 8 16 7.5 16 8.5 14 8.5 14 9 13 9 13 10.5 12 10 12 11.5 11.5 12 10.5 12 10 12.5 9.5 13.5 8.5 13.5 8 13.5 7.5 15 6.5 14 6 15 5 15 5 16 3.5 16 3 16 2.5 16 1.5 18 0.5 18-0.5 16-1 16-1.5 16-3 16-3.5 16-4 16-5.5 16.5-6 15.5-7 16-8 16-8.5 14-8.5 14-10 14-11 14-12 14-11.5 12-12.5 12-13.5 12-13.5 10.5-14 10.5-14 9-16 9.5-16 8.5-16 7.5-16 6.5-16 5.5-16 4.5-18 4.5-18 3.5-18 2-18 1.5-18 0-18-0.5-18-2-18-2.5-18-3.5-18-5-18-5.5-16-6-18-7.5-16-8-16-9-18-10.5-16.5-11.5-16-12-15.5-12.5-14.5-13.5-14.5-14-15-16-13.5-16-12.5-16-11.5-16-12-18-10.5-18-9.5-18-8.5-18-7.5-18-6.5-18-6-19.5 0-191.5 3.5-11 4-10 4.5-10 4.5-10 5.5-10 5.5-10 6.5-9.5 6-8.5 10-13 11.5-13 12-12 11.5-10 13-10 14-9.5 14-8.5 16-8.5 16-7 16-6.5 18-6 18-5 18-3.5 20-3.5 20-2.5z"/>
<path fill="#8acb52" d="M417 826l19.5-0.5 18 0 18 0.5 20 1.5 20 2.5 18 2.5 20 3.5 18 4 18 5 18 5 18 6 16 6.5 18 7.5 16 7.5 16 8.5 14 8 14 9.5 12.5 8.5 13.5 10.5 12 10.5 12 11 11.5 12 10.5 12 9.5 12 9 12 9 14 7 12 7.5 14.5 6.5 13.5 6.5 16 5 14.5 4.5 15.5 4 16 3.5 16 2 16 2 18 0.5 18 0 16-1 16-2 16-2.5 16-3.5 16-4.5 16-5 16-6 15.5-6.5 14.5-7.5 15.5-8 14-9.5 14.5-9.5 14-11 14-10 12-13.5 14-12.5 12-13.5 12-12.5 10-14 10-14 9.5-14.5 8.5-15.5 8.5-16 7.5-15.5 6-16.5 6-16 5-16 4-18 3.5-18 2-18 1.5-18 0.5-18-0.5-18-1.5-18-2.5-18-4-16-4-18-5.5-18-6.5-18-7.5-16.5-8.5-17.5-9.5-16-9.5-16-11-15.5-12-15-12-15.5-14-14.5-14-15-16-13.5-16-12.5-16-11-16-11.5-18-10.5-18-9.5-18-8.5-18-7-18-6.5-18-6-19.5-4-16 0-152 4-14.5 4-12 4.5-12 5-12 6-12 6.5-12 7.5-12 7-10 9.5-12 10.5-12 11.5-11.5 12-10.5 12.5-10 14-10 13.5-8 16-8.5 16-7.5 16-6 16-5.5 18-5 18-4 18-3 20-3z"/>
<path fill="#90ca4d" d="M416 832l18.5-0.5 18 0 18 0.5 18 1 18 2 20 2.5 18 3.5 18 3.5 18 4.5 18 5.5 18 5.5 16 6 18 7.5 16 7.5 16 8.5 14 8 14 9 14 9.5 13.5 10 11.5 10 11 10 12 12 10 11.5 10 12.5 9 12 9 13.5 8 13.5 7 13 6.5 14 6 14 5 14 5 16 4 16 3.5 16 2.5 16 1.5 16 1 18 0 16-1 16-1.5 16-2.5 16-3.5 16-3.5 14-5 16-5 14-7 16-7 14.5-8.5 15.5-8.5 14-9.5 14-11 14-10.5 13-12 13-12 11.5-12 11-14 11.5-14 10-14 9.5-14.5 8.5-14.5 8-15 7.5-16 6.5-16 6-16 5-16 4-18 4-18 2.5-18 1.5-18 0.5-18-0.5-16-1.5-18-2-16.5-3.5-17.5-4-18-5.5-18-6.5-18-7.5-16-7.5-16.5-9-16.5-10-15-10-16.5-12-15.5-12.5-15-13.5-14.5-14-13.5-14-13.5-16-13-16-11.5-16-11.5-18-9.5-16-9.5-18-8.5-18-7.5-18-6.5-18-5.5-18-3.5-12-2.5-12-2.5-12-2-11.5 0-97 3-17.5 4-16 5-16 5-14 7-15.5 7.5-14.5 8.5-14 8-12 10-13 10-11.5 12-12 12-10.5 12-9.5 14-10 14-8.5 14-7.5 16-7.5 15-6 17-5.5 16-4.5 18-4.5 18-3 18-2.5z"/>
<path fill="#96ca48" d="M416 838l16.5-0.5 18-0.5 18 0.5 18 1 18 2 20 3 18 3 18 3.5 18 4.5 18 5.5 18 6 16 5.5 16 7 16 7.5 16 8 14.5 8 13.5 8.5 13.5 9.5 12.5 9.5 12 10 12 10.5 10 10.5 11 11.5 9.5 12 9 12 8.5 12.5 8.5 13.5 7.5 14 6.5 14 6 14 5.5 14.5 5 15.5 4 16 3.5 16 2.5 16 1.5 16 0.5 16 0.5 16-1 16-1.5 16-2.5 16-3.5 16-4 16-4.5 14-6 16-6 14-6.5 14-8 14.5-8.5 13.5-9.5 14.5-10.5 13.5-11.5 14-11.5 12-12 12-12.5 11.5-13.5 10.5-13.5 10-15 10-14 8.5-14 7.5-14 7-16 6.5-16 6-15.5 4.5-16.5 4.5-18 3.5-16.5 2-17.5 1.5-16 1-18-0.5-18-1.5-18-2.5-18-3.5-16-3.5-16-5-18-6.5-18-7.5-16-7.5-16-8.5-16-9.5-16-11-15.5-11.5-15-12-15.5-13.5-14.5-14.5-13.5-14-12-14-12.5-16-11.5-16-11-16-9.5-16-9.5-18-8.5-18-7.5-18-7-18-5.5-18-4-16-4-18-3-18-2-18-1-18 0.5-18 1-18 1.5-16 3-16 3.5-16 4.5-16 6-16 5.5-14 7-14 8-14 9.5-14 9-12 10-12 11.5-11.5 12-11 12-9.5 14-10 14-8.5 14-8 16-7.5 14.5-6 17.5-6 16-4.5 16-3.5 18-3.5 18-2.5z"/>
<path fill="#9cc944" d="M416.5 844l18-0.5 18-0.5 18 0.5 18 1.5 18 1.5 18 2.5 18 3.5 18 3.5 18 5 16 4.5 18 6 16 6 16 6.5 16 7.5 16 8 14 8 13.5 8.5 12.5 9 12.5 9 12 10 11 10 10.5 10.5 10.5 11.5 10 12 9 12 8.5 12.5 8.5 13.5 7.5 14 6.5 14 6 14 5.5 14 4 14 4 14.5 3.5 15.5 2.5 16 1.5 16 1 16 0 16-0.5 16-1.5 16-2.5 15.5-3 14.5-4 16-4 14-6 16-6 14-6.5 14-7.5 14-8.5 14-9.5 14-10.5 14-10 12-11 12-12 12-13.5 12-12 10-13.5 10-14.5 10-14 8.5-14 7.5-16 8-14 6-16 6-14 4.5-16 4-18 3.5-16 2.5-18 2-16 0.5-18 0-16-1.5-18-2-18-3-16-4-16-4.5-18-6.5-18-7-16-7.5-16-8.5-16-9.5-16.5-11-15.5-11-15.5-13-14-12-14.5-14-13-14-13-14.5-12-15.5-11.5-16-10.5-16-10-16-9.5-18-8.5-17.5-7-16.5-6.5-18-5.5-18-5-18-3.5-18-2.5-16-2-18-1-18 0-16 1-18 1.5-16 3-16 3.5-16 4.5-16 5.5-15.5 6-14.5 7-14 8-14 9-13.5 9.5-12.5 10-12 10.5-10.5 12-11 12-9.5 12.5-9 13.5-8.5 14-7.5 14-7 16-6.5 16-5.5 16-5 18-4.5 18-3 18-2.5z"/>
<path fill="#a2c83f" d="M418 850l16.5-0.5 18-0.5 16 0.5 18 1 18 2 18 2.5 18 3 18 4 17.5 4 16.5 5 18 6 16 6 16 6.5 14 6.5 16 8 14 8.5 14 8.5 13.5 9 12.5 10 12 10 11.5 10 10.5 11 10 11 10 12 9 12 8 12 7.5 12 7.5 14.5 6.5 13.5 6 14 5 14 4.5 14 4 16 3 14 2.5 16 1.5 16 1 16 0 16-1 16-1.5 14-2.5 16-3 14-4 16-4.5 14-5 14-6 14-6.5 14-8 14.5-8.5 13.5-9.5 14-10 13.5-10 12-10 11-12 12-12 11-13 10.5-13.5 10-13.5 9.5-14 8.5-14 7.5-14 7-16 6.5-14 5.5-16 5-16 4-16 3.5-18 2.5-16 1.5-16 0.5-18 0-18-1.5-16-2-18-3-16-4-17-5-17-6-16-6.5-16-7.5-16-8-16-9.5-16-10.5-16-12-14-11-14-12.5-13-12.5-13.5-14-12-14-13-16-11.5-16-10.5-16-9.5-16-9-16-8-16.5-7.5-17.5-6.5-18-6-18-4-16-4-18-3-18-1.5-16-1-18 0-16 0.5-18 2-16 2.5-16 3.5-16 4.5-16 5-14 6.5-16 7-14 8-13.5 8-12.5 9-12 10-12 11-11 11.5-11 12.5-10 12-8.5 14-9 14-7.5 14-7 16-6.5 16-5.5 16-4.5 16-4 18-3 18-2.5z"/>
<path fill="#a8c73b" d="M420 856l16.5-0.5 18-0.5 16 0.5 18 1.5 18 1.5 18 3 16.5 2.5 17.5 4 16.5 4 17.5 5.5 16 5 16 6 16 7 15 6.5 15 8 14 8 14 9 12 8 12 9.5 12 10 11 9.5 11 11.5 10 11 10 12 8.5 11.5 8.5 12 7 12 8 14.5 6.5 13.5 6 14 5 14 4 14 4 16 3 14 2 14 2 16 0.5 16 0 14-1 16-1 14-2.5 16-3 14-3.5 14-5 16-5 14-6 14-7 14-7.5 14-8.5 14-9 13-10 13-10 12-11 12-11 11-12 11-12.5 10-13.5 10-12 8.5-14 8.5-14 7.5-15.5 7.5-14.5 6-16 6-14 4.5-16 4-16 3.5-16 2-18 2-16 0.5-16-0.5-18-1-16-2-16-3-16-4-18-5-16-5.5-16-6.5-16-7.5-16-8.5-16-9.5-16-10.5-15-11-14.5-12-14-12-14.5-14-12-12.5-12-14-12-15.5-11.5-16-10.5-15.5-9.5-16.5-8.5-16-8-16-7.5-18-6.5-18-5-16-4.5-18-3.5-16-3-18-1.5-16-1-18 0-16 1-16 2-16 2.5-16 3.5-16 4.5-16 5-14 6-14 7-14 8-14 8-12 9-12 10-11.5 10-10.5 12-11 12-9.5 13-9.5 13-8 14-8 14-6.5 14-5.5 16-6 16-4.5 16-4 18-3 18-2.5z"/>
<path fill="#adc637" d="M423 862l17.5-0.5 16 0 16 0.5 18 1 16 2 18 2.5 16 3 18 3.5 18 5 16 4.5 16 5.5 16 6 16 7 14 6.5 14 7.5 14 8 13 8 13 9.5 12 9 11.5 9.5 10.5 9.5 10.5 10.5 9.5 10.5 10 12.5 8.5 11 8 12 7.5 12.5 7.5 13.5 6.5 14 5 12 5.5 14 4 14 4 14 3 16 2.5 16 1.5 14 0.5 14 0 16-0.5 16-1.5 14-2.5 14-3 16-4 14-4 14-5.5 14-6 14-6.5 14-8 14-8.5 14-8 12-9.5 12-10.5 13-10.5 11-11.5 12-11.5 10-12.5 10.5-13.5 9.5-12.5 8.5-14 8.5-14 7.5-14 7-14 6-14 5-16 5-16 4-16 3-16 2.5-18 1.5-16 0.5-18-0.5-16-1-16-2.5-16-3-16-4-16-4.5-16-5.5-16-7-16-7.5-16-8.5-15-9-15-10-14-10-14.5-12-13.5-12-12.5-12-13.5-14-12-14-13-16-11-15.5-10-15-10-17-8-15.5-8-17-6.5-16-6-16-5.5-18-4-16-4-18-2.5-16-1.5-16-1-18 0-16 1-16 2-16 2.5-16 3-14 4.5-15 5.5-15 5.5-14 7-14 8-13.5 8-12.5 9-12 9-10 11-12 11-10 12-9.5 12-8.5 14-9 14-7.5 14-6.5 16-6.5 14-5 16-4.5 16-3.5 18-3.5 16-2z"/>
<path fill="#b3c534" d="M427 868l15.5-0.5 16 0 16 0.5 18 1.5 18 2 16 2.5 18 3.5 16 3.5 16 4 16 5 16 5.5 16 6 15 6.5 15 7.5 14 7.5 14 8 12 8 13 9 11 8.5 12 10.5 12 11 10 10 8.5 10 9.5 12 8 11 8 12 8 13 6 12 6 12.5 5.5 13.5 5 14 4.5 14 3.5 14 2.5 14 2 14 1.5 16 1 16-0.5 14-1 16-1.5 14-2.5 15-3.5 15-3.5 14-5 14-5 14-6.5 14-6.5 13.5-7.5 12.5-8.5 14-8.5 12-9.5 12-10.5 12-11 12-10.5 10-11.5 10-12.5 10-13.5 10-12.5 8-13.5 8-12.5 6.5-14 7-14 5.5-14.5 5-15.5 5-16 4-16 3-16 2-16 1-16 0.5-18-0.5-16-1.5-16-2-16-3.5-16-4-16-5-16-5.5-16-7-14-6.5-16-9-14.5-9-15-10-14.5-10.5-14-11.5-14-12.5-13.5-13.5-12.5-13.5-12-14.5-11-14-10-14-10-16-9.5-16-8-16-7.5-16-6.5-16-6-16-5-18-4.5-17.5-3-16.5-2.5-16-1.5-16-0.5-16 0-16 1-16 2-16 3-16 3.5-14 5-16 5-14 6-13.5 6.5-12.5 7.5-13 8.5-13 9.5-12 10-11 10.5-11 11.5-10 12-9 12-8.5 12-7 14-7.5 14-6.5 14-5.5 16-5.5 16-4.5 16-3.5 16-2.5 18-2.5z"/>
<path fill="#b9c431" d="M432.5 874l16 0 16 0 16 0.5 18 2 16 2 18 2.5 16 3.5 16 4 16 4 16 5.5 16 5.5 14 5.5 14 6.5 14 7 14 7.5 14 8.5 12 8 12 8.5 12 9.5 11 9.5 11 10.5 10 10.5 9.5 11 8.5 11 8 11.5 8 12.5 7.5 13 6.5 12 6 14 4.5 12 4.5 12 4 14 3 14 2.5 14 2 14 1.5 16 0.5 16-0.5 14-1 14-2 14-2.5 14-3 14-4 14-5 14-5.5 14-6 14-7 13.5-7.5 12.5-7.5 12-9 12.5-9 11.5-11 12.5-11 11.5-11 10-11.5 10-12.5 10-12 8.5-14 9-12 7-14 7-14 6.5-14 5.5-14 5-14 4-16 3.5-16 3-16 2-16 1-16 0-16-0.5-16-1.5-16-2.5-16-3.5-15-4-15-4.5-16-6-16-7-14-6.5-14-8-16.5-10-14.5-10-13-10-15-12-13-12-12-12-13-14-11.5-14-11-14-10.5-15-9.5-15-9-16-8.5-16-7-16-6.5-16-5.5-16-5-18-4-16-3-16-2-16-1.5-16-0.5-16 0-16 1.5-16 2-16 3-16 3.5-14 4.5-14 5.5-14 6.5-14 7-14 7.5-12 8.5-12 8.5-10.5 10-11.5 10-10 12-10 12-9 12-8 12-7.5 14-7 14-6.5 15.5-6 14.5-4.5 16-4 16-3.5 16-2.5 16-2z"/>
<path fill="#bec32e" d="M442 880l16.5 0 16 0.5 16 1.5 16 1.5 16 2.5 16 2.5 16 3.5 16 4.5 16 4.5 16 5.5 15 5.5 15 6.5 14 7 14 7 13 7.5 13 8.5 12 8.5 12 9 10 8.5 10.5 9.5 10 10 9.5 10.5 10 11.5 8 11 7.5 11 7.5 12 7 13.5 6 12.5 5 12 5.5 14 3.5 12 3.5 14 3 14 2.5 14 1.5 14 0.5 14 0 16-0.5 14-1.5 14-2 14-3 14-3.5 14-4.5 14-4.5 12-5.5 13.5-6 12.5-7.5 14-7.5 12-8 12-9 12-10 12-10 11.5-11 10.5-11 10-12 10-12 9-13.5 9-12.5 8-12 6.5-14 7-14 6-14 5-14 4.5-14 3.5-16 3.5-15 2-15 1.5-16 1-16 0-16-1-16-2-16-3-16-3.5-16-4.5-16-5.5-14-6-15.5-7-15-8-14-8-15-10-14.5-10-14-11-14-12.5-12-11.5-12-13-12.5-14-11-14-10-14-9.5-14-9.5-16-8.5-16-7.5-16-6.5-16-6-16-5-16-4-16-3.5-16-2.5-16-1.5-16-1-16 0-16 1-16 2-16 2-14 3.5-14 4-14 5-14 5.5-14 7-14 7-12 8-12 9-12 8.5-10 10-10 10.5-10 12.5-10 11-8 12.5-8 13.5-7 14-6.5 14-6 14-5 14-4 16-3.5 16-3 16-2.5 16-1.5z"/>
<path fill="#c3c22b" d="M417 888l15.5-1 14-0.5 16 0 16 0.5 16 1.5 16 2 16 2.5 16 3 16 3.5 16 4.5 16 5 14 5 16 6 13.5 6 14.5 7.5 12.5 6.5 13.5 8 12 8 11.5 8 10.5 8.5 11.5 9.5 10.5 10 10 10 8.5 10 9.5 12 7.5 10 8 12 7 12 6.5 12 5.5 12 5.5 14 4.5 12 4 14 3.5 14 2.5 14 2 14 1 14 0.5 14-0.5 14-0.5 14-2 14-2.5 14-3 14-3.5 13-4.5 13-5.5 14-6 14-6 11.5-7 12.5-8 12-8 12-9.5 12-9.5 11-10.5 11-10.5 10-11 10-12 9.5-12 8.5-12 8-12 7-14 7-13 6-13 5.5-14 5-14 4-16 4-16 3-16 2-14 1-16 0.5-16-0.5-16-1.5-16-2.5-16-3.5-16-4-14-4.5-16-6-14-6-14-7-14-7.5-14-8.5-14-9.5-14-10.5-14-11.5-13-12-12-12-11-12-12-14-11-14-9.5-14-9.5-14.5-8.5-15.5-7.5-14-7.5-16-6-16-6-16-4.5-16-4-16-2.5-14-2.5-16-1.5-16-0.5-16 0.5-16 1-14 2-16 2.5-14 3.5-14 4-14 5-14 6.5-14 6-12 8-13 8-12 8.5-11 9.5-10.5 10-10 10.5-9.5 11.5-8.5 12-8.5 12-7 14-7.5 14-6.5 14-5 14-5 15-4 15-3 16-3z"/>
<path fill="#c8c129" d="M423 894l15.5-1 14 0 16 0 16 1 16 1.5 16 2 15 2.5 15 3.5 16 3.5 14 4 15.5 5 14.5 5.5 16 6.5 13.5 6 12.5 6.5 14 8 13 7.5 11.5 8 11.5 8.5 12 9.5 10 9 10 10 8.5 9 9.5 11 8 10.5 8 11.5 7.5 11 6.5 12 6 12 5.5 12 4.5 12 5 14 3 12 3.5 14 2.5 14 1.5 14 1 14 0 14-0.5 14-1 12-1.5 14-2.5 14-3 12-4 14-4 12-5.5 14-6.5 14-6.5 12-7 12-8.5 13-8 11-10 12-10 11.5-10 10.5-10 9-10.5 9-11.5 9-12 8.5-12 7.5-13 7-11.5 6-13.5 6.5-14 5.5-14 4.5-14 4-16 3.5-14 2.5-16 1.5-14 1-16 0-16-0.5-16-2-14.5-2.5-15.5-3-16-4.5-14-4.5-14-5.5-14.5-6.5-15.5-7.5-14-8-14-9-13.5-9.5-13-10-13.5-11-12-11-12-12.5-12-13-10-12.5-10.5-14-9.5-14-10-16-8-14-7-14-7-16-6-16-5.5-16-4.5-16-3.5-16-2.5-15-2-15-1-16-0.5-14 1-16 1-14 2.5-16 2.5-14 4-14 4.5-14 5.5-14 5.5-12 6.5-12 7.5-12 8.5-12 8.5-10 9-10 10.5-10 10.5-9 12-9 12-7.5 12-7 12-6 14-6.5 14-5 14-4.5 14-3.5 16-3.5 16-2.5z"/>
<path fill="#cdc027" d="M431.5 900l15-0.5 16 0 14 0.5 16 1 16 2 16 2.5 14.5 2.5 15.5 3.5 16 4.5 14 4.5 14 4.5 14 5.5 14 6.5 14 6.5 12.5 6.5 13.5 8 12 8 12 8.5 12 9.5 9.5 8 8.5 8 10 10 9 10 9 11 8 11 7 10 7 12 6 11.5 6 12.5 5 12 4.5 12 3.5 12 3.5 12 2.5 14 2.5 14 1 14 1 14-0.5 14-0.5 14-1.5 12-2 14-2.5 12-4 14-3.5 12-5 13-5.5 13-6 12-6.5 12-7.5 12-8 12-8.5 11-9 11-11 12-10 9.5-10 9-12 9.5-10.5 8-12 8-13.5 8-12 6.5-12 6-14 5.5-12 4.5-14 4.5-14 3.5-16 3-16 2-14 1.5-14 0.5-16-0.5-14-1-16-2-16-3-14-3.5-14-4-14.5-5.5-15-6-13-6-15-8-13.5-8-13-8.5-14-10-12-9.5-13.5-12-12.5-12-11.5-12-10.5-12-11-14-10-14-9-14-8.5-14-7.5-14.5-7.5-15.5-6.5-16-5.5-16-4.5-14-4-16-3-14-2-16-1.5-14-1-16 0-14 1-16 1.5-14 2.5-14 3-14 4-14 5-14 5.5-12 5.5-12 7-12 8-12 7.5-10 9-10.5 10-10.5 10-9 10-8 12-9 12-7.5 12-6.5 12-6 14-5.5 14-5 14.5-4.5 15.5-3.5 14-2.5 16-2.5z"/>
<path fill="#d2bf27" d="M445.5 906l15 0 14 0.5 14 1 16 1.5 16 2.5 14 2.5 16 3.5 14 3.5 16 5 14 4.5 14 5.5 14 6 13 6 13 7 12 7 12 7.5 12 8.5 10.5 8 9.5 8 11 10 10 10 9 10 8 9.5 8 10.5 6.5 10 7.5 12 6 11 6 12 5.5 13 4.5 12 3.5 12 3.5 12 3 14 1.5 12 1.5 12 1 14 0 14-1 14-1 12.5-2 13.5-2.5 12-3.5 14-4 13-5 13-5 12-5.5 12-7 12-7 12-8.5 12-7.5 10-8.5 10.5-10 11-10 10-10 9-11.5 9.5-10.5 8-12 8-12 7.5-12 6.5-12 6-14 6-12 4.5-12 3.5-14 4-14 3-14 2-14 1.5-16 1-14 0-16-1-16-2-14-2.5-16-3.5-14-4-14-4.5-14-5.5-14-6.5-14-7-14-8.5-13-8.5-14-10-13-10-12-10.5-12-11-11.5-12.5-10.5-12-10-12-10-13.5-9.5-14.5-8.5-14-7.5-14-7-14-6-14-6-16-4.5-14-4-16-3-14-3-16-1.5-16-1-14 0-16 0.5-14 1.5-14 2-14 3-14 4-14 4.5-12.5 5.5-13.5 5.5-12 7-12 7.5-12 7.5-10 8.5-10 9.5-10 10.5-10 10-8 11-8 11.5-7.5 12-6.5 12-6 14-6 14-5 14-4 14-3.5 14-2.5 16-2.5 16-1.5z"/>
<path fill="#d7be28" d="M425 914l13.5-1 14 0 14 0 16 0.5 14 1.5 16 2 16 2.5 14 3 14 3 14 4 14 4.5 14 5 12.5 5 13.5 6 14 7 12.5 7 11.5 7 12 8 12 9 10 8 10 8.5 10 9.5 8 8.5 8.5 9.5 8 10 7.5 10.5 7.5 11.5 6.5 11 5.5 11 6 12 4.5 12 4.5 12 3.5 13 3 13 2.5 14 1.5 12 1 12 0.5 14-0.5 14-1 12-1.5 12-2.5 14-3 13.5-3.5 12.5-4.5 12-4.5 12-5.5 12-6 11.5-6 10.5-8 12-8 11.5-8.5 10.5-8.5 10-9.5 10-9.5 9-10.5 9-10 8-11.5 8.5-12 7.5-12 7-12 6.5-12 5.5-13 5-13 4.5-14 4-15 3.5-15 3-14 1.5-14 1-14 0-16-0.5-14-1.5-14-2-14-3-14-3.5-15-5-13-4.5-14-6-14-7-14-7.5-14-9-12-8-13-10-12-10-11-10-12-12-11-12-10-12-9.5-12-9.5-14-9-14-8-14-7-14-6.5-14-5.5-14-5.5-16-4.5-15-3.5-15-2.5-14-2-14-1.5-16-0.5-14 0.5-14 1-14 2-14 2.5-14 3.5-14 4.5-14 4.5-12 5.5-12 6-12 7.5-12 8.5-12 8-10 9-10 9-8.5 10-8.5 11.5-9 10.5-7 11.5-7 12.5-6 12-5.5 12-4.5 14-4.5 14-4 14-3 16-2.5z"/>
<path fill="#dbbd29" d="M436.5 920l14-0.5 14 0 14 0.5 14 1 14 1.5 16 2.5 14 3 14 3 14 4 14 4 14 5 14 5.5 14 6 12 6 12 6.5 12 7 11 7 11 8 10 8 10 8 10 9.5 8.5 8.5 9 10 8.5 10.5 8 10.5 7.5 11 6.5 11.5 5.5 10.5 5 10 5 12 4.5 12 3.5 12 3 12 2.5 12 2 12 1 14 0.5 12 0 14-0.5 12-1.5 14-2.5 14-2.5 12-3.5 12-4 12-4.5 12-5 12-6 12-6 10-6.5 11-8 11-7.5 10-8.5 10.5-9 9.5-10 10-11 10-10 8-11.5 8-10.5 7-11.5 7-11.5 6-11 5.5-12 5-12 4.5-14 4.5-14 3.5-14 2.5-14 2-14 1.5-14 0.5-14-0.5-14-1-14-1.5-14-2.5-14-3-14-4-14-5-14-5.5-13.5-6.5-12.5-6-14-8.5-12-7.5-13.5-10-12.5-9.5-11.5-10.5-10.5-10-11.5-12-10.5-12-10-12-10-14-8-12-8.5-14-7.5-14-6.5-14-6-14-5.5-15-4.5-15-3.5-14-3.5-16-2-14-1.5-14-0.5-14 0-14 0.5-14 1.5-14 2.5-14 3-13.5 3.5-12.5 4.5-12.5 5.5-13.5 6-12 6.5-10.5 7.5-11.5 7.5-10 8.5-10 8.5-8.5 10-9.5 10-8 11.5-8 10.5-6.5 12-6.5 12-6 12-5 14-4.5 14-4 14-3.5 14-2.5 14-2z"/>
<path fill="#e0bc2a" d="M424.5 928l14-1 14-0.5 14 0 14 0.5 14 1 14 2 14 2 14 2.5 14 3.5 14 4 14 4 14 5 12.5 5 13.5 6 12 6 12 6.5 12 7.5 10 6.5 11 7.5 11 9 10 8.5 9.5 8.5 8.5 9 8 9 8 10 7.5 10 6.5 10 6 10 6 11 5.5 11 5 12 4 12 4 12 2.5 12 2.5 12 2 12 1 12 0.5 12 0 12-1 14-1.5 14-2 12-2.5 12-3.5 12-4 12-4.5 12-5.5 12-5 10-5.5 10.5-7.5 11.5-6.5 10-8 10.5-8 9.5-9.5 10-10 10-9 8-10 8-11 8-10.5 7.5-12 7-10.5 5.5-12.5 6-13 5.5-12 4.5-14 4-12 3-14 3-14 1.5-14 1.5-14 0.5-14-0.5-14-1-14-2-14-2.5-14-3.5-13-4-13-4.5-14-5.5-12.5-6-13.5-7-14-8.5-12-7.5-12-9-12.5-10-11-10-10.5-10-11.5-12-10-12-9.5-12-8.5-12-8.5-12.5-8-13.5-7.5-14-6.5-14-5.5-14-5-14-4.5-14-3.5-14-3-14-2-14-1.5-14-0.5-14 0-14 0.5-14 1.5-14 2.5-12 3-14 3.5-12 4-12 5-12 6-12 7-12 6.5-10 8-10.5 8-9.5 9.5-10 9-8 10-8 11-8 10.5-6.5 12-6.5 12-5.5 13-5.5 13-4.5 14-4 14-3 14-2.5z"/>
<path fill="#e4bb2c" d="M437.5 934l13-0.5 14 0 14 0.5 14 1 12 1 14 2.5 14 2.5 14 3 14 3.5 14 4.5 12 4 14 5.5 12 5.5 12 5.5 12 6.5 12 7 12 8 10 7 10 7.5 10 8.5 10 9 8 8.5 8 9 8 9.5 7 9 7 11 6 9.5 6.5 11.5 5.5 12 4.5 10 3.5 10.5 4 11.5 3 12 2.5 12 1.5 12 1.5 12 0.5 12 0 12-0.5 12-1 12-2 12-2.5 12-3 12-3.5 12-4.5 12-5 12-5 10-6.5 12-7.5 12-7 10-7.5 10-8.5 10-9 10-8 8-10 9-10 8-10 7.5-11.5 7.5-10.5 6.5-10.5 5.5-11.5 6-12 5-12 4.5-12 3.5-12 3-14 3-14 2-14 1.5-14 0.5-14 0-12-1-14-1.5-14-2.5-14-3.5-14-4-12-4-12-4.5-14-6.5-14-7-12-7-12-8-12-8.5-11.5-9-11.5-10-10.5-10-10.5-10.5-10-11.5-10-12-8.5-12-8-12-7.5-12-8-14.5-6.5-13.5-6-14-5-14-4.5-14-4-14-3-14-2-14-1.5-14-1-14 0-14 0.5-14 1.5-12 2-14 3-12 3-12 4.5-12 4.5-12 6-12 6.5-11.5 7-10.5 7-10 8-9 8-9 10-9 10-8 10-7.5 10-6.5 12-6.5 12-6 12-5 12-4 14-4.5 12.5-3 13.5-2.5 14-2z"/>
<path fill="#e8bb2f" d="M428.5 942l12-1 14-0.5 12 0 14 0.5 14 1 14 2 14 2 12 2.5 14 3 14 4 14 4.5 11.5 4 12.5 5 12 5.5 12 6 12 6.5 12 7 10 7 10 7 10 8 9.5 8 8.5 8 8 8.5 9 9.5 8 10 7 10 6 9 6 10 6 11 4.5 10 4.5 10 4 12 3.5 10 3 12 2 12 2 12 1 12 0.5 12 0 12-0.5 12-1.5 12-2 12-2.5 12-3.5 12-3 10-4.5 12-5.5 12-5 10-6.5 12-6.5 10-7 10-8 10-7 8.5-9 9.5-9 9-10 9-10 8-10 7-11 7-10 6-11.5 6-11.5 5.5-11.5 4.5-10.5 4-14 4-12 3-14 2.5-12 1.5-12 1-14 0.5-14 0-14-1.5-12-1.5-14-2.5-12-3-14-4-14-5-12.5-5-12.5-6-13-6.5-12-7.5-12-8-12-8.5-11.5-9.5-11.5-10-10-10-9.5-10-10.5-12-9.5-12-8.5-12-7.5-12-7.5-12.5-7-13.5-5.5-12-6-14-5-14-4-14-3-12-3-14-2-14-1-14-1-14 0.5-14 0.5-12 2-14 2-12 3-12 3.5-12 4.5-12 5-12 6.5-12 5.5-10 7-10 7.5-9.5 8-9 8-8.5 8-7 10-8 11-8 11-6.5 10-5.5 12-6 12-4.5 14-5 12-3 14-3.5 12-2z"/>
<path fill="#ecba32" d="M445.5 948l13 0 14 0 12 0.5 14 1.5 14 1.5 12 2 12.5 2.5 13.5 3.5 14 4 12 4 12 4.5 12 5 12 5.5 12 6 10.5 5.5 11.5 7.5 10 6.5 10 7.5 8.5 6.5 9.5 8.5 10 9.5 8 8 8 9.5 7 8.5 7 10 6 9.5 6 10 5.5 10.5 4.5 10 4 10 4 11.5 3 10.5 3 12 2 10.5 1.5 11.5 1 12 0.5 12 0 12-1 12-1.5 12-2 12-3 12-3.5 12-3.5 10-4.5 11.5-5 10.5-5 10-6 10-6.5 10-7.5 11-7.5 9-8.5 10-8 8-8.5 8-9 8-10 8-10.5 7.5-10.5 6.5-10.5 6-11 5.5-10 4.5-12 5-10 3.5-12 3.5-12 3-14 2.5-12 1.5-14 1-12 0-14-0.5-14-1-12-1.5-13.5-3-12.5-3-14-4-12-4.5-12-5-12-5.5-12-6.5-12-7.5-12-8-11-8-11-8.5-10-9.5-10.5-10-11.5-12-8.5-10-9-12-8.5-12-8-12-7-12-7-13.5-6-13.5-5-13-5-13.5-3.5-12.5-3-12-3-14-2-14-1-12-0.5-14 0-12 1-14 1.5-12 2.5-12 2.5-12 3.5-12 4.5-12 5.5-12 5-10 6-10 7-10.5 8-10.5 8-9 8-8 9-8 9-7 10-7 10-6 12-6.5 12-5.5 12-4.5 12-4 12-3.5 12-2.5 14-2.5 14-2z"/>
<path fill="#f0ba36" d="M437.5 956l13-0.5 12-0.5 12 0.5 14 0.5 14 1.5 12 1.5 12 2.5 12 2.5 14 3.5 12 3.5 12 4 12 4.5 12 5 12 5.5 11.5 6 10.5 6 10 6.5 10 7 10 7.5 9 7 9 8 8 8 8 8.5 8 9.5 6.5 8 7 10 6.5 10 5.5 10 5 10 4.5 10 4 10 3.5 10 3.5 12 2 10 2 10 1.5 12 1 10 0.5 12-0.5 12-1 12-1.5 12-2 11.5-2.5 10.5-3.5 12-4 11.5-4.5 10.5-4.5 10-5.5 10-5.5 10-6.5 10-7.5 10-6.5 8-7.5 9-9 9-8.5 8-9.5 8-9 7-10 7-10 6.5-10 6-11.5 5.5-10.5 5-10 3.5-12 4.5-12 3-12 3-12 2-14 1.5-12 1-14 0-14-0.5-12-1.5-12-1.5-14-3-12-3-12-4-12-4.5-12-5-12-6-12-6.5-12-7.5-12-8-11-8.5-11-9-10-9-10-10-10-11-9-11-9-12-8-11.5-7.5-12.5-6.5-11.5-6-12.5-5.5-12-4.5-12-4.5-14-3.5-12-3.5-14-2-14-1.5-12-1-14-0.5-12 0.5-12 1-12 1.5-12 2.5-12 3-12 4-12 4-10.5 5-11.5 5.5-10 6-10 7-10 6.5-8 8-9 9-9 9-7.5 10-7.5 10-6.5 10-6 10-5 12-5.5 12-4.5 12-4 12-3 12-2.5 14-2.5z"/>
<path fill="#f3ba3a" d="M434 964l12.5-1 12-0.5 12 0 12 0.5 13.5 1 12.5 1.5 12 2 12 2.5 12 3 12 3 12 4 12 4 12 5 12 5.5 11.5 5.5 10.5 6 10 6 10 6.5 10 7.5 8 6 9.5 8 8.5 8 8 8 7 8 7 9 7 9 5.5 8 6 10 5.5 10 5 10 4 10 3.5 10 3.5 10 2.5 10 2 10 2 12 1.5 12 0.5 10 0 12-0.5 10-1.5 12-1.5 10-2.5 12-2.5 10-3.5 12-4 10-4 10-5 10-5.5 10-6 10-6 9-7 9-7 9-8.5 9-8 8-9 8-9.5 8-9 7-10 6.5-10 6-10 5.5-11 5-11 5-10 3.5-12 3.5-12 3-12 2.5-12 1.5-12 1.5-12 0.5-14-0.5-12-0.5-12-1.5-12.5-2.5-13.5-3-12-3.5-12-4-12-4.5-12-5.5-12-6.5-12-7-10-6.5-10.5-7.5-11.5-9-10.5-9-10.5-10-9.5-10-8.5-10-9-11-7.5-11-8-12-6.5-10.5-6-11.5-6-12.5-5.5-13.5-4.5-12-3.5-12-3.5-12-3-14-1.5-12-1.5-14-0.5-12 0-12 0.5-12 1-12 2-12 3-12 3.5-12 3.5-10.5 5-11.5 5-10 6-10.5 6-9.5 7.5-10 7-8 7.5-8 9-8 9-7 10-7 10-6.5 10-5.5 12-5.5 10.5-4.5 11.5-3.5 12-3.5 12-3 12-2z"/>
<path fill="#f7ba3c" d="M432.5 972l12-1 12-0.5 12 0 12 0 12 1 12 1.5 12 1.5 12 2.5 12 2.5 12 3 12 4 12 4 12 5 10 4.5 12 5.5 10 5.5 10 6 10 6.5 9.5 6.5 8.5 6.5 9 7.5 8.5 8 8 8 7.5 8 6.5 8 6.5 9 6.5 9 5.5 9.5 5 8.5 5 10 4 10 4 10 3 10 3 11 2.5 11 1.5 10 1 10 0.5 10 0.5 10-0.5 12-1.5 12-1 10-2 10-3 11.5-3.5 10.5-3.5 10-4 10-5 10-5.5 10-6 10-6.5 10-6 8-7 8-7 8-8 8-9 8-9 8-8.5 6-9 6-9.5 6-9 5-10 5-10 4.5-12 4.5-12 4-12 3-12 2.5-12 2-12 1-12 0.5-12 0-12-1-12-1.5-12-2-12-2.5-12-3-12-4-12-5-11.5-5-10.5-5-11.5-7-10.5-6.5-11-7.5-10.5-8-10.5-9-9.5-9-10-10-8.5-9.5-8.5-10.5-7.5-10-6.5-10-7.5-12-6.5-12-6-12-5.5-12-4.5-12-3.5-12-4-13.5-2.5-12.5-2-12-1.5-12-1-12 0-12 0.5-12 1-12 2-12 2.5-12 2.5-10 4-12 4-10 5-10 5.5-10 6-9.5 6-8.5 8-9.5 7.5-8.5 8.5-7.5 8-7 10-7 9.5-6.5 10.5-5.5 10-5 10-4.5 12-4.5 12-3.5 12-3 12-2z"/>
<path fill="#fabb3e" d="M457.5 978l11 0 12 0.5 12 0.5 12 1.5 12 2 12 2 12 3 10.5 2.5 11.5 3.5 12 4.5 11 4 11 5 10 5 10 5.5 10 6 10 6.5 9 6 9 7 8 7 8 7.5 7 6.5 7.5 8 6.5 8 7 9.5 6 8.5 6 9.5 5 8.5 4.5 10 4.5 10 3 8 3.5 10 2.5 10 2.5 10 1.5 10 1 10 1 12 0 10-0.5 12-1 10-1.5 10-2 10-2 10-3 10-4 10-4 10-4.5 10-4.5 8.5-6 9.5-6 9.5-6.5 8.5-6.5 8-7 8-8 8-8.5 8-9.5 8-8 6-9 6-9.5 6-9.5 5.5-10 4.5-10 4.5-10 4-10 3-10 3-10 2-12 2-12 1.5-12 1-12 0-12-0.5-12-1.5-12-1.5-12-2.5-10.5-3-11.5-3.5-12-4.5-12-5-12-6-12-6.5-10-6-10-7-10-7.5-10-8.5-10-9.5-10-10-8-8.5-8-10-8.5-11.5-7.5-11-6.5-11-5.5-10-6-12-5.5-12-4.5-12-4-12-3-12-2.5-12-2-12-1.5-12-1-12 0-12 0.5-12 1-12 1.5-10 2.5-12 3-10 3.5-10 4-10.5 4.5-9.5 5.5-10 6-9.5 6-8.5 6-8 8-8.5 8-7.5 8-7 9.5-7 8.5-5.5 10-6 10-5 10-4.5 12-4.5 10-3 12-3 12-2.5 12-2 12-1z"/>
<path fill="#fdbc3e" d="M458 986l10.5 0 12 0.5 10 0.5 12 1 12 2 12 2 10 2.5 12 3 10 3 12 4 20 8.5 10 4.5 10 5.5 10 5.5 10 6.5 10 7 8 6 8 7 8 7 8 8 7.5 8 6.5 8 6 8 5.5 8 5.5 8 5 9.5 4.5 8.5 3.5 8 4 10.5 3.5 9.5 2.5 10 2.5 10 1.5 10 1.5 10 0.5 10 0 12 0 10-1 10-1.5 10-2 10-2.5 10-3 10-3.5 10-4 10-4 8-4.5 8.5-5.5 9.5-6.5 10-6 8-7 8-7 8-8 8-6.5 6-9.5 8-8 6-9 6-9 6-8 4.5-10 4.5-10 4.5-10 4-10 3-10 3-12 2.5-10 1.5-12 1.5-12 0.5-12 0-12-0.5-10-1-12-2-12-2.5-12-3-12-4-10-4-10.5-4.5-11.5-5.5-10-5.5-10-6.5-10-6.5-10-7.5-9.5-8.5-9-8-8-8-9-10-8.5-10-7.5-10-7-10-7.5-12-6-10.5-5.5-11.5-4.5-10-4.5-12-4-12-3.5-12-2-10-2.5-12-1.5-12-0.5-12-0.5-12 0.5-12 1-12 1.5-10 2.5-12 3-10 3.5-10 3.5-10 5-10 4.5-8 6-9.5 6-8.5 6-8 7.5-8 8.5-8 7-6 8-6 9-6 10-6 10-5 10-4.5 10-3.5 10-3.5 12-3 12-2.5 12-2 12-1z"/>
<path fill="#febe3c" d="M467.5 994l11 0.5 10 0.5 12 1 10 1.5 12 2 10 2 10.5 2.5 11.5 3.5 12 4 10 4 10 4 9.5 4.5 8.5 4.5 10 6 9.5 5.5 9 6 15.5 12.5 8 7 8 7.5 6.5 7 7 8 6.5 8 5.5 8 5.5 8 5 9 5 9 3.5 8 3.5 8.5 3.5 9.5 3 10 2.5 10 1.5 8 1.5 10 0.5 10 0.5 10 0 10-0.5 10-1.5 10-1.5 10-2.5 10-2.5 10-3 8-3.5 10-4 9-5 9-5 9.5-5.5 8.5-6 8-6.5 8.5-6.5 7.5-7.5 8-8 7.5-8 6.5-7.5 6-8.5 6-9.5 6-8.5 5-10 5-8 3.5-8 3.5-10 3.5-10 2.5-10 2.5-12 2.5-10 1-12 1-10 0.5-12-0.5-12-1-10-1.5-12-2-12-3-10-3-10-3.5-12-5-10-4.5-10-5.5-10-5.5-10-6.5-10-7.5-9-7.5-9.5-8-8-8-8-8-8.5-10-8-10-7-10-6.5-10-6-10-5.5-10.5-5.5-11.5-4.5-11-4-11-3.5-12-3-12-2-10-1.5-12-1-12-0.5-10 0-12 0.5-10 1.5-12 2-10 2.5-10 3-10 3.5-10 4.5-10 4-8 5.5-10 6.5-9 6-8 6-7 8-8 8-7 8-6.5 9.5-6.5 8.5-5 9-5 9-4 10-4 10-3.5 10-3 12-2.5 12-2 12-1.5 12-1z"/>
<path fill="#fec13a" d="M442 1004l10.5-1 10-0.5 10 0 12 0.5 20 2 10 1.5 12 2 12 3 10 2.5 20 7 10 4 10 4.5 18 9.5 9 5 9 6 8 6 8 6 8 7 7.5 7 6.5 6.5 7 7.5 6.5 8 6 8 5.5 8 4.5 8 4.5 8 4 8 4 9.5 3.5 8.5 2.5 8.5 2.5 9.5 2 8 1.5 10 1 8 0.5 10 0 10 0 10-1 10-1.5 10-2 10-2 8-3 10-3 8-4 10-4 8-4.5 8-4.5 8-6 9-6 8-6 7.5-7 7.5-7 7-7.5 7-7.5 6-8 6-9 6-8 5-9.5 5-8 4-9.5 4-9 3.5-10 3-10 3-12 2-10 1.5-10.5 1-11.5 0.5-12 0-10-0.5-12-1.5-10-2-10-2-10-3-10-3-10.5-4.5-11.5-5-10-5-10-5.5-10-6.5-8.5-6-9.5-7-10-9-8-7.5-8-8-7.5-8.5-6.5-8-7.5-10-6.5-10-6-10-5.5-10-5-10-5-12-4-10-3-10-3.5-12-2-10-2-12-1.5-12-0.5-10 0-10 0.5-10 1-12 1.5-10 2-10 3-10 3.5-10 3-8 5-10 4.5-8 6-9.5 6-8 6-7.5 6.5-7 7.5-7 8-6.5 8-6 8-5 9-5.5 9-4.5 10-4 10-3.5 10-3.5 12-3 10-1.5z"/>
<path fill="#fec338" d="M449.5 1012l11-0.5 10-0.5 20 1 20 2 20 4 20 5.5 10 3.5 10 3.5 18 8.5 10 5 8 4.5 9 5.5 9 6 7.5 6 7.5 6 7 6.5 8 7.5 12 13.5 6 7.5 5 7 5 8 5 8 4 8 3.5 8 3.5 8 3.5 10 2.5 8.5 2.5 9.5 1.5 9.5 1 8.5 1 10 0 8 0 9-0.5 9-1.5 10-1 8-2.5 10-2 8-3 8-3.5 10-3.5 8-4.5 8-4.5 8-5 8-5.5 8-5 6.5-6 7.5-6 6.5-8 7.5-7 6-7.5 6-8.5 6-9 6-7 4-8 4-9 4.5-9 3.5-9 3.5-10 2.5-10 2.5-10 2-10 1.5-10 0.5-10 0.5-12-0.5-10-0.5-12-2-10-1.5-10-2.5-10-3-10-3.5-10-4-10-4.5-10-5.5-9-5.5-9.5-6-9.5-7-8.5-7-9.5-8-8-8-7.5-8-7-8-7.5-9.5-6-8.5-6.5-10-5.5-10-5.5-10-4.5-10-4-10-4-12-3.5-12-2.5-10-2-10-1-10-1-10-0.5-12 0.5-10 0.5-10 1.5-10 2-10 2.5-10 3-10 4-10 3.5-8 4.5-8 5-8 5.5-8 6-7.5 6-7 6-6 8-7 8-6 8-5.5 8-5 8-4 10-5 10-3.5 9.5-3.5 10.5-2.5 10-2.5 10-1.5z"/>
<path fill="#fec636" d="M464.5 1020l18 0 10 1 10 1 10 1.5 10 1.5 10 2.5 10 2.5 10 3 10 4 18 7.5 8 4 10 5 16 10.5 14 10 14 12.5 6 5.5 7.5 8 11 14 9.5 14.5 4.5 7.5 4 8 3.5 8 3.5 8 2.5 8 3 10 3 16 1.5 10 0.5 8 0.5 8-0.5 10-0.5 8-1.5 10-1.5 10-2 8-5.5 16-3 8-3.5 8-4.5 8-4.5 8-9.5 14-6 8-6 6.5-7.5 7.5-6.5 6-7 6-7 5.5-8 6-8 4.5-8 4.5-8 4-16 7-8.5 2.5-9.5 3-10 2-10 2-10 1-10 0.5-10 0.5-10-0.5-10-1-10-1.5-10-2-10-2.5-10-3-10-3.5-10-4-9.5-5-8.5-4.5-10-6-8-5.5-10-7-8-7-8-7-8-7.5-8-9-7-8.5-6-8-7-9.5-5-8.5-5.5-10-5-10-4.5-10-4-10-3.5-10-2.5-10-2.5-10-1.5-10-1.5-10-0.5-10-0.5-10 0.5-10 1-10 1-10 2-8.5 2.5-9.5 3-10 3.5-8 4.5-10 4.5-8 5-8 5-7 6-7.5 6-6.5 7-7 7-5.5 8-6 8-5.5 8-4.5 8-4 9.5-4.5 8.5-3 9-3 9-2 10-2.5 10-1.5 10-1z"/>
<path fill="#fec835" d="M453 1030l9.5-0.5 10-0.5 18 1 10 0.5 10 1.5 18 3.5 18 5 18 6.5 18 8 16 9 15.5 10 14.5 11.5 7.5 6.5 6 6 11 12 5.5 7.5 5 6.5 9 14.5 4 7.5 3.5 8 3.5 8 3 8.5 2.5 9.5 2 8 2.5 16 1 16 0 9-0.5 9-2.5 16-1.5 8-2.5 8-2.5 8-3 8-3.5 8-4 8-4.5 8-5 8-4.5 6.5-6 7.5-11 12-6.5 6-7 6-13.5 10.5-8 5-8 4.5-8 4.5-8 3.5-16 6-8 2-10 2.5-10 2-10 1-8.5 0.5-9.5 0.5-10-0.5-10-0.5-10-1.5-9.5-2-8.5-2-10-2.5-10-3.5-9-4-9-4-10-5.5-8-4.5-9-6-8-6-9-7-7.5-7-6.5-6-7.5-8-7-8-6.5-8-5.5-8-5.5-8-5.5-10-4.5-8-4.5-10-4-10-3.5-10-3-10-2.5-10-2-10-1.5-10-1-10 0-10 0-10 1-8 1-9 1.5-9 2.5-9.5 2.5-8.5 3-8 3.5-8 4-8 5-8 5-8 5-6 6-7 6.5-7 7.5-6.5 7-5.5 7-4.5 8-5 8-4.5 8-3.5 8-3 10-3.5 8-2.5 10-2 10-2z"/>
<path fill="#fecb33" d="M450.5 1040l8-0.5 10-0.5 18 0 18 1.5 18 3 18 5 17.5 5.5 16.5 7.5 16 8.5 8 4.5 8 5.5 13.5 10 12.5 11.5 12 12.5 10 13 8.5 13 7.5 14.5 3.5 7.5 3 8 2.5 8 2 8 2 8 1 8 1 8 0.5 8 0 8 0 8-1 8-1 8-1.5 8-2 8-2.5 8-3 8-6 14-8 14-4.5 7-5.5 7-10.5 12.5-12 11.5-7 6-7 5.5-14 8.5-8 4.5-7.5 3.5-14.5 6-8 2.5-10 2.5-8 2-10 1.5-8 0.5-10 0.5-10 0-10-0.5-8-1-10-1.5-10-2-8-2.5-10-3-8-3-8.5-4-9.5-4.5-8-4.5-8-5-8.5-6-8-6-7.5-6-8-7.5-6-6.5-7.5-8-6.5-8-6-8-5-8-5-8-4.5-8-5-10-4-10-3-8-3.5-10-2-8-2-10-2-10-1-10-0.5-8 0-10 0.5-8 1-9.5 1.5-8.5 1.5-8 2-8 3-8 3-8 4-8 4-8 5-7.5 4.5-6.5 5.5-6.5 6-6.5 6-5.5 6-5.5 8-5.5 6-4.5 8-4.5 8-4 8-3.5 10-3.5 8-2.5 10-2.5 8-2z"/>
<path fill="#fdcd31" d="M451.5 1050l17-1.5 16 0 18 1.5 16 2.5 18 4.5 16 5.5 16 6.5 16 8 14.5 9 13.5 10 12 11 11 11 9.5 12 5.5 8 4 6 7.5 14 6 14 2.5 8 2 7.5 3 14.5 1.5 14 0 8 0 8-0.5 8-1 8-3 14-2 8-3 8-6 14-7 13.5-8.5 12.5-10 12-6 6-6 6-12.5 10-13 9-14 7.5-14 6-8 2.5-8 2.5-8 1.5-10 2-10 1-8 0.5-8 0-10 0-8-1-10-1.5-9.5-2-8.5-2-8-2.5-9.5-3.5-8.5-3.5-8-4-8-4-8-5-8-5.5-8-6-7.5-6-6.5-6-6-6-7.5-8-11-14-6-8-5-8-4.5-8-4-8-4-9-3.5-9-5-16-2-8-2-10-1-10-0.5-8-0.5-10 0.5-8 0.5-10 1.5-8 1.5-8 2-8 2.5-8 3.5-8 2.5-6 4.5-8 5-8 4-6 5-6 5.5-6 6-6 6-5 6-5 8-5 6-3.5 8-4.5 8-3.5 8-3 8-2.5 8-2.5 10-2z"/>
<path fill="#fcd030" d="M455.5 1060l15-1 16 0 16 1.5 16 2.5 16 4 16 5 16 7 14 7.5 14 8.5 12 9 12 11 11 11 9 12 8 12 7.5 14 5.5 14 4.5 14 2.5 14 1 8 0.5 8-0.5 14-1.5 14-3 14-4.5 14-6 13.5-7 12.5-8.5 12-5 6-5.5 6-10.5 10-11.5 9.5-12 8-14 7-14 5.5-8 3-8 2-8 1.5-8 1.5-8 0.5-8 0.5-8 0-10-0.5-8-0.5-10-1.5-16-4-8-2.5-8-3-8-3.5-8-4-8-4.5-7.5-5-6.5-4-8-6-7-6-6.5-6-6.5-6.5-6-6.5-6-7.5-5.5-7.5-9-14-4.5-8-3.5-8-3.5-8-3-8-5-16-2-9-1.5-9-1-8-0.5-8 0-8 0.5-8 0.5-8 1.5-8 1.5-8 2-8 3-8 2.5-6 3.5-8 4-7 4.5-7 4.5-6 5-6 5.5-6 4.5-4 6.5-6 7.5-5 6-4 6-3.5 8-4 14-5.5 8-2.5 8-2.5 8-1.5z"/>
<path fill="#fbd32f" d="M465.5 1070l15-0.5 14 0.5 16 2 14 3 14 4 14 5 14 6.5 14 8 12 8 12 9.5 11 10 9 10.5 8.5 11.5 7.5 12 6 12.5 5 13.5 3.5 12 2 14 1 14-0.5 14-2 14-3 12-5 14-5.5 12-7.5 12-8 11-10 11-10 9-12 9-12 7.5-12 5.5-14 5.5-8 2-8 2-8 1-8 1-8 0.5-8 0-15.5-1-14.5-2-8-2-8-2.5-8-3-8-3-14.5-7.5-13.5-8-7.5-6-6.5-5-12-11-6-6.5-6-7-10-13.5-4.5-7-4.5-8-7-14.5-5.5-15.5-2.5-8-2-8-1-8-1.5-8-0.5-8 0-8 0.5-8 0.5-7.5 2.5-14.5 1.5-6 2.5-8 3-8 3-6 3.5-6.5 4-6.5 8.5-11 5-6 4.5-4 6-5.5 6-4.5 6-4 6.5-4 7.5-4 6-2.5 8-3 7-2.5 7-2 8-1.5 8-1.5z"/>
<path fill="#fad52d" d="M462 1082l12.5-1 14 0 14 1.5 14 2 14 3.5 14 5 13 5 13 7 12 7.5 12 9.5 10 9 9 9 7.5 10 8 12 6.5 12 4.5 12 3.5 12 2.5 12 1.5 12 0 14-1.5 12-2.5 12-3.5 12-5.5 13-6.5 11-7.5 11.5-8 9.5-9.5 9-10 8-10.5 7-12 6.5-12 5-14 4-14 3-14 1-8 0-8 0-8-1-8-1-14-3.5-14-4.5-14-6.5-14-8-12-8-12-10.5-11-11.5-10-12-5-7-4-7-7.5-14-6-14-4.5-14-2.5-14-1-8-1-8 0.5-14 1.5-14 1.5-8 1.5-6 3-8 2.5-6 6-12 4-6 4-5.5 4-5 5-5.5 9-8 6-4.5 6-4 12-7 6-2.5 8-3 14-4 8-1.5z"/>
<path fill="#f9d82c" d="M465.5 1094l13-1 12 0.5 12 1 14 2 13.5 3.5 12.5 4.5 12 5.5 12 6 10 6.5 10 8 10 9 8.5 8.5 7.5 10 6.5 10 5.5 10.5 5 11.5 3 11 2.5 11 1 12 0 12-1 12-3 12-3.5 12-4.5 10-5.5 10-7 10-8.5 10-8.5 8-10 8-9.5 6-10.5 5.5-11.5 4.5-12.5 4-14 2.5-14 1-14-0.5-14-2-14-3.5-14-5-12-5.5-12-7-12-9-10-9-10-10-9.5-12-7.5-12-7-13-5-13-4.5-14-2.5-14-1-14 0.5-12 0.5-6.5 1-7.5 3.5-12 4.5-12 3-6 3.5-6 6.5-10 8-8.5 5.5-5.5 4.5-3.5 10-7 6-3.5 6-3 12-4.5 7-2.5 7-1.5z"/>
<path fill="#f7db2b" d="M462 1108l10.5-1 12-1 12 0.5 12 1.5 10 2 12 3.5 12 4.5 10 5 10 5.5 10 6.5 10 8.5 8 7.5 8 9 6 8.5 5.5 9.5 5 10 3.5 10 3 10 1.5 10 1 12-0.5 12-1.5 10-3 10-3.5 10-4.5 10-6.5 10-6 8.5-7.5 7.5-8.5 8-9 6-9 5.5-10 5-12 4-12 2.5-12 1.5-12 0.5-12-1-14-2.5-12-3.5-12-4.5-10.5-5.5-11.5-7-10-8-10-9-8.5-10-7.5-10-7-12-6-12-4-12-3.5-12-1.5-12-0.5-8 0-6 1-12 2-12 3.5-10.5 5-11.5 6-10 7-8.5 8-8 9-7.5 10-6 11-5 12-4z"/>
<path fill="#f6dd29" d="M467.5 1122l11-1 10-0.5 10 0.5 10 1.5 10 2 10 3 10 4 10 5 10 5.5 8 6 7.5 6 6.5 6.5 6.5 7.5 6 8 5.5 9.5 4 8.5 3 8 2.5 10 1.5 10 0.5 10-0.5 10-1 8-2.5 10-3.5 9.5-4 8.5-5 8-6.5 8-6.5 7-6 5.5-8 6-8 4.5-10 5-10 3.5-10 2-10 1.5-12 0.5-12-1-10-1.5-10-3-12-4.5-10-4.5-10-6.5-10-7.5-8-7.5-8.5-9.5-7-10-6-10-5-10-3.5-10-3-12-1.5-10-0.5-12 1-11.5 2-10.5 3.5-10 4.5-10 6-9.5 6-7.5 7-7 8-6 9-5.5 10-4.5 10-3.5z"/>
<path fill="#f6e028" d="M472 1138l8.5-1 8 0 8 0 10 1 9.5 2 8.5 2.5 9 3.5 8 4 7 4 8.5 6 7 6 6 6 5 6 5.5 8 4 6.5 3.5 7.5 3 8 2 8 1 8 0.5 8 0 8-1.5 8-1.5 8-3 8-4 8-3.5 6-4.5 6-6 7-6 5-8 6-7 4-7 3.5-8 3-10 2-10 1.5-10 0-10-0.5-10-2-10-3-8-3.5-9.5-5-8.5-5.5-8-6-6.5-6.5-7-8-5.5-8-5-8-4-8.5-3.5-9.5-2.5-10-1-10-0.5-8 1-10 1.5-8 3-9.5 4-8.5 5-8 5-6.5 6-6 7-5.5 9-5.5 8-3.5 8-2.5z"/>
<path fill="#f5e327" d="M484 1156l6.5 0 8 0 8 1 6 1.5 6 1.5 8 3.5 6 2.5 6 3.5 6 4.5 5.5 4 4.5 4.5 5 5.5 4.5 6 3.5 6 3 6 2 6 2 6 1 6 0.5 8 0 6-1 6-1 6-2 6-2.5 6-3.5 6-4.5 6-5 6-4 3.5-4 3-6 4-6 3-6.5 2.5-7.5 2-8 1.5-8 0.5-8-0.5-8-1-8-2-6-2.5-8-3.5-7-4.5-7-5-5.5-5-5.5-6-5-6-5-8-3-6-3-8-1.5-6-1.5-8-0.5-8 0-8 1.5-8 2-6 3-7 4-7 4-5.5 4.5-4.5 5.5-4.5 6-4 6-3.5 8-2.5 8-2z"/>
<path fill="#f5e526" d="M483 1182l5.5-0.5 4-0.5 4 0 6 0.5 4 0.5 6 2 8 3 8.5 5 3.5 3 4 4 6 7 4.5 8 2.5 8 1 4.5 0.5 5.5-0.5 8-2 8-1.5 4-2.5 4.5-2.5 3.5-3.5 4-6 5-4 2.5-4 2-4 1.5-6 2-4 0.5-6 0.5-4-0.5-6-0.5-4-1-6-2-4-2-6-3-4-3-4.5-4-4-4-3-4-2.5-4-3.5-6-1.5-4-1.5-6-1-6 0-4 0-6 1-4 1-4 1.5-4 2-4 3-4 3.5-4 3.5-3 4-3 4-2 4-2z"/></g>
<path d="M212.8 800.2 L202.5 806.2 L190.5 813.9 L180.5 820.9 L170.5 828.5 L160.5 836.7 L150.5 845.7 L141.8 854.2 L132.5 864.1 M872.5 964.8 L864.5 950.8 L856.5 938.1 L848.3 926.2 L838.5 913.0 L828.5 900.8 L818.5 889.6 L808.5 879.3 L796.8 868.2 L784.5 857.6 L772.7 848.2 L760.5 839.2 L748.5 831.2 L734.5 822.5 L720.5 814.6 L706.5 807.3 L691.4 800.2 M132.5 1326.9 L141.4 1340.2 L149.9 1352.2 L158.9 1364.2 L168.4 1376.2 L178.4 1388.2 L189.0 1400.2 L200.2 1412.2 L210.0 1422.2 L220.4 1432.2 L231.3 1442.2 L242.9 1452.2 L255.1 1462.2 L266.5 1471.0 L279.2 1480.2 L290.8 1488.2 L303.3 1496.2 L316.5 1504.1 L327.3 1510.2 L338.7 1516.2 L352.5 1522.9 L364.5 1528.3 L378.5 1534.1 L390.5 1538.5 L404.5 1543.2 L416.5 1546.8 L430.5 1550.5 L444.5 1553.7 L456.5 1555.9 L470.5 1558.0 L482.5 1559.4 L494.5 1560.5 L508.5 1561.1 L522.5 1561.3 L536.5 1560.9 L548.5 1560.2 L562.5 1558.8 L576.5 1556.9 L588.5 1554.8 L601.0 1552.2 L614.5 1548.9 L628.5 1544.9 L640.5 1541.1 L652.5 1536.8 L664.5 1532.1 L678.0 1526.2 L690.5 1520.3 L702.5 1514.1 L714.5 1507.4 L726.6 1500.2 L738.5 1492.5 L750.5 1484.2 L761.4 1476.2 L772.5 1467.4 L783.5 1458.2 L794.6 1448.2 L804.9 1438.2 L814.7 1428.2 L823.8 1418.2 L832.5 1408.0 L842.0 1396.2 L850.5 1384.7 L857.8 1374.2 L865.5 1362.2 L872.5 1350.4" fill="none" stroke="#e05c52" stroke-width="4"/>
<path d="M446.5 1014.1 L434.5 1015.8 L424.5 1017.7 L414.5 1020.1 L404.5 1023.0 L394.5 1026.6 L385.9 1030.2 L376.5 1034.8 L368.5 1039.2 L360.5 1044.3 L352.5 1050.0 L344.9 1056.2 L338.4 1062.2 L332.5 1068.2 L325.6 1076.2 L319.6 1084.2 L314.3 1092.2 L309.7 1100.2 L305.6 1108.2 L302.1 1116.2 L298.4 1126.2 L295.5 1136.2 L293.1 1146.2 L291.4 1156.2 L290.3 1166.2 L289.7 1176.2 L289.6 1186.2 L290.2 1198.2 L291.2 1208.2 L292.7 1218.2 L294.7 1228.2 L297.8 1240.2 L300.9 1250.2 L304.6 1260.2 L308.8 1270.2 L313.5 1280.2 L318.8 1290.2 L324.8 1300.2 L331.4 1310.2 L338.5 1319.8 L345.3 1328.2 L352.5 1336.4 L360.5 1344.6 L368.6 1352.2 L378.0 1360.2 L385.7 1366.2 L394.5 1372.4 L404.5 1378.8 L414.0 1384.2 L422.5 1388.5 L432.5 1393.1 L442.5 1397.0 L452.5 1400.4 L464.5 1403.8 L474.5 1406.0 L484.5 1407.7 L494.5 1408.9 L506.5 1409.7 L516.5 1409.8 L526.5 1409.4 L536.5 1408.4 L546.5 1407.0 L556.5 1405.0 L566.5 1402.5 L576.5 1399.4 L585.4 1396.2 L594.5 1392.4 L602.5 1388.5 L610.6 1384.2 L618.5 1379.5 L626.5 1374.2 L634.5 1368.4 L642.1 1362.2 L648.8 1356.2 L656.5 1348.6 L662.5 1342.0 L668.5 1334.8 L673.5 1328.2 L679.0 1320.2 L683.9 1312.2 L688.4 1304.2 L692.3 1296.2 L695.8 1288.2 L698.8 1280.2 L702.0 1270.2 L704.5 1260.8 L706.3 1252.2 L707.6 1244.2 L708.7 1234.2 L709.2 1224.2 L709.2 1216.2 L708.7 1206.2 L707.9 1198.2 L706.5 1188.5 L704.8 1180.2 L702.5 1171.0 L699.8 1162.2 L696.5 1153.2 L692.7 1144.2 L688.8 1136.2 L684.5 1128.2 L679.6 1120.2 L674.5 1112.6 L668.5 1104.5 L663.4 1098.2 L656.5 1090.5 L650.5 1084.3 L644.0 1078.2 L636.5 1071.6 L628.5 1065.2 L620.5 1059.4 L612.5 1054.1 L604.5 1049.1 L595.7 1044.2 L586.5 1039.5 L576.5 1034.9 L566.5 1030.8 L556.5 1027.1 L546.5 1023.9 L536.5 1021.1 L526.5 1018.8 L516.5 1016.8 L506.5 1015.2 L496.5 1014.0 L486.5 1013.2 L476.5 1012.8 L466.5 1012.8 L456.5 1013.3Z" fill="none" stroke="#c01c06" stroke-width="4.5"/>
<circle cx="502.9" cy="1227.6" r="9.2" fill="#000"/>
</g>
<g clip-path="url(#c3)">
<g shape-rendering="geometricPrecision"><rect x="904" y="800.2" width="740" height="782" fill="#3e27ab"/>
<path fill="#3f29b0" d="M904 800l724.5 0 15.5 14 0 768-711 0-15-20-14-20.5z"/>
<path fill="#402ab5" d="M904 800l721.5 0 18.5 17 0 765-708.5 0-16.5-22-15-21.5z"/>
<path fill="#412cba" d="M904 800l718.5 0 21.5 19.5 0 762.5-706 0-18-24-16-23z"/>
<path fill="#422ebe" d="M904 800l715.5 0 24.5 22.5 0 759.5-703.5 0-18.5-24.5-18-26z"/>
<path fill="#4230c3" d="M904 800l712 0 28 25.5 0 756.5-701 0-21-28-18-26z"/>
<path fill="#4331c8" d="M904 800l709 0 31 28 0 754-698.5 0-21.5-28.5-20-29z"/>
<path fill="#4433cc" d="M904 800l706 0 34 31 0 751-696 0-12-15.5-10.5-14.5-11.5-16-10-15z"/>
<path fill="#4435d1" d="M904 800l702.5 0 37.5 34 0 748-693.5 0-12.5-16-12-16.5-11-15.5-11-16.5z"/>
<path fill="#4537d5" d="M904 800l699.5 0 40.5 37 0 745-691 0-13-16.5-12-16.5-12-17-12-18z"/>
<path fill="#4639d9" d="M904 800l696 0 44 39.5 0 742.5-688.5 0-13.5-17-13.5-19-12.5-17.5-12-18z"/>
<path fill="#463bdd" d="M904 800l693 0 47 42.5 0 739.5-686 0-14-18-14-18.5-13.5-19.5-12.5-19z"/>
<path fill="#463de0" d="M904 800l689.5 0 50.5 45.5 0 736.5-683 0-15-18.5-14.5-19.5-14-20-13.5-20.5z"/>
<path fill="#473fe3" d="M904 800l686.5 0 53.5 48.5 0 733.5-680.5 0-16-20-15.5-20.5-14-20-14-21.5z"/>
<path fill="#4742e6" d="M904 800l683 0 26.5 24 30.5 27 0 731-678 0-16-20-16.5-22-15.5-22-14-21.5z"/>
<path fill="#4744e8" d="M904 800l680 0 28 25.5 32 28.5 0 728-675.5 0-17.5-22-16.5-22-15.5-22-15-23z"/>
<path fill="#4747eb" d="M904 800l676.5 0 28.5 26 35 31 0 725-672.5 0-18-22-17.5-23-16-23-16-24.5z"/>
<path fill="#4849ed" d="M904 800l673.5 0 30.5 28 36 32 0 722-670 0-19.5-24-18-24-16.5-23.5-16-24.5z"/>
<path fill="#484bef" d="M904 800l670 0 32 29.5 38 33.5 0 719-667.5 0-19.5-24-19-25-17.5-25-16.5-25.5z"/>
<path fill="#484ef1" d="M904 800l666.5 0 33 30 40.5 36 0 716-664.5 0-20-24-19.5-26-18.5-26-17.5-27.5z"/>
<path fill="#4850f3" d="M904 800l663.5 0 34.5 31.5 42 37.5 0 713-662 0-21.5-26-19.5-26-19-27-18-28z"/>
<path fill="#4852f4" d="M904 800l660 0 35 32 45 40 0 710-659 0-23-27.5-20-26-19.5-28.5-18.5-28.5z"/>
<path fill="#4855f6" d="M904 800l656.5 0 37.5 34 46 41 0 707-656.5 0-23.5-28-21-28-19.5-28-19.5-30z"/>
<path fill="#4757f7" d="M904 800l653 0 37.5 34 49.5 44 0 704-653.5 0-12.5-14-12-15-11.5-15-10.5-13.5-20-28.5-10-15.5-10-16.5z"/>
<path fill="#475af9" d="M904 800l650 0 39.5 36 50.5 45 0 701-651 0-13-15-12-14.5-11-14.5-11-14-11-16-11-15.5-10-15.5-10-16.5z"/>
<path fill="#475cfa" d="M904 800l646.5 0 39.5 36.5 54 47.5 0 698-648 0-14-16-12-14.5-12-15-12-16-11.5-16.5-10.5-15-10-16-10-16z"/>
<path fill="#465efb" d="M904 800l643 0 41.5 38 55.5 49 0 695-645.5 0-14-16-12.5-15-12-15-12-16-11-16-11-16-11.5-18-10.5-17z"/>
<path fill="#4661fc" d="M904 800l639.5 0 42.5 39 58 51 0 692-642.5 0-13.5-15-14-17-12.5-16-12.5-16-11-16-12-17-12-19-10-16.5z"/>
<path fill="#4563fd" d="M904 800l636 0 44 40 60 53 0 689-639.5 0-14.5-16-14-16.5-13.5-17.5-12.5-16-12-17-12-17.5-11-17.5-11-18.5z"/>
<path fill="#4466fd" d="M904 800l632.5 0 45.5 41.5 62 54.5 0 686-636.5 0-15.5-17-14-16.5-13-16.5-13-17-12-17-12.5-18-11.5-18-12-20z"/>
<path fill="#4368fe" d="M904 800l629 0 46 42 65 57.5 0 682.5-634 0-16-18-14-16.5-14-17-13.5-18.5-12.5-17-12.5-19-11.5-18-12-20z"/>
<path fill="#426bfe" d="M904 800l625.5 0 46.5 42.5 68 60 0 679.5-631 0-16-18-15-17-14-17.5-14-18.5-13.5-19-12.5-18.5-12-19-12-20z"/>
<path fill="#406dfe" d="M904 800l622 0 22 20.5 26.5 23.5 69.5 61.5 0 676.5-628 0-16-17.5-16-18.5-14-17-14-19-14-19-14-21-12-19-12-20.5z"/>
<path fill="#3e70ff" d="M904 800l618.5 0 23.5 22 26 23.5 72 63 0 673.5-625 0-17-18-16-19-15.5-19-14.5-19-14-19.5-13-19.5-13-21-12-20.5z"/>
<path fill="#3b72ff" d="M904 800l615 0 24 22 26.5 24 74.5 66 0 670-622 0-2-2-18-19.5-16-18.5-14.5-18-15-20-14.5-20-13-20-13-20.5-12-21z"/>
<path fill="#3975fe" d="M904 800l611.5 0 24 22 26.5 24.5 78 68.5 0 667-619 0-4-4-17-18.5-16-18.5-16-19.5-14.5-19.5-14.5-20-13-20-13.5-22-12.5-21z"/>
<path fill="#3677fe" d="M904 800l608 0 23.5 22 29 26 79.5 70 0 664-616 0-6-6-18-19.5-16-18.5-16-20-14-18.5-14-19.5-14-21.5-14-22.5-12-21z"/>
<path fill="#347afd" d="M904 800l604.5 0 25.5 24 28 25.5 82 72 0 660.5-613 0-9-9-18-19.5-16-19-16-19.5-14-19-14-20-14-21-14-23-12-21z"/>
<path fill="#317dfc" d="M904 800l601 0 25 23.5 29.5 26.5 84.5 74.5 0 657.5-610 0-10-10-18-19.5-16-18.5-16-20-16-21.5-14-19.5-14-21.5-14-23.5-12-21z"/>
<path fill="#307ffb" d="M904 800l597 0 25 23.5 30 27 88 77.5 0 654-607 0-13-13.5-18-19.5-16-19-16.5-20-15.5-20.5-14-20.5-14-21.5-14-23-12-21.5z"/>
<path fill="#2f81fa" d="M904 800l593.5 0 26 24 30.5 28 90 79 0 651-604 0-16-16.5-17.5-19.5-16.5-19-16-20-15.5-21-14.5-20.5-14-21.5-13-22-13-23z"/>
<path fill="#2e84f9" d="M904 800l590 0 25.5 24 31 28 93.5 82.5 0 647.5-600.5 0-18-18-17.5-19-17.5-21-16-20-15-20-15.5-22-14-22-13-22-13-23.5z"/>
<path fill="#2e86f7" d="M904 800l586.5 0 25.5 24 32 29 96 85 0 644-597.5 0-20.5-20.5-18-20-16.5-19.5-17.5-21.5-15-20.5-15-21.5-14-22-13-22.5-13-23.5z"/>
<path fill="#2d88f6" d="M904 800l582.5 0 27.5 26 31.5 28 98.5 87 0 641-594.5 0-23.5-24-18-19.5-17-20.5-17-21-15.5-21-14.5-21.5-14-22-13-22.5-13-23.5z"/>
<path fill="#2d8bf4" d="M904 800l579 0 27 25.5 32 29 102 90 0 637.5-591 0-25-25-18-19.5-18-21-16-20.5-16-21.5-15-22.5-14-22-14-24-13-24z"/>
<path fill="#2d8df2" d="M904 800l575.5 0 26.5 25.5 32 29 106 93.5 0 634-588 0-14-13.5-13.5-14.5-18.5-20-18-21-16-20.5-16-21.5-15.5-23-13.5-22-14-24-13-24z"/>
<path fill="#2c8ff0" d="M904 800l571.5 0 28 26 32.5 30 108 95.5 0 630.5-584.5 0-15.5-15-14-14-18-20-18-21-17.5-22-16-22-15-22-14.5-24-14-24-13-24.5z"/>
<path fill="#2b91ef" d="M904 800l568 0 27.5 26 33 30 111.5 98.5 0 627.5-581.5 0-16.5-16-16-16.5-18-19.5-18.5-22-17-22-16-22-15-22-15-24-13.5-24-13-24.5z"/>
<path fill="#2a93ed" d="M904 800l564 0 27.5 26 34.5 31.5 114 100.5 0 624-578 0-18-17-16.5-17-19.5-21.5-17.5-20.5-16.5-21-16.5-23-15.5-23-14-23-14-24-14-27z"/>
<path fill="#2895ec" d="M904 800l560.5 0 27.5 26 34 31.5 118 104 0 620.5-574.5 0-19.5-18.5-18-18-18-20-18-21.5-18-22.5-16-22-15.5-23.5-14.5-24-14-24.5-14-27z"/>
<path fill="#2798ea" d="M904 800l556.5 0 27.5 26 35 32 121 107 0 617-571.5 0-20.5-19.5-20-20.5-18-20-18.5-22-17.5-22-16-22.5-15.5-23.5-14.5-24-14-24.5-14-27.5z"/>
<path fill="#269ae9" d="M904 800l553 0 29 28 34 31 124 109.5 0 613.5-568 0-22-21-20-20-20-22-18-21.5-18-23-16-22.5-15.5-24-14.5-24-14.5-26-13.5-26.5z"/>
<path fill="#259ce7" d="M904 800l549 0 29 27.5 34 31 128 113.5 0 610-564.5 0-23.5-22-22-22.5-20-22-18-21.5-18-23-16-22.5-15.5-24.5-14.5-24-14.5-26-13.5-27z"/>
<path fill="#249ee6" d="M904 800l545 0 29 27.5 34 31 132 117 0 606.5-561 0-25-23-22-23-20-21.5-18-21.5-18-23-17-24-15.5-24-15.5-25.5-14-26.5-14-27.5z"/>
<path fill="#23a0e5" d="M904 800l541.5 0 29.5 28 35 32 134 119.5 0 602.5-557.5 0-26.5-24.5-24-24.5-20-22-18-21.5-18-23-17-24.5-15.5-24-15.5-26-14-26-14-28z"/>
<path fill="#22a1e4" d="M904 800l537.5 0 29.5 28 35 32 138 123 0 599-554 0-26-24-14-13.5-12-12.5-20-22-20-24-18-23.5-16-22.5-16-25-16-27-14-26-14-29z"/>
<path fill="#21a3e3" d="M904 800l533.5 0 29.5 28 35 32.5 142 126 0 595.5-550 0-16-14-14-13-14-14-12-12.5-20-22-19-22.5-18-24-17-24-16-25-16-27-14-26.5-14-29z"/>
<path fill="#1fa5e2" d="M904 800l529.5 0 29.5 28 35 32.5 146 130 0 591.5-546.5 0-15.5-13.5-15.5-14.5-14.5-14-13-14-21-22.5-19-23.5-18.5-24-16.5-24-16.5-26-15.5-26.5-14.5-27.5-13.5-28.5z"/>
<path fill="#1ea7e1" d="M904 800l526 0 29 28 35 32.5 150 133.5 0 588-543 0-16-14-15-14-16-15.5-14-14.5-20-22-20-24-18-24-18-25.5-16.5-26.5-15.5-26.5-14-27.5-14-29.5z"/>
<path fill="#1ca9df" d="M904 800l522 0 29 28 35 32.5 154 137 0 584.5-539 0-17-14.5-16-14.5-16-15.5-14.5-15.5-21.5-23.5-20-24-18.5-24.5-17.5-25.5-16.5-26.5-15.5-27-14-27.5-14-30z"/>
<path fill="#1babde" d="M904 800l518 0 29 28 35 32.5 158 141 0 580.5-535.5 0-18.5-16-16-14.5-16-15.5-16-16.5-21-23.5-20-24-19-25-17-25-17-27-16-28.5-14.5-28.5-13.5-29.5z"/>
<path fill="#19addc" d="M904 800l514 0 29 28 35 32.5 162 145 0 576.5-531.5 0-18.5-15.5-18-16.5-16-15.5-16-16.5-22-24-19.5-24-18.5-24-18-26-17-28-16-28-15-29.5-14-31z"/>
<path fill="#17aeda" d="M904 800l510 0 29 28 35 32.5 166 148.5 0 573-527.5 0-20.5-17-18-16.5-18-17-16-16.5-22-24.5-20-24.5-18-24-18-26-10-16-8-13.5-15.5-28.5-14.5-28.5-14-31z"/>
<path fill="#14b0d8" d="M904 800l506 0 29 28 35 32.5 170 152.5 0 569-523.5 0-20.5-17-20-18-18-17-17.5-18-20.5-22.5-20.5-25.5-19.5-25.5-18-26.5-10-16-8-13.5-15.5-28.5-14.5-30-14-31z"/>
<path fill="#11b1d6" d="M904 800l502 0 29 28 35 32.5 174 156.5 0 565-520 0-22-18.5-19.5-17.5-18.5-17.5-18-18.5-22-24-20-24.5-10-13-10-14-18-26.5-16.5-28-16.5-30-15-30.5-14-32z"/>
<path fill="#0db3d3" d="M904 800l498 0 29 28 34.5 32 178.5 161 0 561-515.5 0-22.5-18-20-18-20-19-18.5-19-22-24-11.5-13.5-10-12.5-10-13.5-10-14-17.5-26.5-17-28-16.5-30-15-31.5-14-32.5z"/>
<path fill="#08b4d1" d="M904 800l493.5 0 29 28 34.5 32 125 112 58 53 0 557-511.5 0-22.5-18-22-19.5-20-18.5-20-20.5-12-13-10.5-12.5-11.5-13.5-10-12.5-10-13-10-14-17.5-27-8.5-14-9.5-16-16-30-14.5-30.5-14-33z"/>
<path fill="#04b6ce" d="M904 800l489.5 0 29 28 34.5 32 124.5 112 62.5 57 0 553-507.5 0-24.5-19.5-22-19.5-20-19-20-20-22-24-11.5-14-10.5-13-10-13.5-10-14-18.5-27.5-9.5-16-8-13.5-16-30.5-8-16-8-17.5-7-16.5-7-17z"/>
<path fill="#02b7cb" d="M904 800l485.5 0 28.5 28 34 31.5 127.5 114.5 64.5 59 0 549-503.5 0-24.5-19.5-24-21-22-20.5-20-20.5-22-24.5-11.5-14-10.5-13-10-13-10-14-10-15-9.5-15-8.5-14-9-16-8.5-16-8-16-15-32-13.5-33z"/>
<path fill="#00b8c9" d="M904 800l481.5 0 28.5 28 34 31.5 127 114.5 69 63 0 545-499 0-25-19.5-24-20.5-22-20.5-22-22-12-13-10.5-12.5-11.5-13.5-10-12.5-10-13.5-10.5-14.5-9.5-14-10-16-9.5-16-8.5-14.5-8-15.5-8-16-8-16-8-18-7.5-18-6.5-16.5z"/>
<path fill="#00b9c6" d="M904 800l477 0 27 26.5 34 31.5 131 118 71 65.5 0 540.5-494.5 0-27.5-21.5-24-20.5-24-22-22-22.5-12-13-11-12.5-11-13-10-13-10-13-10.5-15-9.5-14-10-16-9.5-16-8.5-15-8-15.5-8.5-17.5-7.5-16-8-17.5-7.5-18.5-6.5-16.5z"/>
<path fill="#02bbc3" d="M904 800l473 0 27 26.5 34 31.5 130.5 118 75.5 69.5 0 536.5-490 0-28-21.5-26-22-24-22-22-22.5-12-12.5-12-14-11-13.5-11-13.5-10-13.5-10.5-15-9.5-14.5-10-16-9-15.5-9-16-8-15-8-17-8-16.5-8-18.5-7.5-19-6.5-17z"/>
<path fill="#05bcc0" d="M904 800l468.5 0 27 26 32.5 31 134 121 78 72 0 532-485.5 0-29-22-13.5-11-14-12-25-23-23-23-12-13.5-12-13.5-11.5-14-10.5-13.5-10-13.5-10-15-10-14.5-10-16.5-9-15-9-16.5-8-15.5-8.5-18-7.5-16-8-18.5-7.5-19.5-6.5-17z"/>
<path fill="#09bdbd" d="M904 800l464.5 0 26.5 26 32 30 137 124 80 74 0 528-481 0-29-21.5-14-11.5-14-12-14-12.5-12-11-12-12-12-12-12-13-12-14-12-14.5-10.5-14-11.5-15-10-14.5-10-15.5-10-16-9.5-17-8.5-16-8.5-16-8.5-18-7-16-8-18.5-7.5-19.5-6.5-17.5z"/>
<path fill="#0fbebb" d="M904 800l460 0 26.5 26 32 30 139 126 82.5 76.5 0 523.5-476.5 0-15.5-11-16-12.5-14-11.5-14-11.5-14-12.5-12-11-14-14-11.5-12-12.5-13.5-12-13.5-12-15-11-14-11-15-10-15-10-15-10-16.5-9-16.5-9-16-9-18-8.5-18-7-16-7.5-18.5-7.5-19.5-6.5-18.5z"/>
<path fill="#15bfb8" d="M904 800l456 0 26 26 30 28 143.5 130 84.5 79 0 519-472 0-16-11.5-16-12.5-16-12.5-14-12-13-11.5-13-12-14-13.5-12-12.5-13-14-12-14-11.5-14-11.5-14.5-11-15.5-11-16-10-15.5-10-16.5-9-16-9-17-8.5-17-8-18-8-18-7.5-18.5-7.5-19.5-6.5-19z"/>
<path fill="#1ac0b5" d="M904 800l451.5 0 26.5 26 29.5 28 143.5 130 43 40 46 43.5 0 514.5-467 0-17-12-16-12-16-12.5-14-12-14-12-14-13-14-13.5-12.5-13-13.5-14.5-12-14-12-14.5-11.5-15-11.5-16-10.5-16-10.5-16-9.5-16-9-16-9.5-18-8.5-18-8.5-18-7.5-18-7.5-18.5-7-19.5-7-20z"/>
<path fill="#1fc0b2" d="M904 800l447 0 24.5 24 29.5 28 147.5 134 45.5 42 46 44 0 510-462 0-18-12.5-16-12-16-12.5-16-13-14-12.5-15-13.5-13-12.5-14-14.5-13.5-15-12-14-12.5-15-11.5-15-11-16-11-16-10-16-9.5-16-9-16-10-19-9-19-8-18-7.5-18-8-20-7-20-6.5-19.5z"/>
<path fill="#24c1af" d="M904 800l442.5 0 24.5 24 29.5 28 149.5 136 45 42 49 46.5 0 505.5-457 0-17-12-18-13-16-12-16-13-16-14-14-13-14-13-14-14.5-14-15.5-12-13.5-12-15-12-15.5-11-16-11-16-10-16-10.5-18-10-18-9.5-18.5-8.5-17.5-8.5-20-7.5-18-7.5-20-7.5-20-6.5-21z"/>
<path fill="#27c2ac" d="M904 800l438 0 24.5 24 27.5 26 153.5 140 47.5 44 49 47 0 501-452 0-18-12.5-18-13-18-13.5-16-13-16-14-15.5-14-14.5-14-13.5-14-13-14-13.5-15.5-12-15-12-16-11-15.5-11-16-11-18-10.5-18-9.5-18-9-18-8.5-18-9-20-8-20-7-20-7-20-6.5-20.5z"/>
<path fill="#2bc3a9" d="M904 800l433.5 0 22.5 22 28 27 157 143 47 44 52 49.5 0 496.5-446.5 0-19.5-13-18-13-18-13.5-18-14.5-16-13.5-15.5-14.5-14.5-13.5-14-14.5-14-15-12.5-15-13-16-12-16-11.5-16-11-16.5-10.5-17.5-10.5-18-9.5-18-9.5-19-9-19-8.5-20-7.5-20-7.5-20-7-22-6.5-20.5z"/>
<path fill="#2dc4a5" d="M904 800l429 0 22.5 22 27 26 160 146 49 46 52.5 50.5 0 491.5-441.5 0-20.5-13.5-18-13-18-13.5-18-14-16-13.5-16-14.5-16-15-14.5-15-13.5-14.5-13-15.5-13-16-12-16-12-17-11-17-11-17.5-10.5-18.5-9.5-18-10-20-9-20-8.5-20-8-22-7.5-20-7-22-6-21z"/>
<path fill="#30c5a2" d="M904 800l424.5 0 26.5 26 31 29.5 115 104.5 52 48 44.5 42 46.5 45.5 0 486.5-436 0-22-14.5-19-13.5-19-14-18-14-18-15-16-14.5-16-15.5-14-14.5-14-15-14-16.5-13.5-17-11.5-16-11.5-16-11.5-18-12-20-10-18-10-19-9-19-9-20-8-20-8-21.5-7-20.5-7-22-6-21.5z"/>
<path fill="#32c69f" d="M904 800l420 0 26 26 30 28 116.5 106 51.5 48 46.5 44 49.5 48.5 0 481.5-430.5 0-21.5-14-20-13.5-20-15-18-14-18-15-16-14-16-15-16-16.5-14-15.5-14-16-13.5-17.5-12.5-16.5-12-17.5-12-18.5-11.5-19.5-10-18-10-20-9.5-20-9-20-8-20.5-8-21.5-7-22-7-22.5-6-22.5z"/>
<path fill="#34c79b" d="M904 800l415 0 25 24.5 31 29.5 116.5 106 52 48 48 46 52.5 51.5 0 476.5-424.5 0-21.5-13.5-22-15-20-14.5-19.5-15-18.5-15.5-16.5-14.5-17-16-15.5-16-13-14-14-16-14-17.5-12-16.5-12-17-12-19-12-20-10-18-10-20-9.5-20-8.5-20-9-22-7.5-22-7.5-22-6.5-22-6-22-1.5-6.5z"/>
<path fill="#37c898" d="M904 800l410.5 0 24 24 32 30 116.5 106 53.5 50 50.5 48 53 52.5 0 471.5-418.5 0-23.5-14.5-22-14.5-20-14.5-20-15.5-18.5-15-18-16-17.5-16.5-16-16-14-15.5-14-16.5-14-17.5-11.5-16-12.5-17.5-10.5-16.5-11.5-19.5-10-18-10-20-9.5-20.5-8.5-19-8.5-21-7.5-22-7.5-22-6.5-22-6-22-4-17z"/>
<path fill="#39c994" d="M904 800l405.5 0 24.5 24 29.5 28 118.5 108 54 50 52 50 56 55.5 0 466.5-412.5 0-23.5-14-22-14.5-22-15.5-20-15.5-20-16-18-15.5-17.5-17-16.5-16.5-14-15-14-16.5-12-15-12-16-12-17.5-11.5-17.5-10.5-17.5-10-18.5-10-18.5-10-21-9-20.5-8-20-7.5-20-7.5-22.5-6.5-21.5-6-22-7.5-32z"/>
<path fill="#3dc990" d="M904 800l401 0 24 24 29.5 28 116.5 106 56 52 56 54 57 57 0 461-406.5 0-23.5-14-24-15.5-22-15.5-22-16.5-20-16-18-15.5-18-17-17.5-18-13-14-13.5-16-14-17.5-12-16-12-17.5-11-17-10.5-18-10-18-10.5-20-8.5-18-8.5-20-8-20-7.5-20-7.5-22-6-20-6-22-5.5-22-4.5-22z"/>
<path fill="#41ca8c" d="M904 800l396 0 24 24 30 28 116 106 58 54 58 56 58 58 0 456-400 0-26-15.5-24-15-22-15-22-16.5-20-16-20-17-18-17-18-18-14-15.5-14-16.5-12-15-12-16-11.5-17-10.5-16-10.5-18-10-18-9.5-18-9.5-20-8.5-19-8-19.5-8-21.5-6.5-20-6.5-20-6-22-7-29-6-30z"/>
<path fill="#45cb88" d="M904 800l391 0 24.5 24 27.5 26 118.5 108 58 54 29 28 30.5 30 30 30 31 31.5 0 450.5-393.5 0-26.5-15.5-24-15-24-16-22-16-20-16-20.5-17.5-19.5-18-18-18-14-15.5-12.5-14.5-13-16-12-16-11-16-11.5-17.5-10-16.5-10-18-9-18-9-18-9-20-8-20-7.5-20-7-20-6.5-21-6-21-4.5-18-4.5-20-3.5-18-3.5-20z"/>
<path fill="#4acb84" d="M904 800l386 0 24.5 24 27.5 26 118.5 108 60 56 31 30 30.5 30 30 30 32 33 0 445-386.5 0-27.5-15.5-26-16-24-16-22.5-16.5-23-18-20.5-17-20-19-18-18-12.5-14-13.5-15.5-12-15-12-16-12-17.5-10-15.5-10-16.5-10-18-9.5-18-8.5-18-8-18-8.5-20-7.5-20-7-20-6.5-22-6-20-5.5-22-5-24-4.5-24-3.5-23z"/>
<path fill="#50cc80" d="M906 800l379 0 22 22 27.5 26 121 110 32.5 30 29.5 28 31 30 32.5 32 31.5 32 31.5 33 0 439-379.5 0-28.5-15.5-26.5-16.5-25.5-16.5-24-17-22-17-22-18.5-20-19-18-18-14-15.5-12-14-12-15-12-16-12-17-10-15.5-10-17-10-17.5-9.5-18.5-8.5-18-8.5-18-8-20-7.5-19.5-7-20.5-6-20-5.5-20-7-28-6-28-4.5-28-4-29.5 0-210.5z"/>
<path fill="#55cc7c" d="M909.5 800l370 0 22.5 22 25.5 24 123 112 32.5 30 29.5 28 33 32 32 32 33.5 34 33 34.5 0 433.5-372.5 0-29.5-16-28-16.5-26-17-24-17-24-18.5-22-18.5-20-18.5-20-20-14-15.5-12-14-12-15.5-11-15-11-15.5-10.5-16.5-9.5-16-10.5-18-9-18-9-18-8-18-8-20-7.5-20-7-20-6-20-5.5-20-4-16-4.5-18-3.5-18-3-18-5-34-2-18-1.5-18 0-134z"/>
<path fill="#5acc77" d="M913 800l361.5 0 22.5 22 25.5 24 123 112 32.5 30 31.5 30 33 32 34 34 33 34 32 34 2.5 2.5 0 427.5-364.5 0-31.5-16.5-28-16.5-27-17-26-18-23.5-18-23.5-19.5-22-20.5-20-20-14-15.5-12-14.5-12-15.5-10.5-14.5-11-16-10.5-16-10-16.5-10-18-10-19.5-8-17-8-19-8-19.5-7-18.5-6.5-20-6-20-5.5-20-5-20-4-18.5-3.5-19.5-3.5-20-2.5-20-2.5-20-1.5-20-1-20-0.5-18-0.5-20 0-20 1-20 1.5-36z"/>
<path fill="#60cd73" d="M917 800l352 0 20.5 20 25.5 24 123.5 112 32 30 32 30 32.5 32 34 34 33 34 32.5 34 9.5 10.5 0 421.5-357 0-31-16-31-18-29-18-26-17.5-24-18.5-24-20-22-20-12-12-10-10.5-14-15.5-11.5-14-11-14-11.5-15.5-11-16.5-10-16-11-18-8.5-16-9.5-18-8.5-18-7.5-18-8-19.5-6.5-18.5-7-20-6-20-5.5-20-4.5-20-4.5-20-3.5-20-3-18-2.5-20-2-20-2-20-1-20-0.5-18 0-20 0-20 1-20 2-36z"/>
<path fill="#65cd6e" d="M920.5 800l343 0 20.5 20 25.5 24 121.5 110 32.5 30 31.5 30 33 32 34 34 33 34 32 34 17 19 0 415-348.5 0-33.5-17-30.5-17-29.5-17.5-28-19-26-19.5-24-20-12-10.5-12-11.5-10-10-11-12-13-14-12-14.5-12-15.5-11.5-16-10.5-15-10.5-17-9.5-16-9.5-18-9.5-18-8-18-8-18-7-18-7.5-20-6.5-20-6-20-5-20-5-20-4-19.5-3.5-20.5-3-18-2.5-20-2-20-1.5-20-0.5-20-0.5-18 0-20 1-38 2.5-36z"/>
<path fill="#6bcd69" d="M924.5 800l333.5 0 20.5 20 23.5 22 121.5 110 32.5 30 32 30 35 34 31.5 32 33 34 32 34 24.5 27.5 0 408.5-340 0-34-16.5-32-17.5-30-18-16-10-14-9.5-14-10.5-13-10-13-10-12-10-12-11-12-11-11.5-12-10.5-11-12-13-13-16-11-14-12-16.5-10.5-15.5-10-16-9.5-16-10-18.5-10-19.5-8-17.5-7.5-18.5-7.5-18-7-20-6-18.5-5.5-19.5-5.5-20-4.5-20-4-20-3.5-18-3-20-2-18-2-20-1.5-20-1-20 0-18 0-20 0.5-20 1-20 2.5-36z"/>
<path fill="#71cd64" d="M928.5 800l324 0 18.5 18 23.5 22 121.5 110 33 30 31.5 30 35 34 34 34 32.5 34 31.5 34 30.5 34 0 402-330.5 0-35.5-16.5-18-9.5-16-8.5-16-9-16-9.5-16-10.5-14-9.5-14-10-14-10.5-13-10.5-13-10.5-12-10.5-12-11.5-12-12-12-12.5-12-13.5-12-14.5-12-15.5-11-15.5-10.5-16-10.5-16.5-10-17-9-16.5-8.5-18-8.5-17.5-7.5-18.5-7-18-7.5-20-6-19-6-20.5-4.5-18.5-5-20-3.5-18-3.5-20-3-20-2-20-2-18-1-20-1-20 0-18 0-20 1.5-38 3-36z"/>
<path fill="#77cc60" d="M932.5 800l314 0 18.5 18 21.5 20 122.5 110 32.5 30 31.5 30 35 34 34 34 32.5 34 31.5 34 38 42.5 0 395.5-321 0-19-8.5-18-8.5-18-8.5-18-9.5-16-9-16.5-10-15.5-9.5-16-10.5-16-11.5-14-10.5-12.5-10-13.5-11-14-12.5-12-11-12-12-12-13-12-13.5-12-14.5-12-16-10.5-14.5-10.5-16-10-16-9-16-10-18.5-8.5-17.5-8.5-18-7.5-18-7.5-19.5-6.5-18.5-5.5-18-6-20-5-20-4.5-20-3.5-18-3.5-20-2.5-20-2.5-20-1.5-18-1-20-0.5-20 0-18 0-20 2-38 3-34z"/>
<path fill="#7dcc5b" d="M936.5 800l304 0 21 20 24 22 91.5 82 35.5 32 28 26 27.5 26 35 34 33.5 34 32.5 34 31.5 34 21.5 24 22 25.5 0 388.5-310.5 0-19.5-8-20-9-18-9-18-9-18-10-16-9-18-11-16-10.5-15-10.5-15-10.5-14-11-14.5-12.5-13.5-11.5-13-12.5-13-13-12-13-12-13.5-12-15-11.5-15.5-10.5-14.5-10-15.5-10-16-10-17.5-8.5-16.5-9-18-8-18-7.5-18-7-18-6-18-6.5-20-5.5-20-5-20-4.5-20-3.5-18-3-19.5-2.5-18.5-2-18-1.5-20-1-20-0.5-20 0-18 0.5-20 0.5-18 1.5-20 3-34z"/>
<path fill="#84cc56" d="M941 800l293.5 0 21 20 24 22 87.5 78 35.5 32 30.5 28 27.5 26 35 34 33.5 34 32.5 34 33 36 25 28 24.5 29 0 381-299.5 0-20.5-8-20-9-20-9-18-9-18-9.5-18-10-18-10.5-16.5-11-15.5-10-16-12-15.5-12-14.5-12-14-12-14-13.5-12.5-12.5-13-14-12-14-11.5-14-11-14.5-11-15.5-10.5-16-9.5-16-9-16-9.5-18-8.5-17.5-8-17.5-7.5-19-6.5-17-6-17-6-20-5.5-20-5-20-4-18-4-20-3-20-2.5-18-2-20-1-18-1-20-0.5-20 0-18 0.5-20 1-18 1.5-20 4-36z"/>
<path fill="#8acb52" d="M945.5 800l283 0 19 18 24 22 86.5 77 34.5 31 30.5 28 30 28 37 36 33.5 34 32.5 34 33 36 28 32 27 32.5 0 373.5-287 0-21-7.5-22-9.5-20-8.5-20-9.5-20-10.5-18-9.5-18-10.5-18-11.5-16.5-11-16.5-12-15-11-15.5-13-14.5-12.5-14-13-14-14.5-12-13-12-13.5-12-15-12-16-10-14.5-10-15-10-16.5-9-16.5-9-17-8-17-8-18-7.5-18-6.5-18-6-18-6.5-20-5.5-20-4.5-20-4-18-3.5-20-3-18-2.5-20-1.5-18-1.5-20-0.5-18-0.5-20 0.5-18 0.5-20 1-18 2-20 4-36z"/>
<path fill="#90ca4d" d="M950.5 800l271.5 0 19 18 22.5 20 82.5 73.5 37 32.5 32.5 30 30 28 37 36 35.5 36 34.5 36 30.5 34 31.5 36 29.5 36.5 0 365.5-274 0-22-7.5-22-8.5-22-9.5-20-9-20-10-20-10.5-20-11-18-11-18-12-16-11-16-12-17-14-15-13-14-13-14-14-14-15.5-12-14-11.5-14.5-10.5-14-11-16-10.5-16-9.5-16-9-16-9-18-8.5-18-8-18-7-18-6.5-18-7-20-5-18-5-18-4.5-20-4-18-3.5-20-2.5-18-2-20-2-18-1-20-0.5-18 0-20 0-18 1-18 1.5-18 1.5-20 4.5-36z"/>
<path fill="#96ca48" d="M955.5 800l259.5 0 40 36 115.5 102 33.5 30.5 31.5 29.5 37.5 36 34 34 32 34 33 36 19.5 22 18.5 22 18 22 16 20.5 0 348.5-16.5 9-242.5 0-3-1-22-7-22-8-22-9-22-9.5-22-10-20-10.5-20-11-20-11.5-18-11.5-18-12.5-18-13.5-16-12.5-16-14-14-13-14-14-14-15.5-12-14-11-14-11-14.5-11-15.5-10-16-9.5-16-9.5-16.5-9-17.5-8.5-18-7.5-18-7.5-18-6.5-18-6-18-5.5-20-5.5-20-4-18-4-19.5-3-18.5-3-20-2-18-1.5-20-1-18-0.5-18 0-20 0.5-18 1-18 1.5-18 2-20 5.5-38z"/>
<path fill="#9cc944" d="M960.5 800l248 0 35.5 32 114 100 34 30.5 32 29.5 37.5 36 34 34 32.5 34 31 34 23 26 22 26 21 26 19 25 0 330.5-8 5-10 5.5-8.5 4-9 4-206 0-18.5-5-22-7-22-8-22-8.5-22-9.5-22-10-20-10-20-11-18-10.5-18-11-18-12.5-17.5-13-16.5-13-16-13.5-14.5-13.5-15.5-15.5-13.5-14.5-12-14-11.5-14-11-14.5-10.5-15.5-10.5-16-9.5-16-9.5-17-8.5-17-7.5-16-8-18-8-20-6.5-18-6-18-5.5-19-5-19-4.5-20-4-20-3-18-2.5-18-2-20-1.5-18-1-20 0-18 0-20 0.5-18 1.5-20 1.5-18 2.5-20 5.5-36.5z"/>
<path fill="#a2c83f" d="M966 802l0.5-2 234.5 0 34 30 107 93 35 31 32.5 30 36 34 34.5 34 32.5 34 31.5 34 28.5 32 25 30 24 30 22.5 30 0 311.5-14 9-14 7.5-14 6.5-16.5 5.5-161.5 0-18-4-18-5-22-6.5-22-7.5-22-8.5-20-8-22-10-20-9.5-20-11-20-11-18-11.5-18-12-18-13-16-12.5-16-13.5-16-14.5-14-14-14-14.5-12-14-12-15-11-14.5-11-15.5-10-15.5-10-16.5-9-16.5-9-17.5-8-16.5-8-18.5-7.5-19.5-6.5-18-6-18.5-5.5-19.5-5-18-4.5-20-3.5-18-3-20-2.5-18.5-2-19.5-1.5-20-0.5-18-0.5-18 0.5-20 1-18 1.5-20 1.5-18 3-20 3-20 3-18z"/>
<path fill="#a8c73b" d="M971.5 802l0.5-2 221.5 0 27.5 24 107 92 36 31.5 33.5 30.5 36 34 34.5 34 33.5 34 31.5 34 31.5 36 30 36 26.5 34 23 31.5 0 291.5-10 7-10 6.5-12 6.5-11.5 5-10.5 4.5-12 4-12 3-13 2.5-98 0-15-2-16-3.5-16-3.5-18-4.5-22-6.5-22-7-22-8.5-20-8-22-9.5-20-9.5-20-10.5-20-11.5-18-11-18-12-17.5-12.5-16.5-12.5-16-13.5-15-14-15-14.5-14-15-12-13.5-12-15-12-16-10-14-10-16-10-16.5-9.5-17.5-8.5-16-8-17-8-18.5-7-18.5-6.5-18-6.5-20-5-18-5-19.5-4-18.5-4-20-2.5-18-2.5-20-2-18-1-18-1-20 0-20 0.5-20 1.5-18 1.5-20 2-18 3-20 3-18 4-20z"/>
<path fill="#adc637" d="M978 802l0.5-2 207 0 126.5 107 38 33.5 35.5 31.5 36 34 35 34 31.5 32 31.5 34 18 20 19.5 22 16.5 20 16.5 20 15.5 20 13.5 18 13 18 12 18 0 270-12 9-12 8-13 7-13 6-14 5.5-14 4-14 3-16 3-16 1.5-16 0.5-16-0.5-18-1-18-2-18-3-20-4-20-4.5-22-6.5-20-6-22-7.5-22-9-22-9-20-9.5-20-10.5-20-11-18-10.5-18-12-18-12.5-16-12.5-16-13-16-14.5-14-13.5-14-15-12-13.5-12-14.5-12-16-10-14-10-15-10-17-10-17.5-8.5-16.5-7.5-16-8-18-8-20-6.5-18-5.5-18-6-20-5-20-4.5-20-3.5-20-3-20-2-18-2-20-1-20-0.5-18 0-18 1-20 1-18 2-20 2.5-18 3-20 4-20 4-18.5 5-21.5z"/>
<path fill="#b3c534" d="M985 800l192.5 0 74.5 62 42 35 40 34.5 38 34 37.5 34.5 35 34 33.5 34 32 34 20 22 21 24 18 22 18 22 16.5 22 14.5 20 14 20 12 19 0 247-12 10-11 8-13 8-12 6-12 5.5-14 4.5-14.5 4-15.5 3.5-16 2-16 1-16 0-18-0.5-18-1.5-18-2.5-20-3.5-20-4.5-22-5.5-20-6-22-7.5-22-8.5-20.5-8.5-21.5-9.5-20-10-20-11-18-10.5-18-11.5-18-12.5-16.5-13-15.5-12.5-16-14-16-15.5-14-14.5-12-13.5-12-14.5-12-16-11-15.5-11-17-10-17-10-18-8-16-8.5-18-7.5-18-7.5-20-6-18-6.5-20-5-18-4.5-20-4-18-3-20-3-20-2-20-1.5-18-0.5-20-0.5-18 0.5-18 1-20 2-20 2-18 2.5-18 4-20.5 4-18.5 5-21 5-18z"/>
<path fill="#b9c431" d="M992 802l0.5-2 176 0 61.5 49.5 50 41.5 44 37.5 42 37 40 36.5 37 36 35 36 33.5 36 21 24 19 22 19.5 24 17 22 16.5 22 15 22 13 20 11.5 19 0 222-9.5 9-10.5 9-12 8.5-12 7-12 6-14 6-14 4.5-14 3.5-16 3-16 1.5-16 1-16 0-18-1-18-2-20-3-18-3-20-5-22-5.5-20-6.5-22-7.5-20-8-20-8.5-21.5-10-19.5-10-19-10.5-18-11-18-11.5-17.5-13-15.5-12-15-12.5-16-14.5-14-14-14-15-12-13.5-12-15-11-15.5-11-15.5-10-16-9.5-16.5-9-16-9-18-8-18-7.5-18-6.5-18-6.5-18.5-5.5-19.5-5-18-4.5-20-4-20-3-18-2.5-20-2-20-1.5-20-0.5-18 0.5-20 0.5-18 1.5-20 2-19.5 2.5-18.5 3.5-19 4-19 4.5-18 5.5-20 6-19z"/>
<path fill="#bec32e" d="M1000 802l0.5-2 158 0 51.5 40 54 43 50 42 46 40.5 42 38.5 21 20 20 20 36.5 38 18.5 20 18 20 21 24 19.5 24 19 24 16.5 22 15.5 22 14 22 12.5 20 10 19 0 194-8 9-10.5 10-10 8-11.5 8-12 7-14 7-14 5-14 4.5-14 3-16 2.5-16 1.5-16 1-16-0.5-18-1-18-2-20-3.5-18-3.5-20-4.5-22-6.5-20-6-20-7.5-20-8-20-8.5-20-9.5-18-9.5-18-10.5-18-11-16-10.5-16-12-16.5-13-15.5-13-14-13-14-14-14.5-16-12-14-11.5-14-11.5-16-10.5-15.5-10-16-9.5-16.5-8.5-16-8.5-18-8-18-7.5-18-6.5-18-5.5-18-6-19.5-4.5-18.5-4.5-20-4-20-3-20-2-19.5-1.5-18.5-1-20 0-20 0-18 1.5-20 1.5-18 2.5-18 3-19.5 3.5-18.5 4.5-18 5-18 5.5-18 7-18z"/>
<path fill="#c3c22b" d="M1010 800l137.5 0 22.5 16 26 19.5 26 20 28 22 28 23 26 21.5 26 22.5 24 21 22.5 20.5 23.5 22 22 21.5 21 20.5 21.5 22 18.5 20 20 22 17.5 20 21.5 26 19 24 18.5 24 17 24 14 22 13.5 22 11 20 9 19 0 161.5-5.5 7.5-6.5 8-7.5 8-8.5 8-10.5 8-11.5 8-12 6.5-12.5 5.5-13.5 5-14 4-14 3.5-16 2-16 1.5-16 0.5-18-0.5-18-1-18-2.5-20-3.5-18-3.5-20-5-20-6-20-6.5-20-7.5-20-8-18.5-8.5-19.5-9.5-18-9.5-18.5-11-17.5-11-16-11-16-12-16-13-14.5-13-14.5-14-13.5-14-13.5-15-12-14.5-11-14.5-11-15.5-10-15.5-10-16.5-9-16.5-9-17.5-8-17.5-7-17-7-18-6.5-18-6-20-5.5-20-4-18-4-20-3-20-2.5-20-2-18-1-18-0.5-20 0.5-20 0.5-18 2-20 2-18 3-18 3.5-18 4-18 5.5-18.5 6-18 6-16 7-15.5z"/>
<path fill="#c8c129" d="M1019.5 802l1.5-2 114 0 25 16.5 22 15.5 24 17.5 24 18.5 26 20 26 21.5 26 21.5 26 22.5 24 21.5 23.5 21 22.5 21.5 21 20.5 21.5 22 19.5 20 20 22 18 20 18.5 22 23 28 19.5 26 19 26 16 24 14.5 24 12 22 9.5 20 4 10 4 11 0 120.5-6.5 12.5-4 6-5.5 7.5-10 11.5-5.5 5-6.5 6-11 8-11 7-12 6.5-12 5.5-14 4.5-14 4-14 3-16 2-16 1-16 0.5-18-1-18-1.5-18-2.5-20-3.5-18-4-20-5-20-6-20-7-20-7.5-18-7.5-18-8.5-19-10-18-10-17-10-16-10.5-16-11.5-16-12-16-13.5-14-12.5-14-14-13-14-13-14.5-12-15-10.5-14.5-11-16-10-16-9.5-16-9-17-8-17-8-17-7.5-19-6.5-18-6-18-6-20-4.5-18-4-20-3.5-18.5-3-19.5-2-20-1.5-20-0.5-20 0-18 0.5-20 1.5-18 2-18 3-19.5 3.5-18.5 4.5-18 4.5-16 5.5-16 6-15.5 7.5-16.5 6.5-12z"/>
<path fill="#cdc027" d="M1033 802l2-2 84 0 17 9.5 18 10.5 20 13.5 22 15 22 16.5 22 16.5 24 19 22 18 24 20 23 19.5 22.5 20 22 20 19 18 20.5 20 19.5 20 19.5 20 18.5 20 18 20 17 20 16.5 20 23.5 30 20.5 28 19 28 15.5 26 13 24 6 12 5 12 5 12 3.5 10 3.5 12 2 10 1.5 6.5 0 57-3.5 12.5-3.5 10-3.5 8-4.5 8-5 8-6 8-6 7-7 7-7 6-10.5 8-11.5 7.5-12 6-12 5-14 5-14 3.5-14 3-16 2-16 1-16 0-18-1-18-1.5-18-2.5-20-3.5-18-4.5-20-5-20-6.5-18.5-6.5-19.5-7.5-19-8.5-19-9-18-9-17-10-17-10.5-16-11-16-11.5-16-13-14-12-14-13-12.5-13-13.5-14.5-12-14-12-15.5-11.5-16-10.5-16-9.5-16-9-16-9-18-8.5-18-7.5-18-7-18-6.5-20-5.5-18-5.5-20-4-18.5-3.5-19.5-3-18-2.5-20-1.5-20-0.5-20-0.5-20 1-20 1.5-20 2-18 3-18 4-18 4.5-18 5.5-18 6-16.5 6-14 7-13.5 7-11.5 8-11z"/>
<path fill="#d2bf27" d="M1054 802l5.5-2 34 0 6.5 2 8 2.5 16 7 12 6 12 7 14 8 16 10.5 16 11 18 12.5 38 29 40 32 41 34.5 40 36 37 35.5 34 34.5 17 18 16.5 18 15.5 18 15.5 18 14.5 18 14.5 18 20.5 28 18 26 16.5 26 13 24 6.5 12 5.5 12 5 12 4 10 3 10 3 10 2.5 10 2 10 1 10 1 10 0 10-0.5 8-1 10-1.5 8-2 8-3 8-3.5 8-4 8-4.5 8-5 7-5.5 7-6.5 7-6 5.5-8 7-10 7-12 7-12 5.5-14 5.5-14 4.5-14 3-14 2-16 1.5-16 0.5-16 0-18-1.5-18-2-18-3-20-4-20-5-18-5-20-7-18-6.5-18-7.5-18-8.5-18-9-18-9.5-18-11-15.5-10.5-16.5-11.5-14-11-14-11.5-15.5-14-14-14-12.5-13-12-14-12-15-11.5-16-10.5-15-10.5-17-9.5-17-10-19-8-17.5-8-18.5-7-18-6.5-20-5.5-18-5-19-4.5-19-3.5-20-3-20-2-20-1.5-20-1-22 0.5-20 1-20 2-20 2.5-20 3.5-18 4.5-18 5.5-18 6-16.5 6-14 7-13.5 7.5-12 7.5-10 8-8 8-6.5 4-2.5z"/>
<path fill="#d7be28" d="M1068 810l8-0.5 8 0 8 0.5 10 2.5 10 3 10 4 10 4.5 12 6 14 7.5 14 8.5 14 9 16 11 18 13 18 13 36 28 38 31.5 37 32.5 35 32.5 34.5 33.5 32.5 34 30.5 34 28.5 34 24.5 32 19 26 17 26 14.5 24 13 24 10.5 22 4.5 12 3.5 10 3 10 3 10 2 10 1.5 10 1 10 0.5 8-0.5 10-0.5 8-1.5 10-2 8-2 8-3 7.5-3 6.5-4 8-5 8-4.5 6-5.5 6.5-6 6-6 5.5-8 6.5-11 7.5-11 6.5-13 5.5-13 5-14 4-14 2.5-14 2-16 1.5-16 0.5-16-0.5-18-1.5-18-2.5-18-3-20-4.5-20-5-18-5.5-18-6.5-18-7-18-7.5-18-8.5-17.5-9.5-16.5-9-16-10-16-10.5-16-12-14-11-14-12-14-13-14-14.5-12-13-12-14.5-11.5-14.5-11-16-10.5-16-11-17.5-9-16.5-9-18-8-18-8-19.5-6.5-18.5-6-18-5.5-20-5-20-4-20-3-20-2.5-20-2-20-0.5-20 0-22 0.5-20 2-20 2.5-18.5 3.5-19.5 4.5-18 5.5-18 5.5-16 6.5-14 6.5-12 8-12.5 8-10 8-7.5 5-4 5-3 8-4 6-2z"/>
<path fill="#dbbd29" d="M1076.5 820l7.5 0 8 0.5 8 1 10 2.5 10 3.5 10 4 12 5.5 12 6 14 8 14 8.5 14 9 16 11 34 25 34 26.5 35 29 35 31 33.5 31 32.5 32.5 32 33.5 28.5 32 27 32 24.5 32 18.5 26 15.5 24 14.5 24 13 24 10 22 4.5 12 3.5 10 3 10 2.5 10 2 10 1.5 8 1 10 0 8 0 10-0.5 8-1.5 8-1.5 8-2.5 8-2.5 8-3 6.5-4 8-4 6.5-5.5 7-5 6-5.5 6.5-6.5 5.5-7.5 6.5-10 6.5-12 7-12 5.5-12 4.5-14 4-14 2.5-14 2-16 1.5-16 0.5-16-0.5-18-1.5-18-2.5-18-3-18-4-18-4.5-20-6.5-18-6-18-7-16-7-18-8.5-17.5-9.5-16.5-9.5-16-10-15.5-10.5-14.5-10.5-14-11.5-14-12-14-13-12.5-13-12.5-14-12-14-11-14.5-11-15.5-11-16.5-10-17-9-16.5-8.5-18-8.5-18.5-8-19.5-6-18-6.5-20-5.5-20-4-18-4-20.5-3-19.5-2-20-1.5-20-0.5-20 0-20 1-20 2.5-20 3-20 4-18 4.5-17 6-18 6-14 6.5-13 7.5-12 8-10.5 8-8.5 8-6 4-3 6-3 4-1.5 6-2z"/>
<path fill="#e0bc2a" d="M1084.5 830l7.5 0.5 10 1 8 1.5 10 3 10 3.5 10 4.5 12 5.5 12 6.5 12 7 14 8.5 14 9 16 11 32 23.5 34 27 34 28.5 33.5 29.5 32.5 31 31 31 28.5 30 28 32 26.5 32 22.5 30 18.5 26 15 24 14 24 11.5 22 9.5 22 7.5 20 2.5 10 2.5 10 2 10 1 8 1 10 0.5 8-0.5 8-0.5 8-1 8-2 8-2 8-3 8-3 6.5-4 7.5-5 8-4.5 6-5.5 6-5.5 6-7 6-6.5 5.5-10.5 6.5-11 6-12.5 5.5-12 4.5-14 3.5-14 3-14 1.5-16 1-16 0.5-16-1-16-1.5-18-2-18-3.5-18-4-18-5-18-5.5-18-6.5-16-6.5-18-8-16-8-16-8-16.5-10-15.5-9.5-16-11.5-14-10.5-14-11.5-14-12-12-11.5-12-12.5-12-13.5-12-14.5-11.5-15-10.5-15-11-17-9-16-10-18-8.5-18-8-18-7-18-6.5-19-6-19.5-5-19.5-4.5-20-3-18-3-20-2-20-1-20-0.5-18 0.5-20 1.5-20 2.5-20 3-18 4.5-18 5-17 6-16 6-13 6.5-12 7.5-10.5 8-9.5 8-7.5 8-5.5 4-2 6-2.5 4-1.5 6-1.5z"/>
<path fill="#e4bb2c" d="M1087.5 840l8.5 0.5 8 0.5 8 1.5 10 3 10 3 10 4 12 5.5 12 6.5 12 6.5 14 8.5 28 18.5 30 22 32 24.5 32 27 32.5 28.5 32 30 30 30 28.5 30 28 32 25 30 22.5 30 17 24 15.5 24 14 24 11.5 22 10 22 7.5 20 3 10 2.5 10 2 10 1 8 1 10 0.5 8 0 8-0.5 8-1.5 8-1.5 8-2 8-3 8-3.5 8-3 6-5 8-4.5 6-5 6-6 6-6.5 6-6 4.5-10 6.5-12 7-12 5-12 4-12 3.5-14 2.5-14 2-16 1-16 0.5-16-1-16-1.5-16-2-18-3.5-16-3.5-18-4.5-18-6-18-6-16-6.5-17.5-8-16-8-15-8-15.5-8.5-14.5-9.5-15.5-10.5-14-10.5-14-11.5-13-11.5-13-12.5-12-12-12-13.5-11.5-14-10.5-14-11.5-16-10-16-9.5-16-9-16.5-8.5-17.5-8-18-7-18-6.5-18.5-6-19.5-4.5-18-4-18-4-20-3-20-1.5-18-1.5-20 0-18 0.5-20 1-18 2-18 3.5-18 3.5-16 5-18 5.5-14 6-14 7.5-13 7.5-11 8.5-9 7.5-7 8.5-5.5 4.5-2.5 5.5-2 4-1.5 6-1z"/>
<path fill="#e8bb2f" d="M1087.5 850l8.5 0 8 0.5 8 1 10 2.5 8 2 10 4 10 4 12 6 12 6 12 7 14 8.5 14 9 28 19.5 31.5 24 32.5 26.5 31.5 27.5 30.5 28.5 30 29.5 28.5 30 27 30 24.5 30 23.5 30 17 24 15.5 24 14 24 12 22 9.5 22 7.5 20 3.5 10 2.5 10 2 10 1.5 8 1 10 0.5 8 0 8-0.5 8-1 8-1.5 8-2 8-3 8-3.5 8-3 6-5 8-4.5 6-5 6-5.5 6-5.5 5-6.5 5-9.5 6.5-10.5 5.5-11.5 5.5-12 4-12 3.5-14 3-14 2-14 1-16 0-16-0.5-16-1.5-16-2-16-3-18-4-16-4-18-5.5-17.5-6.5-16.5-6.5-16-7-16-7.5-16-9-14-8-15.5-10-14.5-10-13-10-13-10.5-13-11.5-13-12-12-12.5-12-13.5-10-12-10.5-14-11.5-16-10-15-10-17-8-15-8-17-8-18-7.5-18-6-18-6-18-4.5-18-4.5-18-3.5-19.5-2.5-18.5-2-18-1.5-18-0.5-18 0.5-20 1.5-18 2-18 2.5-16 4-17 4.5-15 5.5-15.5 5.5-12.5 6.5-11.5 7-10.5 7-8.5 8-7.5 8-6 4-2 6-3 4-1.5 6-2z"/>
<path fill="#ecba32" d="M1087.5 860l8.5-0.5 8 0 8 1 8 1.5 10 2.5 10 3.5 10 4 10 4.5 12 6 12 6.5 12 7 14 8.5 28 19.5 28 20.5 32 25.5 30 26 30.5 28 29 28 27 28 27 30 25 30 23.5 30 17 24 16 24 14 24 12 22 10 22 7.5 20 3 10 3 10 2 10 1.5 8 1 10 0.5 8 0.5 8-0.5 8-1 8-1.5 8-2 8-2.5 8-3.5 8-3 6.5-4 6.5-5 7-5 6-6 6-6 5.5-6 4.5-9 6-11 6-10 4.5-12 4.5-12.5 3-13.5 3-14 1.5-14 1-14 0.5-16-0.5-16-1.5-16-2-16-3-16-3.5-18-5-16-5-16-6-16-6-16-7.5-14-6.5-16-8.5-14-8.5-14-9-14-9.5-14-10.5-14-11.5-12-10.5-12-11.5-11.5-12-11-12-11.5-14-10-13-10-14-10-15.5-9.5-15.5-8.5-16-8-16-8-18-6.5-16-6.5-18-5.5-18-5-18-4-18-3.5-18-3-18-2-18-1.5-18-0.5-16 0.5-18 1-18 2-18 2.5-15.5 3.5-16.5 4-14 5-14 5.5-13 6-11.5 6-9.5 8-9.5 8-8 8-6 8-4.5 4-2 6-2z"/>
<path fill="#f0ba36" d="M1088 870l8-1 8 0 8 0.5 8 1 8 2 10 3 10 3.5 10 4 10 4.5 12 6.5 12 6.5 12 7.5 26 17 28 20 30 23.5 30 25.5 29.5 26 29 28 27.5 28.5 27 29.5 25.5 30 21.5 28 17.5 24 16 24 14.5 24 12 22 10 22 8 20 3 10 3 10 2 10 1.5 8 1.5 10 0.5 8 0 8 0 8-1 8-1 8-2 8-2.5 8-3 7-3.5 7-3.5 6-4 6-5 6-5.5 6-6.5 6-5 4-9 6.5-10 5.5-10 4.5-12 4.5-12 3.5-12 2.5-14 2-14 1-14 0.5-16-0.5-14-1-16-2-16-3-16-3.5-16-4-16-5-16-5.5-16-6.5-16-7-14-6.5-14-7.5-14-8.5-14-8.5-14-9.5-13-10-13-10.5-12-10-12-11.5-11.5-12-11-12-11.5-13.5-9.5-12.5-10.5-14.5-10-15-8.5-14.5-9-16-8-16-7.5-16-7-17.5-6-16.5-6-18-4.5-16-3.5-16-4-18.5-3-17.5-2-18-1.5-18-0.5-16 0-18 1-16 1.5-16 2-16 3.5-16 3.5-14 5-14 5-12 5.5-10.5 6-10 7-9.5 7.5-8 7.5-6 4-2.5 6-3.5 8-3z"/>
<path fill="#f3ba3a" d="M1088.5 880l7.5-1 8-0.5 8 0 8 1 8 1.5 10 2.5 10 3.5 10 4 10 4.5 10 4.5 12 6.5 12 7 12 7.5 14 9 26 18.5 28 21.5 30 25 28 25 29.5 28 27 28 25.5 28 24 28 22 28 17.5 24 16 24 13.5 22 12 22 10 22 8 20 3.5 10 2.5 10 2.5 10 1.5 8 1.5 10 0.5 8 0.5 8-0.5 8-0.5 8-1 8-2 8-2 6-3 8-3 6-3 6-4.5 7-4 5-6 7-5.5 5-6.5 5.5-8 5.5-10 5.5-10 5-12 4.5-12 3.5-12 2.5-12 1.5-14 1.5-14 0-14 0-14-1.5-16-1.5-14-2.5-16-3.5-16-4-16-5-14-5-16-6-14-6-16-8-14-7-14-8.5-13.5-8.5-12.5-8.5-12.5-9.5-13.5-10.5-12-10.5-11.5-11-12-12-10.5-11.5-10-11.5-10-13-10-14-9.5-14-8.5-14-9-16-7-14-8-17-7-17-6-16-5-16-5.5-18-4.5-18-3-16-3-17-2-17-1.5-16-1-16 0-16 1-16 1-16 2.5-16 3-16 4-14 4-12 5-12.5 6-12 6-9.5 6-8 8-8.5 8-6.5 8-5 8-3.5z"/>
<path fill="#f7ba3c" d="M1101 888l7 0 8 0 8 1 8 1.5 8 2 10 3 10 4 10 4.5 10 4.5 12 6.5 22 13 26 17.5 26 19 27.5 21.5 26.5 23 27.5 25 26.5 26 25 26 24.5 28 23.5 28 19.5 26 17 24 14 22 13 22 10 20 9 20 7.5 20 5 18 2 10 1.5 8 1 8 0.5 8 0 8-0.5 8-1 8-1 8-2.5 8-2 6-2.5 6-3.5 7.5-4 6.5-4 5.5-4 5-5.5 5.5-6.5 6-5.5 4-9 6-9.5 5.5-10 4-10 3.5-12 3.5-12 2-12 2-14 1-14 0-14-0.5-14-1.5-16-2-16-3-14-3-16-4.5-14-4.5-14-5.5-14-5.5-14-6-14.5-7.5-13.5-7.5-14-8-12.5-8.5-13.5-9-12-9.5-12-9.5-12-11-12-11.5-11-11.5-10.5-12-10-12-9-12-9.5-13.5-9.5-14.5-8.5-14.5-8.5-15.5-7.5-15.5-7-16.5-6.5-16-5.5-16-5-16-5-18-3.5-16-3.5-18-2.5-16-1.5-18-1-16-0.5-16 0.5-16 1-16 2.5-16 2.5-14 3-12 4-14 5-12 6-12 6-10 7-9.5 6-6.5 8-6.5 8-5 8-4 10-3z"/>
<path fill="#fabb3e" d="M1100 898l6-0.5 8 0 8 0 8 1.5 8 1.5 10 3 8 2.5 10 4 10 4.5 12 6 22 12 24 15.5 24 17 26 20.5 27 22.5 27 24 26 25.5 25.5 26.5 23.5 26 21.5 26 20.5 26 17 24 14 22 13 22 10.5 20 9 20 7.5 20 5 18 2.5 10 1.5 8 1 8 0.5 8 0 8-0.5 8-0.5 8-1.5 8-2 8-2 6-2.5 6-3 6-3.5 6-4 6-5 6-4 4.5-6 5.5-6 5-8 5-10 5.5-10 4.5-10 3.5-10 3-12 2.5-12 1.5-14 1-12 0.5-14-0.5-14-1.5-14-1.5-14-2.5-16-3.5-14-4-14-4.5-14-5-14-5.5-14-6-14-7-14-7.5-12-7.5-14-9-12-8.5-12-9-12-9.5-12-11-10-9.5-10.5-11-10.5-12-10-12-9-11-9-13-9-13.5-8-13-8.5-15.5-7.5-15-7-15-6.5-16-6-16-5-16-4.5-16-4-16-3-16-2.5-16-2-16-1.5-16-0.5-16 0.5-16 0.5-14 2-16 2-14 3.5-14.5 4-13.5 4-11 5-11 5-8.5 6-9.5 7-8 7-6.5 8-5.5 8-4.5 8-3z"/>
<path fill="#fdbc3e" d="M1100.5 908l7.5-1 6-0.5 8 0.5 8 0.5 8 1.5 10 2.5 8 2.5 10 4 10 4 10 5 20 10.5 22 14 24 16.5 26 19.5 26 21.5 26 23 25 24 23.5 24 23.5 26 22 26 20 26 16 22 14.5 22 13 22 10.5 20 9.5 20 7.5 20 5.5 18 2 10 1.5 8 1 8 0.5 8 0.5 8-0.5 8-0.5 8-1.5 8-2 8-2 6-2.5 6-3 6.5-3.5 5.5-4 6-4.5 5.5-4.5 4.5-5.5 5.5-6 4.5-8 5.5-8.5 4.5-9.5 4.5-11 3.5-11 3-12 2.5-12 1.5-12 1-12 0-14-0.5-12-1-14-2-14-2.5-14-3.5-14-3.5-14-4.5-14-5-14-6-12-5.5-14-6.5-13-7.5-13-7.5-12-8-12-8.5-12-9-10.5-9-11-10-10.5-9.5-10-10.5-10-11-10-12-8.5-11-9.5-13.5-8-12-8-13-8-14.5-7.5-15-6.5-14-6-14.5-6-16-5-15.5-4.5-16-4-16-3-14-2.5-16-2-16-1.5-16-0.5-14 0-16 0.5-14 1.5-14 2.5-14 2.5-12.5 4-13.5 4-11.5 4.5-10.5 5.5-9.5 5.5-8.5 6.5-7.5 6-6.5 8-5.5 8-5 8-3z"/>
<path fill="#febe3c" d="M1102 918l6-1 8-0.5 6 0 8 0.5 8 1 8 1.5 8 2.5 10 3 10 4 10 4.5 20 10.5 22 13.5 22 14.5 24 18 26 21 24 21.5 25 23.5 24 24 21.5 24 21.5 25 19.5 25 16 22 14.5 22 13 22 10.5 20 9.5 20 7 18 5.5 18 2 10 1.5 8 1 8 1 8 0 8 0 8-1 8-1 6-1.5 8-2 6-2 6-3 6-3.5 6-4 6-4.5 6-4.5 5-5.5 5-5 4-7.5 5-9 5-9 4.5-10 3.5-10 3-12 2.5-10 1-12 1-12 0.5-12-0.5-12-1-14-1.5-14-2.5-12-2.5-14-3.5-14-4.5-12-4.5-14-5.5-13.5-6-12.5-6-12-6.5-12-7-12-7.5-12-8.5-11-8.5-11-8.5-10.5-9.5-11.5-10.5-10-10.5-10-11-10-11.5-8-10.5-10-14-8-12-8-13-7-13-7-13-6-13-6-14-6-16-5.5-16-4-14-4.5-16-3-14-2.5-16-2-14-1.5-16-0.5-14 0-14 0.5-14 1-14 2-14 2.5-12 3.5-12 4-11.5 4.5-10.5 5-10 5.5-8 6.5-8 6-6 6.5-5 8-5 8-3.5z"/>
<path fill="#fec13a" d="M1116.5 926l7.5 0 6 0 8 1 8 1.5 8 2 8 2.5 8 3 10 4 18 8.5 20 11.5 22 14 22 16 23.5 18 22.5 19.5 23 20.5 23 23 22 23 20 23 19 23 18 24 14 20 12.5 20 11.5 20 10 20 7.5 18 6.5 18 5 18 3 16 1 8 0 8 0 14-1.5 8-1 6-1.5 6-2 6.5-2.5 5.5-3 6-3.5 6-4.5 6-4.5 5.5-4 4-5 4.5-5 4-8 5-9.5 5-8.5 3.5-10 3.5-10 2.5-12 2.5-10 1-12 0.5-12 0-12-0.5-12-1-14-2.5-12-2-14-3.5-13-4-13-4-12-5-12-5-12.5-6-13.5-6.5-12-7-12-7.5-10-7-12-8.5-12-9.5-10-8.5-10-9.5-10-9.5-9.5-10.5-8.5-10-10-12-8-11-8-11.5-8.5-13.5-8-14-7.5-14-7-14-6-14-5.5-14-5.5-16-4-14-4-14.5-3.5-15.5-2.5-15-2-15-1.5-14-0.5-14 0-14 0.5-14 1.5-14 1.5-12 2.5-12 3.5-12 3.5-10 5-11 4.5-9 5.5-7.5 6-7.5 6-6 8-6 8-4.5 8-3 8-2z"/>
<path fill="#fec338" d="M1118 936l6 0 8 0 6 0.5 8 1 8 2 8 2 8 2.5 10 4 18 8.5 20 11 20 13 20 14 22 17 22 18.5 22.5 20 21.5 21 20 21 20 22.5 18 22 18 23.5 14 20 14 22 11.5 20 9 18 7.5 18 6.5 18 4.5 16 2.5 16 1 8 0.5 8-0.5 14-1 8-1 6-1.5 6-2 6-2.5 6-3 6-3.5 6-3 4-5 6-4 4-4.5 4-5 4-8.5 5.5-8 4.5-8 3.5-10 3-10 3-10 1.5-10 1.5-12 0.5-12 0-12-0.5-12-1-12-2-12-2.5-12-2.5-14-4.5-12-4-12-4.5-12-5-12-5.5-12-6.5-11.5-6.5-10.5-6.5-11-7.5-11-8-10-8-12-10-10-9-9-9-9-9.5-9-10.5-9-11-8-11-8-11.5-8-12.5-8-13.5-6.5-12.5-7-14-6-14-5.5-14-5-14-4.5-14-3.5-14-3-14-3-14.5-2-13.5-1.5-14-0.5-14-0.5-14 1-14 1-12 1.5-12 2.5-12 2.5-10 4-11 4-9.5 5-9.5 5-7.5 6-7.5 6-6 6-5 8-4.5 7-3.5 9-2.5z"/>
<path fill="#fec636" d="M1121.5 946l6.5-0.5 6 0 6 0.5 8 1 8 2 8 2 16 5.5 18 8.5 18 9.5 20 12.5 20 14 20 15 22 18.5 22 19.5 20.5 20 19.5 20.5 19 21.5 18 22 17 22 13.5 20 11.5 18 11.5 20 9 18 7.5 18 6 16 4.5 16 3 16 1 8 0.5 8 0 8-0.5 6-2 12-1 6-2.5 7.5-2 5-3 5.5-3.5 6-3.5 5.5-4 4.5-4 4.5-4.5 3.5-5.5 4.5-6 4-8 4.5-8 3.5-10 3.5-10 2.5-10 2-10 1.5-10 0.5-10 0-12-0.5-12-1-12-2-12-2-12-3-12-3.5-12-4-12-4.5-12-5.5-10-4.5-12-6.5-10-5.5-12-7.5-12-8-10-7.5-10-8-10-8.5-10-9-9-9.5-9-9.5-8-9-8-10-8.5-11.5-7.5-10.5-8-12.5-7.5-13-6.5-12-6-12-6-14-5.5-14-5-14-4-12-3.5-14-3.5-14-2.5-14-2-14-1.5-14-0.5-14 0-12 0.5-14 1-12 2-12 2-10 2.5-10 4-10.5 4-9 4.5-8.5 5.5-8 5-6 6-6 7-5 6-3.5 8-3.5 8-2.5z"/>
<path fill="#fec835" d="M1127.5 956l6.5 0 6 0 6 0.5 8 1.5 8 1.5 8 2.5 16 6 16 7 18 10 18 11.5 20 14 20 15.5 20 16.5 20 18.5 19.5 19 19 20 17.5 20 18 22 15 20 12 18 11.5 18 10 18 9 18 7.5 18 5.5 16 4 16 2.5 14 1.5 14 0 8-0.5 6-2 12-1.5 6-1.5 6-2.5 6-3 6-3.5 5.5-3 4.5-7.5 8-4 4-5.5 4.5-6 4-8 4.5-8 3.5-10 3-8 2.5-10 1.5-10 1.5-10 0.5-10 0-12-0.5-10-1-12-2-12-2.5-12-3-10-3-12-4-10-4-12-5-12-6-10-5-12-7-10-6.5-10-7-10-7.5-10-8-10-8.5-9.5-9-8.5-8.5-8-9-8-9-8-10-8-11-8-11.5-6.5-11-7-12-6.5-12-6-12-6-14-4.5-12-5-14-4.5-14-3-12-3-14-2-12-2-13.5-1-12.5-1-14 0-12 1-12 1-12 2-11.5 2.5-10.5 3-10 3.5-10 4-8 5-8 4-6 6-6.5 6-5.5 6-4 7-4 7-2.5 8-2z"/>
<path fill="#fecb33" d="M1122 968l6-1 6-0.5 6 0 8 0.5 6 0.5 8 1.5 14 4 16 6.5 16 7.5 18 10 18 12 18.5 13 20.5 16 19 17 20 18.5 18.5 18.5 18 20 17 20 15.5 20 13 19 12.5 19 10.5 18 9 18 8 18 6 16 4.5 16 2.5 14 1.5 14 0 8 0 6-2 12-1 6-2 6-4 10-3.5 6-2.5 4-5 6-3.5 4-4.5 4-4.5 3.5-7 4.5-7 4-8 3.5-7.5 2.5-8.5 2.5-8.5 1.5-9.5 1.5-10 0.5-10 0-10 0-10-1-10-1.5-10-2-12-3-10-2.5-12-4-10-4-12-5-10-4.5-10-5.5-10-5.5-10-6.5-10-6.5-8.5-6.5-17.5-14-9-8-9-8.5-8-8.5-8-9-8-9.5-8-10.5-7-10-7-10.5-7-11.5-6.5-12-6.5-12-4.5-10-5-12-4.5-12-4-12-4-12.5-3.5-13.5-2.5-12-2-12-1.5-12-1-12-0.5-12 0-12 0.5-10 1-12 2-10 2-10 3-10 3-8 4-8 3.5-6.5 5-7.5 5-5.5 6-5.5 6-4.5 6-3.5 6-2.5z"/>
<path fill="#fdcd31" d="M1130.5 978l5.5-0.5 6-0.5 6 0.5 8 0.5 6 1 8 2 14 4.5 16 6.5 16 8 16 9.5 18 12 18 13.5 18.5 15 18 16 18.5 18 17.5 18 16 18 15.5 19.5 14 18.5 12 17.5 10.5 16.5 10 18 8 16 7 16 5.5 16 4 16 2.5 14 1 14-0.5 12-2 12-3 10-4 10-3 5-3.5 5-7 8-4.5 4-5 4-6.5 4-7.5 4-6 2.5-8 2.5-8 2.5-10 1.5-8 1-10 0.5-10 0-10-0.5-10-1.5-10-1.5-10-2-10-2.5-10-3.5-10-3.5-10-4-10-4-10-5-10-5.5-18-11-10-7-9-7-17-14-8-7.5-8.5-8.5-7.5-8-8-9-8-10-6.5-9-7-10-6.5-10-6-10.5-6.5-11.5-5.5-11.5-4.5-10.5-5-12-4.5-12-4-12-2.5-10-3-12-2.5-12-2-12-1-12-1-12 0-10 0-12 1-10 1-10 2-9 2.5-9 2.5-8 3-8 4-8 5.5-8 4.5-5.5 4-4.5 6-4.5 6-4 6-3 6-2.5z"/>
<path fill="#fcd030" d="M1131 990l5-1 6-0.5 6 0 6 0 12 1.5 14 4 14 5 16 7.5 16 8.5 17.5 11 16.5 12 18 14.5 18 15.5 16 15 17 17 16 18 15 18 14 18 12 17.5 10.5 16.5 9 16 8 16 7 16 6 16 3.5 14 3 14 1 14-0.5 12-1.5 12-3 10-4 10-5 8-7 8-4 4-5 4-6 4-6 3.5-6 2.5-8 3-8 2-8 1.5-8 1.5-8 0.5-8 0-10-0.5-8-0.5-10-1.5-10-2-10-2.5-10-3-10-3-18-7.5-10-5-10-5-18-11-10-7-8-6-16-13-16-15.5-14-15.5-8-9.5-6.5-8.5-7-10-6.5-10-6-10-5.5-10-5-10-5.5-12-8-20-4-12-3-10-3-12-2-10-2-10.5-1.5-11.5-1-12-0.5-10 0.5-10 0.5-10 1-10 1.5-8 2.5-10 2.5-8 2.5-7 3.5-7 3.5-6 4-6 5-5.5 5-4.5 5-3.5 6-3.5 6-2.5z"/>
<path fill="#fbd32f" d="M1146 1000l10 0 12 1.5 12 2.5 14 5 14 6 14 7.5 16 10 16 11 16 12 16 13.5 16 14.5 14.5 14.5 15 16 14 16 12.5 16 13 18 10.5 16 8.5 14 8.5 16 6.5 14 5.5 14 4.5 14 3.5 14 2 12 0.5 12-0.5 12-1.5 10-3 10-2 4.5-3 5.5-5.5 8-3.5 4-4 4-7.5 6-6.5 4-6 3-6 2.5-8 2.5-8 2-8 1-8 0.5-8 0.5-8-0.5-10-0.5-8-1.5-10-1.5-8-2-10-3-18-6.5-18-8-8-4.5-10-5.5-16-10.5-16-12-15.5-14-14.5-14-14-16.5-13-17.5-6.5-10-6-10-10.5-19.5-5-10.5-4-10-7.5-20-5.5-20-2-10-2.5-12-1.5-12-0.5-10-0.5-10 0-10 1-10 1-8 2-10 2-8 2.5-8 2.5-6 4-7 4-6 4-5 6-6 5-4 5-3 6-2.5 6-2 6-1.5z"/>
<path fill="#fad52d" d="M1155 1012l11 0.5 12 2.5 12 3 12 5 12 5.5 14 7.5 16 10 13.5 10 14.5 11.5 15 12.5 14.5 14 14 14 12.5 14 13.5 16 11 14 11 16 9 14 8 14 7.5 14 6 14 5.5 14 3.5 12 2.5 12 2 12 0.5 12-1 10-2 10-3 9.5-4.5 8.5-5.5 8-6 6.5-7.5 5.5-4.5 3-6 3-6 2.5-8 2.5-6 1.5-8 1-8 1-8 0-8 0-8-1-10-1.5-8-1.5-16-4.5-10-3-8-3.5-16-7.5-8-4-10-6-16-10.5-14.5-11.5-15-14-13.5-14-13-15-12-17-11-18-9.5-18-4.5-10-4-10-4-10-3-10-3-10-2.5-10-2-10-1.5-10-1-10-0.5-10 0-10 0.5-8 0.5-8 1.5-8.5 2-9 2-6.5 3-8 3-6 4-6.5 4-5.5 4-4 4-3.5 4-3 6-3.5 6-2.5 6-1.5 6-1.5z"/>
<path fill="#f9d82c" d="M1150 1026l10-1 10 0.5 10 1.5 12 3.5 12 4.5 12 5.5 14 7.5 12.5 8 13.5 9.5 14 11.5 14 12 14 13 13.5 14 12.5 14 11.5 14 10.5 14 9.5 14 8.5 14 7.5 14 6 12 6 14 4 12 3 12 2.5 12 1 12-0.5 10-1.5 10-2.5 10-4 8-5 8-5 6-7.5 6.5-4 2.5-6 3.5-6 2.5-6 2-6 1.5-6 1-6.5 0.5-7.5 0.5-14-0.5-8-1-8-1-16-4-16-5.5-14.5-6.5-15.5-8-15-10-15-11-14-12-12-12-12-13.5-11.5-15.5-10.5-16-10-18-8.5-18-7-18-5.5-18-3.5-18-1.5-9-1-9-0.5-16 0.5-8 0.5-8 1.5-8 1-6 2-6 2-6 2.5-6 3.5-6.5 3.5-5.5 3.5-4 4-4 5-3.5 4-2.5 6-3 4-1.5z"/>
<path fill="#f7db2b" d="M1155 1040l9-1 10 0 10 1.5 10 3 10 3.5 12 5 12 6.5 12 7.5 12 8.5 12.5 9.5 13.5 11.5 12 11.5 12 12 11.5 13 10.5 12.5 10 13.5 8.5 12 7.5 12.5 8 13.5 5.5 12 5 12 4.5 12 3 12 2 10.5 1 9.5 0 10-1.5 10-2 8-3 8-5 8-5 6-6.5 6-4 3-6 3-4.5 2-5.5 2-6 1.5-6 1-12 1-6 0-8-0.5-14-2-14-3.5-14-4.5-14-6.5-14-7.5-14-9-12-9-13-11-12-12-11-12-10.5-14-10.5-16-9-15.5-7.5-16.5-6.5-16-5-16-3.5-16-2-16-1-16 0.5-14 1-6 1.5-8 2-6 2-6 2.5-5.5 2.5-4.5 2.5-4 3-4 4-4 4-3.5 4-2.5 4-2 6-2.5z"/>
<path fill="#f6dd29" d="M1168.5 1054l7.5 0 10 1 10 2.5 8.5 2.5 9.5 4 12 6 10 6 12 8 10.5 8 11.5 10 11.5 10 10 10 10.5 12 9 10 9 12 8 11.5 7 10.5 7 12 6 12 4.5 10 3.5 10 3 10 2.5 10 1.5 10 0 10-0.5 8-1.5 8-2.5 8-3 6-4 6-5.5 6-6 5-8 4.5-4 1.5-6 2-10 2-12 0.5-12-0.5-14-2.5-14-4-12-5-12-5.5-13-8-13-8.5-11.5-9.5-10.5-10-11.5-12-10-12-8.5-12-8.5-14-7.5-14-6.5-14-5.5-16-4-14-3-16-1.5-14 0.5-14 1-12 1.5-6 1.5-6 2-5 2.5-5 2-4 3.5-4.5 6-6.5 4-3 4-2.5 4-2 4-1.5 6-1z"/>
<path fill="#f6e028" d="M1168 1072l6-1 8-0.5 8 1 8 1.5 10 3 8 3.5 10 5 10 6 10 6.5 10 7.5 10 8.5 10 9 10 10 8 9.5 9 10.5 7.5 10 7 10 6.5 11 6 11 4.5 10 4 10 3.5 10 2 10 1.5 8 0.5 8-0.5 8-1 8-2 6-2.5 6.5-4 6-5 5.5-5 4-4 2.5-4 2-8 3-8 1.5-10 1-10-0.5-12-2-11.5-3.5-10.5-4-12-5.5-10-5.5-10-7-10-7.5-10-9-9.5-9.5-8.5-9.5-8-10.5-8-12-7-12-6.5-14-5-12-3.5-12-3.5-14-1.5-12-1-12 0.5-10 1.5-10 3-10 3.5-8 2.5-4 3-3.5 2.5-2.5 3.5-3 6-4 4-1.5z"/>
<path fill="#f5e327" d="M1183 1090l7 0 6 0.5 6 1 8 2.5 8 3 8 4 8 4.5 7.5 4.5 8 6 7.5 6 7 6.5 8 7.5 7.5 8 7 8 7.5 9.5 6 8.5 5 8 5 8.5 4 8 4.5 9.5 3 8 2 8 2 8 0.5 8 0.5 8-1 6-1 6-2.5 6-2 4.5-4 5.5-4 3.5-3.5 2.5-6.5 3.5-8 2.5-8 1.5-8 0-8-1-10-2-8-2.5-10-4-8-4-10-6-8.5-6-9.5-7.5-8-7.5-8-8.5-8-10-6-8.5-6-10-6-10.5-5-11.5-3.5-10-3.5-12-2-10-1-10 0-10 1-8 2-8.5 3-7.5 3.5-6 3.5-4 2-1.5 6-4.5 6-2.5z"/>
<path fill="#f5e526" d="M1191 1114l5-0.5 6 0 4 0.5 6 1.5 6 2 6 2.5 6 3 6 3.5 12 9 6 5 6 5.5 6 6 6 7 10 13 8 13 6 13 4.5 12 1.5 6 0.5 6 0.5 6 0 4-1 6-1 4-2 4-2.5 4-2.5 3.5-4 3.5-4 2-6 2.5-6 1-6 0-6 0-8-1.5-8-2.5-6-2.5-7-4-7-4-6-4-7-6-6.5-6-6-6-6.5-8-4.5-6-5-8-4.5-8-3.5-8-2.5-6-2.5-8-2-8-1.5-8 0-8 0.5-8 1-6 2-6 2.5-4 4-5 3.5-3 4.5-2z"/>
<path fill="#f5e825" d="M1206 1150l4-1 6-0.5 6 1.5 4 1 4 2 8 5 6 5 6 6 6 7 5.5 8 4 8 2.5 8 1 6 0 6-1 6-2.5 4-1.5 2-2 1.5-2 1.5-4 1-6 0.5-6-1-4-1-4-2-8-4.5-6-4.5-6-5.5-6-7.5-5.5-8.5-4-8-2.5-8-1-8 0-6 1-4 0.5-2 1.5-2.5 2-2.5z"/></g>
<path d="M904.0 1110.6 L908.0 1130.0 L912.2 1148.2 L917.4 1168.2 L922.5 1186.2 L928.1 1204.2 L934.9 1224.2 L941.6 1242.2 L948.8 1260.2 L956.0 1276.9 L964.0 1294.2 L972.0 1310.2 L981.6 1328.2 L990.7 1344.2 L1000.0 1359.5 L1010.0 1374.9 L1020.0 1389.3 L1031.0 1404.2 L1041.9 1418.2 L1052.0 1430.3 L1064.0 1444.0 L1076.0 1456.8 L1088.0 1469.0 L1100.0 1480.5 L1114.0 1493.2 L1128.0 1505.2 L1142.0 1516.5 L1156.0 1527.3 L1172.0 1539.0 L1188.0 1550.0 L1204.0 1560.6 L1222.0 1571.9 L1239.2 1582.2 M1644.0 1122.2 L1616.1 1094.2 L1587.8 1066.2 L1559.0 1038.2 L1531.8 1012.2 L1504.1 986.2 L1475.9 960.2 L1385.7 878.2 L1357.4 852.2 L1327.8 824.2 L1315.5 812.2 L1303.5 800.2" fill="none" stroke="#e05c52" stroke-width="4"/>
<path d="M1118.0 938.1 L1114.0 938.7 L1110.0 939.5 L1106.0 940.6 L1102.0 941.9 L1098.0 943.5 L1094.0 945.5 L1088.0 949.1 L1084.0 952.0 L1081.4 954.2 L1078.0 957.3 L1075.2 960.2 L1070.0 966.5 L1067.3 970.2 L1064.0 975.4 L1062.0 978.9 L1059.3 984.2 L1057.5 988.2 L1055.0 994.2 L1051.5 1004.2 L1049.8 1010.2 L1048.3 1016.2 L1046.0 1028.2 L1044.3 1040.2 L1043.3 1052.2 L1042.8 1066.2 L1043.0 1078.2 L1043.7 1092.2 L1045.1 1106.2 L1047.1 1120.2 L1049.7 1134.2 L1052.9 1148.2 L1056.6 1162.2 L1061.0 1176.2 L1065.9 1190.2 L1071.4 1204.2 L1077.6 1218.2 L1084.0 1231.4 L1090.9 1244.2 L1098.0 1256.5 L1106.0 1269.1 L1114.0 1280.7 L1122.0 1291.4 L1130.0 1301.4 L1139.3 1312.2 L1148.0 1321.5 L1158.0 1331.5 L1167.3 1340.2 L1178.0 1349.4 L1188.0 1357.4 L1200.0 1366.2 L1210.0 1373.0 L1221.4 1380.2 L1232.0 1386.3 L1244.0 1392.6 L1256.0 1398.4 L1268.0 1403.6 L1280.0 1408.2 L1292.0 1412.3 L1305.1 1416.2 L1318.0 1419.4 L1330.0 1421.8 L1342.0 1423.6 L1354.0 1424.9 L1366.0 1425.6 L1378.0 1425.6 L1390.0 1424.9 L1400.0 1423.7 L1410.0 1421.9 L1420.0 1419.3 L1429.3 1416.2 L1438.0 1412.5 L1442.0 1410.6 L1446.3 1408.2 L1450.0 1405.9 L1454.0 1403.2 L1460.0 1398.6 L1464.0 1395.0 L1468.0 1390.9 L1472.0 1386.2 L1476.0 1380.7 L1478.8 1376.2 L1482.0 1370.2 L1484.5 1364.2 L1486.6 1358.2 L1488.3 1352.2 L1489.5 1346.2 L1490.6 1338.2 L1491.0 1332.2 L1491.1 1324.2 L1490.7 1316.2 L1489.8 1308.2 L1488.6 1300.2 L1487.0 1292.2 L1485.0 1284.2 L1482.7 1276.2 L1480.0 1268.2 L1476.3 1258.2 L1472.2 1248.2 L1468.6 1240.2 L1463.8 1230.2 L1459.7 1222.2 L1454.2 1212.2 L1448.4 1202.2 L1442.3 1192.2 L1435.8 1182.2 L1429.1 1172.2 L1422.0 1162.1 L1413.2 1150.2 L1404.0 1138.3 L1395.9 1128.2 L1386.0 1116.3 L1376.0 1104.8 L1366.4 1094.2 L1356.0 1083.0 L1346.0 1072.7 L1335.4 1062.2 L1324.0 1051.2 L1312.0 1040.2 L1302.0 1031.3 L1291.4 1022.2 L1280.0 1012.8 L1269.1 1004.2 L1258.0 995.8 L1248.0 988.6 L1238.0 981.8 L1228.0 975.2 L1218.0 969.1 L1208.0 963.3 L1198.0 958.0 L1188.0 953.2 L1180.0 949.7 L1170.0 945.8 L1162.0 943.1 L1154.0 940.9 L1146.0 939.2 L1138.0 938.1 L1132.0 937.6 L1124.0 937.6Z" fill="none" stroke="#c01c06" stroke-width="4.5"/>
<circle cx="1273.0" cy="1228.6" r="9.2" fill="#000"/>
</g>
<g fill="none" stroke="#000" stroke-width="4.2" stroke-linecap="butt"><rect x="135.5" y="1.7" width="733.5" height="763.3"/><rect x="135.5" y="803.2" width="733.5" height="775.8"/><rect x="907" y="803.2" width="734" height="775.8"/><path d="M135.5 765V803.2M869 765V803.2M869 803.2H907"/><path d="M162.6 1.7v7.6M162.6 765.0v-7.6M276.1 1.7v7.6M276.1 765.0v-7.6M389.6 1.7v7.6M389.6 765.0v-7.6M503.0 1.7v7.6M503.0 765.0v-7.6M616.5 1.7v7.6M616.5 765.0v-7.6M729.9 1.7v7.6M729.9 765.0v-7.6M843.4 1.7v7.6M843.4 765.0v-7.6M135.5 77.0h7.6M869.0 77.0h-7.6M135.5 194.3h7.6M869.0 194.3h-7.6M135.5 311.7h7.6M869.0 311.7h-7.6M135.5 429.0h7.6M869.0 429.0h-7.6M135.5 546.4h7.6M869.0 546.4h-7.6M135.5 663.8h7.6M869.0 663.8h-7.6M162.6 803.2v7.6M162.6 1579.0v-7.6M276.1 803.2v7.6M276.1 1579.0v-7.6M389.6 803.2v7.6M389.6 1579.0v-7.6M503.0 803.2v7.6M503.0 1579.0v-7.6M616.5 803.2v7.6M616.5 1579.0v-7.6M729.9 803.2v7.6M729.9 1579.0v-7.6M843.4 803.2v7.6M843.4 1579.0v-7.6M135.5 885.7h7.6M869.0 885.7h-7.6M135.5 963.4h7.6M869.0 963.4h-7.6M135.5 1041.0h7.6M869.0 1041.0h-7.6M135.5 1118.7h7.6M869.0 1118.7h-7.6M135.5 1196.3h7.6M869.0 1196.3h-7.6M135.5 1274.0h7.6M869.0 1274.0h-7.6M135.5 1351.6h7.6M869.0 1351.6h-7.6M135.5 1429.2h7.6M869.0 1429.2h-7.6M135.5 1506.9h7.6M869.0 1506.9h-7.6M1004.6 803.2v7.6M1004.6 1579.0v-7.6M1117.5 803.2v7.6M1117.5 1579.0v-7.6M1230.4 803.2v7.6M1230.4 1579.0v-7.6M1343.3 803.2v7.6M1343.3 1579.0v-7.6M1456.2 803.2v7.6M1456.2 1579.0v-7.6M1569.1 803.2v7.6M1569.1 1579.0v-7.6M907.0 885.7h7.6M1641.0 885.7h-7.6M907.0 963.4h7.6M1641.0 963.4h-7.6M907.0 1041.0h7.6M1641.0 1041.0h-7.6M907.0 1118.7h7.6M1641.0 1118.7h-7.6M907.0 1196.3h7.6M1641.0 1196.3h-7.6M907.0 1274.0h7.6M1641.0 1274.0h-7.6M907.0 1351.6h7.6M1641.0 1351.6h-7.6M907.0 1429.2h7.6M1641.0 1429.2h-7.6M907.0 1506.9h7.6M1641.0 1506.9h-7.6"/></g>
<text transform="translate(116.3 89.1) scale(1 1.04)" text-anchor="end">0.34</text><text transform="translate(116.3 206.4) scale(1 1.04)" text-anchor="end">0.32</text><text transform="translate(116.3 323.8) scale(1 1.04)" text-anchor="end">0.30</text><text transform="translate(116.3 441.1) scale(1 1.04)" text-anchor="end">0.28</text><text transform="translate(116.3 558.5) scale(1 1.04)" text-anchor="end">0.26</text><text transform="translate(116.3 675.9) scale(1 1.04)" text-anchor="end">0.24</text><text transform="translate(116.3 897.8) scale(1 1.04)" text-anchor="end">0.28</text><text transform="translate(116.3 975.5) scale(1 1.04)" text-anchor="end">0.27</text><text transform="translate(116.3 1053.1) scale(1 1.04)" text-anchor="end">0.26</text><text transform="translate(116.3 1130.8) scale(1 1.04)" text-anchor="end">0.25</text><text transform="translate(116.3 1208.4) scale(1 1.04)" text-anchor="end">0.24</text><text transform="translate(116.3 1286) scale(1 1.04)" text-anchor="end">0.23</text><text transform="translate(116.3 1363.7) scale(1 1.04)" text-anchor="end">0.22</text><text transform="translate(116.3 1441.3) scale(1 1.04)" text-anchor="end">0.21</text><text transform="translate(116.3 1519) scale(1 1.04)" text-anchor="end">0.20</text><text transform="translate(162.6 1619) scale(1 1.04)" text-anchor="middle">-0.06</text><text transform="translate(276.1 1619) scale(1 1.04)" text-anchor="middle">-0.04</text><text transform="translate(389.6 1619) scale(1 1.04)" text-anchor="middle">-0.02</text><text transform="translate(503 1619) scale(1 1.04)" text-anchor="middle">0</text><text transform="translate(616.5 1619) scale(1 1.04)" text-anchor="middle">0.02</text><text transform="translate(729.9 1619) scale(1 1.04)" text-anchor="middle">0.04</text><text transform="translate(843.4 1619) scale(1 1.04)" text-anchor="middle">0.06</text><text transform="translate(1004.6 1619) scale(1 1.04)" text-anchor="middle">0.24</text><text transform="translate(1117.5 1619) scale(1 1.04)" text-anchor="middle">0.26</text><text transform="translate(1230.4 1619) scale(1 1.04)" text-anchor="middle">0.28</text><text transform="translate(1343.3 1619) scale(1 1.04)" text-anchor="middle">0.30</text><text transform="translate(1456.2 1619) scale(1 1.04)" text-anchor="middle">0.32</text><text transform="translate(1569.1 1619) scale(1 1.04)" text-anchor="middle">0.34</text><text transform="translate(23.7 380.9) rotate(-90) scale(1 1.04)" text-anchor="middle">Amplitude <tspan class="i">A</tspan> ( )</text><text transform="translate(23.7 1191.6) rotate(-90) scale(1 1.04)" text-anchor="middle">Sigma <tspan class="i">σ</tspan> (ppb)</text><text transform="translate(1281.4 1661) scale(1 1.04)" text-anchor="middle">Amplitude <tspan class="i">A</tspan> ( )</text><text class="m" transform="translate(393.8 1659.4) scale(1.12 1.0)" style="font-size:37.5px">Γ</text><text class="m" transform="translate(418 1668) scale(1.18 1.24)" style="font-size:44px">/</text><text class="m" transform="translate(433.4 1659.4) scale(1.12 1.0)" style="font-size:37.5px">Γ</text><text class="m" transform="translate(455.2 1663.9) scale(1.1 1.0)" style="font-size:22.2px">0</text><text class="m" transform="translate(475.8 1662.4) scale(1.22 1.0)" style="font-size:37.5px">−</text><text class="m" transform="translate(510.6 1659.4) scale(1.0 1.0)" style="font-size:35px">1</text><text transform="translate(536.3 1660) scale(1 1.04)">(ppb)</text>
<rect x="1219.8" y="76.2" width="108.9" height="627.3" fill="url(#cb)"/><path d="M1219.8 110.2H1328.7" stroke="#000" stroke-width="4.8"/><path d="M1219.8 167.6H1328.7" stroke="#c01c06" stroke-width="4.6"/><path d="M1219.8 338.8H1328.7" stroke="#e05c52" stroke-width="4.6"/><path d="M1328.7 133.0h-18.5M1328.7 190.1h-10.3M1328.7 247.1h-18.5M1328.7 304.1h-10.3M1328.7 361.2h-18.5M1328.7 418.2h-10.3M1328.7 475.3h-18.5M1328.7 532.3h-10.3M1328.7 589.4h-18.5M1328.7 646.4h-10.3" stroke="#000" stroke-width="4" fill="none"/><rect x="1219.8" y="76.2" width="108.9" height="627.3" fill="none" stroke="#000" stroke-width="4.4"/><text transform="translate(1344.6 145.1) scale(1 1.04)">-133</text><text transform="translate(1344.6 259.2) scale(1 1.04)">-134</text><text transform="translate(1344.6 373.3) scale(1 1.04)">-135</text><text transform="translate(1344.6 487.4) scale(1 1.04)">-136</text><text transform="translate(1344.6 601.5) scale(1 1.04)">-137</text><text transform="translate(1344.6 715.6) scale(1 1.04)">-138</text><text transform="translate(1197.9 122.5) scale(1 1.04)" text-anchor="end">Centre</text><text transform="translate(1197.9 176) scale(1 1.04)" text-anchor="end">68% CL</text><text transform="translate(1197.9 347.3) scale(1 1.04)" text-anchor="end">95% CL</text><text transform="translate(1459 390) rotate(-90) scale(1 1.04)" text-anchor="middle">Likelihood ( )</text>
</svg></body></html>
